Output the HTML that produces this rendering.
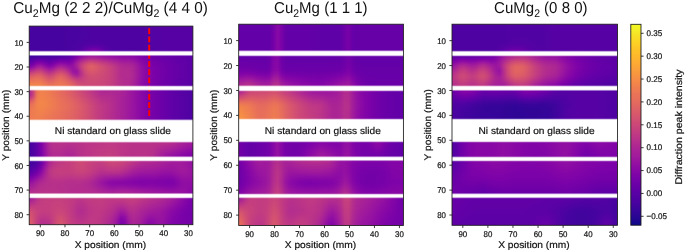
<!DOCTYPE html>
<html><head><meta charset="utf-8"><title>Diffraction peak intensity maps</title>
<style>
html,body{margin:0;padding:0;background:#fff}
body{width:685px;height:252px;position:relative;overflow:hidden;font-family:"Liberation Sans",sans-serif}
.s{position:absolute}
.s i{display:block;height:1px}
</style></head><body>
<div class="s" style="left:29px;top:25px;width:164px">
<i style="background:linear-gradient(90deg,#46039f,#46039f,#46039f,#46039f,#46039f,#46039f,#46039f,#46039f,#46039f,#48039f,#4903a0,#4903a0,#4903a0,#4b03a1,#4b03a1,#4c02a1,#4e02a2,#4e02a2,#4e02a2,#4e02a2,#4e02a2,#4e02a2,#4e02a2,#4e02a2,#4e02a2,#4e02a2,#4e02a2,#4e02a2,#4e02a2,#5002a2,#5102a3,#5302a3,#5502a4,#5502a4,#5601a4,#5601a4,#5601a4,#5601a4,#5601a4,#5601a4,#5601a4,#5601a4)"></i>
<i style="background:linear-gradient(90deg,#46039f,#46039f,#46039f,#46039f,#46039f,#46039f,#46039f,#46039f,#46039f,#48039f,#4903a0,#4903a0,#4903a0,#4b03a1,#4b03a1,#4c02a1,#4e02a2,#4e02a2,#4e02a2,#4e02a2,#4e02a2,#4e02a2,#4e02a2,#4e02a2,#4e02a2,#4e02a2,#4e02a2,#4e02a2,#4e02a2,#5002a2,#5102a3,#5302a3,#5502a4,#5502a4,#5601a4,#5601a4,#5601a4,#5601a4,#5601a4,#5601a4,#5601a4,#5601a4)"></i>
<i style="background:linear-gradient(90deg,#46039f,#46039f,#46039f,#46039f,#46039f,#46039f,#46039f,#46039f,#46039f,#48039f,#4903a0,#4903a0,#4903a0,#4b03a1,#4b03a1,#4c02a1,#4e02a2,#4e02a2,#4e02a2,#4e02a2,#4e02a2,#4e02a2,#4e02a2,#4e02a2,#4e02a2,#4e02a2,#4e02a2,#4e02a2,#4e02a2,#5002a2,#5102a3,#5302a3,#5502a4,#5502a4,#5601a4,#5601a4,#5601a4,#5601a4,#5601a4,#5601a4,#5601a4,#5601a4)"></i>
<i style="background:linear-gradient(90deg,#46039f,#46039f,#46039f,#46039f,#46039f,#46039f,#46039f,#46039f,#46039f,#48039f,#4903a0,#4903a0,#4903a0,#4b03a1,#4b03a1,#4c02a1,#4e02a2,#4e02a2,#4e02a2,#4e02a2,#4e02a2,#4e02a2,#4e02a2,#4e02a2,#4e02a2,#4e02a2,#4e02a2,#4e02a2,#4e02a2,#5002a2,#5102a3,#5302a3,#5502a4,#5502a4,#5601a4,#5601a4,#5601a4,#5601a4,#5601a4,#5601a4,#5601a4,#5601a4)"></i>
<i style="background:linear-gradient(90deg,#46039f,#46039f,#46039f,#46039f,#46039f,#46039f,#46039f,#46039f,#46039f,#48039f,#4903a0,#4903a0,#4903a0,#4b03a1,#4b03a1,#4c02a1,#4e02a2,#4e02a2,#4e02a2,#4e02a2,#4e02a2,#4e02a2,#4e02a2,#4e02a2,#4e02a2,#4e02a2,#4e02a2,#4e02a2,#4e02a2,#5002a2,#5102a3,#5302a3,#5502a4,#5502a4,#5601a4,#5601a4,#5601a4,#5601a4,#5601a4,#5601a4,#5601a4,#5601a4)"></i>
<i style="background:linear-gradient(90deg,#46039f,#46039f,#46039f,#46039f,#46039f,#46039f,#46039f,#46039f,#46039f,#48039f,#4903a0,#4903a0,#4903a0,#4b03a1,#4b03a1,#4c02a1,#4e02a2,#4e02a2,#4e02a2,#4e02a2,#4e02a2,#4e02a2,#4e02a2,#4e02a2,#4e02a2,#4e02a2,#4e02a2,#4e02a2,#4e02a2,#5002a2,#5102a3,#5302a3,#5502a4,#5502a4,#5601a4,#5601a4,#5601a4,#5601a4,#5601a4,#5601a4,#5601a4,#5601a4)"></i>
<i style="background:linear-gradient(90deg,#46039f,#46039f,#46039f,#46039f,#46039f,#46039f,#46039f,#46039f,#46039f,#48039f,#4903a0,#4903a0,#4903a0,#4b03a1,#4b03a1,#4c02a1,#4e02a2,#4e02a2,#4e02a2,#4e02a2,#4e02a2,#4e02a2,#4e02a2,#4e02a2,#4e02a2,#4e02a2,#4e02a2,#4e02a2,#4e02a2,#5002a2,#5102a3,#5302a3,#5502a4,#5502a4,#5601a4,#5601a4,#5601a4,#5601a4,#5601a4,#5601a4,#5601a4,#5601a4)"></i>
<i style="background:linear-gradient(90deg,#46039f,#46039f,#46039f,#46039f,#46039f,#46039f,#46039f,#46039f,#46039f,#48039f,#4903a0,#4903a0,#4903a0,#4b03a1,#4b03a1,#4c02a1,#4e02a2,#4e02a2,#4e02a2,#4e02a2,#4e02a2,#4e02a2,#4e02a2,#4e02a2,#4e02a2,#4e02a2,#4e02a2,#4e02a2,#4e02a2,#5002a2,#5102a3,#5302a3,#5502a4,#5502a4,#5601a4,#5601a4,#5601a4,#5601a4,#5601a4,#5601a4,#5601a4,#5601a4)"></i>
<i style="background:linear-gradient(90deg,#46039f,#46039f,#46039f,#46039f,#46039f,#46039f,#46039f,#46039f,#46039f,#48039f,#4903a0,#4903a0,#4903a0,#4b03a1,#4b03a1,#4c02a1,#4e02a2,#4e02a2,#4e02a2,#4e02a2,#4e02a2,#4e02a2,#4e02a2,#4e02a2,#4e02a2,#4e02a2,#4e02a2,#4e02a2,#4e02a2,#5002a2,#5102a3,#5302a3,#5502a4,#5502a4,#5601a4,#5601a4,#5601a4,#5601a4,#5601a4,#5601a4,#5601a4,#5601a4)"></i>
<i style="background:linear-gradient(90deg,#46039f,#46039f,#46039f,#46039f,#46039f,#46039f,#46039f,#46039f,#46039f,#48039f,#4903a0,#4903a0,#4903a0,#4b03a1,#4b03a1,#4c02a1,#4e02a2,#4e02a2,#4e02a2,#4e02a2,#4e02a2,#4e02a2,#4e02a2,#4e02a2,#4e02a2,#4e02a2,#4e02a2,#4e02a2,#4e02a2,#5002a2,#5102a3,#5302a3,#5502a4,#5502a4,#5601a4,#5601a4,#5601a4,#5601a4,#5601a4,#5601a4,#5601a4,#5601a4)"></i>
<i style="background:linear-gradient(90deg,#46039f,#46039f,#46039f,#46039f,#46039f,#46039f,#46039f,#46039f,#46039f,#48039f,#4903a0,#4903a0,#4903a0,#4b03a1,#4b03a1,#4c02a1,#4e02a2,#4e02a2,#4e02a2,#4e02a2,#4e02a2,#4e02a2,#4e02a2,#4e02a2,#4e02a2,#4e02a2,#4e02a2,#4e02a2,#4e02a2,#5002a2,#5102a3,#5302a3,#5502a4,#5502a4,#5601a4,#5601a4,#5601a4,#5601a4,#5601a4,#5601a4,#5601a4,#5601a4)"></i>
<i style="background:linear-gradient(90deg,#46039f,#46039f,#46039f,#46039f,#46039f,#46039f,#46039f,#46039f,#46039f,#48039f,#4903a0,#4903a0,#4903a0,#4b03a1,#4b03a1,#4c02a1,#4e02a2,#4e02a2,#4e02a2,#4e02a2,#4e02a2,#4e02a2,#4e02a2,#4e02a2,#4e02a2,#4e02a2,#4e02a2,#4e02a2,#4e02a2,#5002a2,#5102a3,#5302a3,#5502a4,#5502a4,#5601a4,#5601a4,#5601a4,#5601a4,#5601a4,#5601a4,#5601a4,#5601a4)"></i>
<i style="background:linear-gradient(90deg,#46039f,#46039f,#46039f,#46039f,#46039f,#46039f,#46039f,#46039f,#46039f,#48039f,#4903a0,#4903a0,#4903a0,#4b03a1,#4b03a1,#4c02a1,#4e02a2,#4e02a2,#4e02a2,#4e02a2,#4e02a2,#4e02a2,#4e02a2,#4e02a2,#4e02a2,#4e02a2,#4e02a2,#4e02a2,#4e02a2,#5002a2,#5102a3,#5302a3,#5502a4,#5502a4,#5601a4,#5601a4,#5601a4,#5601a4,#5601a4,#5601a4,#5601a4,#5601a4)"></i>
<i style="background:linear-gradient(90deg,#46039f,#46039f,#46039f,#46039f,#46039f,#46039f,#46039f,#46039f,#46039f,#48039f,#4903a0,#4903a0,#4903a0,#4b03a1,#4c02a1,#4c02a1,#4e02a2,#4e02a2,#4e02a2,#4e02a2,#4e02a2,#4e02a2,#4e02a2,#4e02a2,#4e02a2,#4e02a2,#4e02a2,#4e02a2,#4e02a2,#5002a2,#5102a3,#5302a3,#5502a4,#5502a4,#5601a4,#5601a4,#5601a4,#5601a4,#5601a4,#5601a4,#5601a4,#5601a4)"></i>
<i style="background:linear-gradient(90deg,#46039f,#46039f,#46039f,#46039f,#46039f,#46039f,#46039f,#46039f,#46039f,#48039f,#4903a0,#4903a0,#4903a0,#4b03a1,#4c02a1,#4e02a2,#4e02a2,#4e02a2,#4e02a2,#4e02a2,#4e02a2,#4e02a2,#4e02a2,#4e02a2,#4e02a2,#4e02a2,#4e02a2,#4e02a2,#4e02a2,#5002a2,#5102a3,#5302a3,#5502a4,#5502a4,#5601a4,#5601a4,#5601a4,#5601a4,#5601a4,#5601a4,#5601a4,#5601a4)"></i>
<i style="background:linear-gradient(90deg,#46039f,#46039f,#46039f,#46039f,#46039f,#46039f,#46039f,#46039f,#46039f,#48039f,#4903a0,#4903a0,#4b03a1,#4b03a1,#4c02a1,#4e02a2,#4e02a2,#4e02a2,#4e02a2,#4e02a2,#4e02a2,#4e02a2,#4e02a2,#4e02a2,#4e02a2,#4e02a2,#4e02a2,#4e02a2,#4e02a2,#5002a2,#5102a3,#5302a3,#5502a4,#5502a4,#5601a4,#5601a4,#5601a4,#5601a4,#5601a4,#5601a4,#5601a4,#5601a4)"></i>
<i style="background:linear-gradient(90deg,#46039f,#46039f,#46039f,#46039f,#46039f,#46039f,#46039f,#46039f,#46039f,#48039f,#4903a0,#4903a0,#4b03a1,#4b03a1,#4c02a1,#4e02a2,#5002a2,#5002a2,#5002a2,#4e02a2,#4e02a2,#4e02a2,#4e02a2,#4e02a2,#4e02a2,#4e02a2,#4e02a2,#4e02a2,#4e02a2,#5002a2,#5102a3,#5302a3,#5502a4,#5502a4,#5601a4,#5601a4,#5601a4,#5601a4,#5601a4,#5601a4,#5601a4,#5601a4)"></i>
<i style="background:linear-gradient(90deg,#46039f,#46039f,#46039f,#46039f,#46039f,#46039f,#46039f,#46039f,#46039f,#48039f,#4903a0,#4903a0,#4b03a1,#4b03a1,#4e02a2,#5002a2,#5002a2,#5002a2,#5002a2,#4e02a2,#4e02a2,#4e02a2,#4e02a2,#4e02a2,#4e02a2,#4e02a2,#4e02a2,#4e02a2,#4e02a2,#5002a2,#5102a3,#5302a3,#5502a4,#5502a4,#5601a4,#5601a4,#5601a4,#5601a4,#5601a4,#5601a4,#5601a4,#5601a4)"></i>
<i style="background:linear-gradient(90deg,#46039f,#46039f,#46039f,#46039f,#46039f,#46039f,#46039f,#46039f,#46039f,#48039f,#4903a0,#4903a0,#4b03a1,#4c02a1,#4e02a2,#5102a3,#5102a3,#5102a3,#5102a3,#5002a2,#4e02a2,#4e02a2,#4e02a2,#4e02a2,#4e02a2,#4e02a2,#4e02a2,#4e02a2,#4e02a2,#5002a2,#5102a3,#5302a3,#5502a4,#5502a4,#5601a4,#5601a4,#5601a4,#5601a4,#5601a4,#5601a4,#5601a4,#5601a4)"></i>
<i style="background:linear-gradient(90deg,#46039f,#46039f,#46039f,#46039f,#46039f,#46039f,#46039f,#46039f,#46039f,#48039f,#4903a0,#4b03a1,#4b03a1,#4c02a1,#5002a2,#5302a3,#5502a4,#5502a4,#5302a3,#5002a2,#4e02a2,#4e02a2,#4e02a2,#4e02a2,#4e02a2,#4e02a2,#4e02a2,#4e02a2,#4e02a2,#5002a2,#5102a3,#5302a3,#5502a4,#5502a4,#5601a4,#5601a4,#5601a4,#5601a4,#5601a4,#5601a4,#5601a4,#5601a4)"></i>
<i style="background:linear-gradient(90deg,#46039f,#46039f,#46039f,#46039f,#46039f,#46039f,#46039f,#46039f,#46039f,#48039f,#4903a0,#4b03a1,#4b03a1,#4e02a2,#5102a3,#5601a4,#5901a5,#5801a4,#5502a4,#5102a3,#5002a2,#4e02a2,#4e02a2,#4e02a2,#4e02a2,#4e02a2,#4e02a2,#4e02a2,#4e02a2,#5002a2,#5102a3,#5302a3,#5502a4,#5502a4,#5601a4,#5601a4,#5601a4,#5601a4,#5601a4,#5601a4,#5601a4,#5601a4)"></i>
<i style="background:linear-gradient(90deg,#46039f,#46039f,#46039f,#46039f,#46039f,#46039f,#46039f,#46039f,#46039f,#48039f,#4903a0,#4b03a1,#4c02a1,#5002a2,#5502a4,#5b01a5,#5e01a6,#5e01a6,#5901a5,#5302a3,#5002a2,#4e02a2,#4e02a2,#4e02a2,#4e02a2,#4e02a2,#4e02a2,#4e02a2,#4e02a2,#5002a2,#5102a3,#5302a3,#5502a4,#5502a4,#5601a4,#5601a4,#5601a4,#5601a4,#5601a4,#5601a4,#5601a4,#5601a4)"></i>
<i style="background:linear-gradient(90deg,#46039f,#46039f,#46039f,#46039f,#46039f,#46039f,#46039f,#46039f,#46039f,#48039f,#4903a0,#4b03a1,#4c02a1,#5102a3,#5801a4,#6100a7,#6600a7,#6400a7,#5e01a6,#5601a4,#5102a3,#4e02a2,#4e02a2,#4e02a2,#4e02a2,#4e02a2,#4e02a2,#4e02a2,#4e02a2,#5002a2,#5102a3,#5302a3,#5502a4,#5502a4,#5601a4,#5601a4,#5601a4,#5601a4,#5601a4,#5601a4,#5601a4,#5601a4)"></i>
<i style="background:linear-gradient(90deg,#46039f,#46039f,#46039f,#46039f,#46039f,#46039f,#46039f,#46039f,#46039f,#48039f,#4903a0,#4b03a1,#4e02a2,#5302a3,#5c01a6,#6700a8,#6e00a8,#6c00a8,#6300a7,#5801a4,#5102a3,#4e02a2,#4e02a2,#4e02a2,#4e02a2,#4e02a2,#4e02a2,#4e02a2,#4e02a2,#5002a2,#5102a3,#5302a3,#5502a4,#5502a4,#5601a4,#5601a4,#5601a4,#5601a4,#5601a4,#5601a4,#5601a4,#5601a4)"></i>
<i style="background:linear-gradient(90deg,#46039f,#46039f,#46039f,#46039f,#46039f,#46039f,#46039f,#46039f,#46039f,#48039f,#4903a0,#4b03a1,#4e02a2,#5502a4,#6001a6,#6e00a8,#7501a8,#7401a8,#6700a8,#5b01a5,#5302a3,#4e02a2,#4e02a2,#4e02a2,#4e02a2,#4e02a2,#4e02a2,#4e02a2,#4e02a2,#5002a2,#5102a3,#5302a3,#5502a4,#5502a4,#5601a4,#5601a4,#5601a4,#5601a4,#5601a4,#5601a4,#5601a4,#5601a4)"></i>
<i style="background:linear-gradient(90deg,#46039f,#46039f,#46039f,#46039f,#46039f,#46039f,#46039f,#46039f,#46039f,#48039f,#4903a0,#4b03a1,#4e02a2,#5601a4,#6300a7,#7201a8,#7d03a8,#7a02a8,#6c00a8,#5c01a6,#5302a3,#5002a2,#4e02a2,#4e02a2,#4e02a2,#4e02a2,#4e02a2,#4e02a2,#4e02a2,#5002a2,#5102a3,#5302a3,#5502a4,#5502a4,#5601a4,#5601a4,#5601a4,#5601a4,#5601a4,#5601a4,#5601a4,#5601a4)"></i>
<i style="background:linear-gradient(90deg,#46039f,#46039f,#46039f,#46039f,#46039f,#46039f,#46039f,#46039f,#46039f,#48039f,#4903a0,#4b03a1,#4e02a2,#5601a4,#6400a7,#7501a8,#8004a8,#7d03a8,#6e00a8,#5e01a6,#5302a3,#5002a2,#4e02a2,#4e02a2,#4e02a2,#4e02a2,#4e02a2,#4e02a2,#4e02a2,#5002a2,#5102a3,#5302a3,#5502a4,#5502a4,#5601a4,#5601a4,#5601a4,#5601a4,#5601a4,#5601a4,#5601a4,#5601a4)"></i>
<i style="background:linear-gradient(90deg,#46039f,#46039f,#46039f,#46039f,#46039f,#46039f,#46039f,#46039f,#46039f,#48039f,#4903a0,#4b03a1,#5002a2,#5601a4,#6400a7,#7501a8,#8004a8,#7d03a8,#6e00a8,#5e01a6,#5302a3,#5002a2,#4e02a2,#4e02a2,#4e02a2,#4e02a2,#4e02a2,#4e02a2,#4e02a2,#5002a2,#5102a3,#5302a3,#5502a4,#5502a4,#5601a4,#5601a4,#5601a4,#5601a4,#5601a4,#5601a4,#5601a4,#5601a4)"></i>
</div>
<div class="s" style="left:29px;top:54px;width:164px">
<i style="background:linear-gradient(90deg,#3a049a,#3a049a,#3a049a,#3c049b,#3f049c,#43039e,#43039e,#43039e,#44039e,#4903a0,#5102a3,#6001a6,#7401a8,#8405a7,#8e0ca4,#9511a1,#9613a1,#9511a1,#9410a2,#910ea3,#8e0ca4,#8b0aa5,#8a09a5,#8707a6,#8707a6,#8707a6,#8606a6,#8104a7,#7b02a8,#7501a8,#6f00a8,#6a00a8,#6900a8,#6700a8,#6600a7,#6400a7,#6300a7,#6100a7,#6001a6,#5e01a6,#5b01a5,#5b01a5)"></i>
<i style="background:linear-gradient(90deg,#3c049b,#3e049c,#3f049c,#41049d,#43039e,#44039e,#46039f,#46039f,#4903a0,#4c02a1,#5502a4,#6300a7,#7801a8,#8808a6,#920fa3,#99159f,#9a169f,#99159f,#9613a1,#9410a2,#910ea3,#8e0ca4,#8b0aa5,#8a09a5,#8808a6,#8808a6,#8707a6,#8305a7,#7d03a8,#7701a8,#7100a8,#6c00a8,#6900a8,#6700a8,#6600a7,#6400a7,#6300a7,#6100a7,#6001a6,#5e01a6,#5c01a6,#5b01a5)"></i>
<i style="background:linear-gradient(90deg,#3f049c,#41049d,#44039e,#46039f,#48039f,#4903a0,#4b03a1,#4c02a1,#5002a2,#5302a3,#5801a4,#6700a8,#7d03a8,#8e0ca4,#9814a0,#9e199d,#a11b9b,#9e199d,#9c179e,#9814a0,#9511a1,#920fa3,#8f0da4,#8d0ba5,#8b0aa5,#8b0aa5,#8a09a5,#8405a7,#7e03a8,#7801a8,#7100a8,#6c00a8,#6a00a8,#6900a8,#6600a7,#6400a7,#6300a7,#6100a7,#6001a6,#5e01a6,#5c01a6,#5b01a5)"></i>
<i style="background:linear-gradient(90deg,#44039e,#48039f,#4c02a1,#4e02a2,#4e02a2,#4c02a1,#5002a2,#5302a3,#5601a4,#5901a5,#5e01a6,#6e00a8,#8305a7,#9410a2,#9e199d,#a62098,#a82296,#a51f99,#a11b9b,#9e199d,#9a169f,#9613a1,#9410a2,#910ea3,#8f0da4,#8f0da4,#8d0ba5,#8707a6,#8004a8,#7a02a8,#7201a8,#6e00a8,#6a00a8,#6900a8,#6700a8,#6600a7,#6400a7,#6100a7,#6001a6,#5e01a6,#5c01a6,#5b01a5)"></i>
<i style="background:linear-gradient(90deg,#48039f,#4e02a2,#5502a4,#5801a4,#5502a4,#5302a3,#5601a4,#5b01a5,#6001a6,#6100a7,#6400a7,#7201a8,#8808a6,#9c179e,#a62098,#ae2892,#b02991,#ac2694,#a82296,#a51f99,#a01a9c,#9c179e,#9814a0,#9511a1,#9410a2,#9410a2,#8f0da4,#8a09a5,#8305a7,#7b02a8,#7401a8,#6f00a8,#6c00a8,#6a00a8,#6900a8,#6600a7,#6400a7,#6300a7,#6001a6,#5e01a6,#5c01a6,#5b01a5)"></i>
<i style="background:linear-gradient(90deg,#4c02a1,#5502a4,#5e01a6,#6100a7,#5c01a6,#5801a4,#5c01a6,#6400a7,#6900a8,#6900a8,#6a00a8,#7a02a8,#8f0da4,#a21d9a,#ae2892,#b6308b,#b7318a,#b42e8d,#b02991,#ab2494,#a62098,#a21d9a,#9d189d,#99159f,#9814a0,#9814a0,#9410a2,#8d0ba5,#8405a7,#7d03a8,#7501a8,#7100a8,#6e00a8,#6c00a8,#6900a8,#6700a8,#6400a7,#6300a7,#6100a7,#5e01a6,#5c01a6,#5b01a5)"></i>
<i style="background:linear-gradient(90deg,#5102a3,#5b01a5,#6700a8,#6c00a8,#6400a7,#5e01a6,#6300a7,#6e00a8,#7201a8,#7100a8,#7100a8,#8004a8,#9613a1,#aa2395,#b6308b,#be3885,#c03a83,#bb3488,#b6308b,#b12a90,#ac2694,#a72197,#a21d9a,#9d189d,#9c179e,#9c179e,#9814a0,#8f0da4,#8707a6,#7e03a8,#7801a8,#7201a8,#6f00a8,#6c00a8,#6a00a8,#6700a8,#6600a7,#6300a7,#6100a7,#5e01a6,#5c01a6,#5b01a5)"></i>
<i style="background:linear-gradient(90deg,#5601a4,#6300a7,#7100a8,#7501a8,#6c00a8,#6400a7,#6a00a8,#7501a8,#7d03a8,#7a02a8,#7801a8,#8606a6,#9d189d,#b12a90,#bd3786,#c6417d,#c7427c,#c23c81,#bc3587,#b7318a,#b22b8f,#ad2793,#a72197,#a21d9a,#a01a9c,#a01a9c,#9c179e,#920fa3,#8a09a5,#8104a7,#7a02a8,#7401a8,#7100a8,#6e00a8,#6c00a8,#6900a8,#6600a7,#6400a7,#6100a7,#6001a6,#5c01a6,#5b01a5)"></i>
<i style="background:linear-gradient(90deg,#5c01a6,#6900a8,#7b02a8,#8004a8,#7401a8,#6a00a8,#7100a8,#7e03a8,#8606a6,#8104a7,#7e03a8,#8a09a5,#a21d9a,#b6308b,#c43e7f,#cc4977,#cd4a76,#c8437b,#c23c81,#bd3786,#b7318a,#b22b8f,#ac2694,#a62098,#a31e9a,#a31e9a,#a01a9c,#9613a1,#8b0aa5,#8305a7,#7b02a8,#7501a8,#7201a8,#6f00a8,#6c00a8,#6a00a8,#6700a8,#6400a7,#6100a7,#6001a6,#5c01a6,#5b01a5)"></i>
<i style="background:linear-gradient(90deg,#6300a7,#7100a8,#8405a7,#8808a6,#7d03a8,#7100a8,#7801a8,#8707a6,#8e0ca4,#8a09a5,#8405a7,#8e0ca4,#a62098,#bc3587,#ca457a,#d35171,#d35171,#cd4a76,#c8437b,#c23c81,#bd3786,#b6308b,#b02991,#aa2395,#a72197,#a72197,#a21d9a,#99159f,#8e0ca4,#8405a7,#7d03a8,#7701a8,#7201a8,#7100a8,#6e00a8,#6a00a8,#6700a8,#6400a7,#6300a7,#6001a6,#5c01a6,#5b01a5)"></i>
<i style="background:linear-gradient(90deg,#6900a8,#7801a8,#8e0ca4,#920fa3,#8405a7,#7801a8,#8004a8,#8f0da4,#9814a0,#920fa3,#8a09a5,#920fa3,#a82296,#bf3984,#cd4a76,#d7566c,#d8576b,#d24f71,#cc4778,#c6417d,#c13b82,#bb3488,#b32c8e,#ad2793,#ab2494,#aa2395,#a62098,#9c179e,#8f0da4,#8606a6,#7e03a8,#7701a8,#7401a8,#7100a8,#6e00a8,#6a00a8,#6900a8,#6600a7,#6300a7,#6001a6,#5c01a6,#5b01a5)"></i>
<i style="background:linear-gradient(90deg,#7100a8,#8104a7,#9613a1,#9c179e,#8d0ba5,#7e03a8,#8707a6,#9814a0,#a01a9c,#99159f,#910ea3,#9511a1,#a82296,#c13b82,#d14e72,#da5b69,#db5c68,#d5546e,#cf4c74,#ca457a,#c43e7f,#be3885,#b6308b,#b02991,#ad2793,#ad2793,#a82296,#9d189d,#910ea3,#8707a6,#8004a8,#7801a8,#7501a8,#7201a8,#6f00a8,#6c00a8,#6900a8,#6600a7,#6300a7,#6001a6,#5c01a6,#5b01a5)"></i>
<i style="background:linear-gradient(90deg,#7b02a8,#8b0aa5,#a01a9c,#a31e9a,#9511a1,#8707a6,#8e0ca4,#a11b9b,#a82296,#a11b9b,#9613a1,#9511a1,#a82296,#c23c81,#d24f71,#dc5d67,#dd5e66,#d7566c,#d14e72,#cc4778,#c6417d,#c03a83,#b7318a,#b12a90,#ae2892,#ae2892,#aa2395,#9e199d,#920fa3,#8808a6,#8004a8,#7a02a8,#7501a8,#7201a8,#6f00a8,#6c00a8,#6900a8,#6600a7,#6300a7,#6001a6,#5c01a6,#5b01a5)"></i>
<i style="background:linear-gradient(90deg,#8707a6,#9511a1,#a82296,#ac2694,#9d189d,#8f0da4,#9613a1,#a82296,#b02991,#a82296,#9c179e,#9613a1,#a62098,#c13b82,#d35171,#dc5d67,#dd5e66,#d8576b,#d24f71,#cc4977,#c8437b,#c13b82,#ba3388,#b22b8f,#b02991,#b02991,#ab2494,#a01a9c,#920fa3,#8808a6,#8104a7,#7a02a8,#7501a8,#7201a8,#6f00a8,#6c00a8,#6900a8,#6600a7,#6300a7,#6001a6,#5c01a6,#5b01a5)"></i>
<i style="background:linear-gradient(90deg,#920fa3,#a01a9c,#b12a90,#b32c8e,#a51f99,#9814a0,#a01a9c,#b02991,#b7318a,#b02991,#a11b9b,#9613a1,#a21d9a,#bf3984,#d24f71,#db5c68,#dd5e66,#d8576b,#d24f71,#cd4a76,#c8437b,#c23c81,#ba3388,#b32c8e,#b12a90,#b12a90,#ac2694,#a01a9c,#9410a2,#8a09a5,#8104a7,#7a02a8,#7701a8,#7201a8,#6f00a8,#6c00a8,#6900a8,#6600a7,#6300a7,#6001a6,#5c01a6,#5b01a5)"></i>
<i style="background:linear-gradient(90deg,#9e199d,#aa2395,#b83289,#bb3488,#ad2793,#a01a9c,#a72197,#b7318a,#be3885,#b6308b,#a62098,#9613a1,#9e199d,#bd3786,#d04d73,#da5b69,#db5c68,#d7566c,#d24f71,#cd4a76,#c9447a,#c23c81,#ba3388,#b32c8e,#b12a90,#b12a90,#ac2694,#a11b9b,#9410a2,#8a09a5,#8104a7,#7b02a8,#7701a8,#7401a8,#6f00a8,#6c00a8,#6900a8,#6600a7,#6300a7,#6001a6,#5c01a6,#5b01a5)"></i>
<i style="background:linear-gradient(90deg,#aa2395,#b42e8d,#c13b82,#c23c81,#b42e8d,#a82296,#b02991,#be3885,#c43e7f,#bd3786,#ac2694,#9814a0,#9c179e,#ba3388,#cf4c74,#d9586a,#da5a6a,#d5546e,#d14e72,#cc4977,#c8437b,#c23c81,#ba3388,#b32c8e,#b12a90,#b12a90,#ac2694,#a11b9b,#9410a2,#8a09a5,#8104a7,#7b02a8,#7701a8,#7401a8,#6f00a8,#6c00a8,#6900a8,#6600a7,#6300a7,#6001a6,#5c01a6,#5b01a5)"></i>
<i style="background:linear-gradient(90deg,#b42e8d,#bd3786,#c8437b,#c8437b,#bc3587,#b02991,#b6308b,#c5407e,#cb4679,#c33d80,#b22b8f,#99159f,#99159f,#b7318a,#cd4a76,#d7566c,#d8576b,#d5536f,#d04d73,#cc4977,#c8437b,#c23c81,#bb3488,#b32c8e,#b22b8f,#b22b8f,#ac2694,#a11b9b,#9410a2,#8a09a5,#8305a7,#7b02a8,#7701a8,#7401a8,#6f00a8,#6c00a8,#6900a8,#6600a7,#6300a7,#6001a6,#5c01a6,#5b01a5)"></i>
<i style="background:linear-gradient(90deg,#be3885,#c5407e,#ce4b75,#ce4b75,#c23c81,#b6308b,#bd3786,#cb4679,#d04d73,#c9447a,#b7318a,#9d189d,#9a169f,#b6308b,#cc4778,#d5546e,#d7566c,#d45270,#cf4c74,#cc4778,#c8437b,#c23c81,#bb3488,#b32c8e,#b22b8f,#b22b8f,#ad2793,#a11b9b,#9410a2,#8a09a5,#8305a7,#7b02a8,#7701a8,#7401a8,#6f00a8,#6c00a8,#6900a8,#6600a7,#6300a7,#6001a6,#5c01a6,#5b01a5)"></i>
<i style="background:linear-gradient(90deg,#c6417d,#cc4977,#d5536f,#d45270,#c8437b,#be3885,#c43e7f,#d04d73,#d5546e,#ce4b75,#be3885,#a31e9a,#9d189d,#b6308b,#ca457a,#d45270,#d5546e,#d24f71,#cf4c74,#cc4778,#c8437b,#c23c81,#bb3488,#b32c8e,#b22b8f,#b22b8f,#ad2793,#a11b9b,#9410a2,#8a09a5,#8305a7,#7b02a8,#7701a8,#7401a8,#6f00a8,#6c00a8,#6900a8,#6600a7,#6300a7,#6001a6,#5c01a6,#5b01a5)"></i>
<i style="background:linear-gradient(90deg,#ce4b75,#d35171,#da5a6a,#d9586a,#cd4a76,#c43e7f,#ca457a,#d5546e,#da5a6a,#d35171,#c33d80,#aa2395,#a11b9b,#b6308b,#c9447a,#d24f71,#d45270,#d14e72,#ce4b75,#cc4778,#c8437b,#c23c81,#bb3488,#b32c8e,#b22b8f,#b22b8f,#ad2793,#a11b9b,#9410a2,#8a09a5,#8305a7,#7d03a8,#7701a8,#7401a8,#6f00a8,#6c00a8,#6900a8,#6600a7,#6300a7,#6001a6,#5c01a6,#5b01a5)"></i>
<i style="background:linear-gradient(90deg,#d5536f,#d9586a,#de6164,#dd5e66,#d35171,#c9447a,#ce4b75,#da5a6a,#de5f65,#d7566c,#c9447a,#b22b8f,#a72197,#b83289,#c9447a,#d04d73,#d24f71,#d04d73,#cd4a76,#cb4679,#c8437b,#c23c81,#bb3488,#b32c8e,#b22b8f,#b22b8f,#ad2793,#a11b9b,#9410a2,#8a09a5,#8305a7,#7d03a8,#7701a8,#7401a8,#6f00a8,#6c00a8,#6900a8,#6600a7,#6300a7,#6001a6,#5c01a6,#5b01a5)"></i>
<i style="background:linear-gradient(90deg,#da5a6a,#de5f65,#e26660,#e16462,#d6556d,#ce4b75,#d35171,#dd5e66,#e16462,#da5b69,#cd4a76,#b83289,#ae2892,#bb3488,#c8437b,#cf4c74,#d14e72,#cf4c74,#cd4a76,#cb4679,#c7427c,#c23c81,#bb3488,#b32c8e,#b22b8f,#b22b8f,#ad2793,#a11b9b,#9410a2,#8a09a5,#8305a7,#7d03a8,#7701a8,#7201a8,#6f00a8,#6c00a8,#6900a8,#6600a7,#6300a7,#6001a6,#5c01a6,#5b01a5)"></i>
<i style="background:linear-gradient(90deg,#de6164,#e26561,#e56b5d,#e4695e,#da5b69,#d24f71,#d6556d,#e06363,#e3685f,#dd5e66,#d24f71,#c03a83,#b6308b,#be3885,#c9447a,#ce4b75,#d04d73,#cf4c74,#cc4977,#cb4679,#c7427c,#c23c81,#bb3488,#b32c8e,#b22b8f,#b22b8f,#ac2694,#a11b9b,#9410a2,#8a09a5,#8305a7,#7b02a8,#7701a8,#7201a8,#6f00a8,#6c00a8,#6900a8,#6600a7,#6300a7,#6001a6,#5c01a6,#5b01a5)"></i>
<i style="background:linear-gradient(90deg,#e26561,#e56a5d,#e76f5a,#e66c5c,#de5f65,#d6556d,#da5a6a,#e26660,#e56b5d,#df6263,#d5546e,#c7427c,#bd3786,#c13b82,#c9447a,#ce4b75,#cf4c74,#ce4b75,#cc4977,#ca457a,#c7427c,#c23c81,#bb3488,#b42e8d,#b22b8f,#b22b8f,#ac2694,#a01a9c,#920fa3,#8a09a5,#8305a7,#7b02a8,#7701a8,#7201a8,#6f00a8,#6c00a8,#6900a8,#6600a7,#6300a7,#6001a6,#5c01a6,#5901a5)"></i>
<i style="background:linear-gradient(90deg,#e56b5d,#e76f5a,#ea7457,#e87059,#e16462,#da5a6a,#dd5e66,#e4695e,#e76e5b,#e26561,#d9586a,#cc4977,#c33d80,#c43e7f,#ca457a,#cd4a76,#ce4b75,#cd4a76,#cc4977,#ca457a,#c7427c,#c23c81,#bb3488,#b42e8d,#b22b8f,#b12a90,#ac2694,#a01a9c,#920fa3,#8808a6,#8104a7,#7b02a8,#7701a8,#7201a8,#6f00a8,#6a00a8,#6700a8,#6400a7,#6100a7,#5e01a6,#5c01a6,#5901a5)"></i>
<i style="background:linear-gradient(90deg,#e87059,#e97257,#eb7655,#ea7457,#e3685f,#dd5e66,#df6263,#e66c5c,#e76f5a,#e3685f,#dc5d67,#d14e72,#c8437b,#c6417d,#ca457a,#cd4a76,#ce4b75,#cd4a76,#cc4778,#ca457a,#c7427c,#c13b82,#bb3488,#b42e8d,#b22b8f,#b12a90,#ab2494,#a01a9c,#920fa3,#8808a6,#8104a7,#7b02a8,#7701a8,#7201a8,#6e00a8,#6a00a8,#6700a8,#6400a7,#6100a7,#5e01a6,#5b01a5,#5901a5)"></i>
<i style="background:linear-gradient(90deg,#eb7556,#ec7754,#ed7a52,#ec7754,#e66c5c,#e06363,#e26660,#e76f5a,#e97158,#e56b5d,#de6164,#d5546e,#cc4977,#c9447a,#cb4679,#cd4a76,#cd4a76,#cc4977,#cc4778,#c9447a,#c6417d,#c13b82,#bb3488,#b42e8d,#b22b8f,#b12a90,#ab2494,#9e199d,#920fa3,#8808a6,#8104a7,#7b02a8,#7501a8,#7100a8,#6e00a8,#6a00a8,#6700a8,#6400a7,#6100a7,#5e01a6,#5b01a5,#5901a5)"></i>
<i style="background:linear-gradient(90deg,#ed7953,#ee7b51,#ef7e50,#ed7a52,#e87059,#e3685f,#e56a5d,#e97158,#ea7457,#e76e5b,#e16462,#d9586a,#cf4c74,#cb4679,#cc4778,#cc4977,#cd4a76,#cc4977,#cc4778,#c9447a,#c6417d,#c13b82,#bb3488,#b42e8d,#b22b8f,#b02991,#aa2395,#9e199d,#910ea3,#8808a6,#8104a7,#7a02a8,#7501a8,#7100a8,#6e00a8,#6a00a8,#6700a8,#6400a7,#6100a7,#5e01a6,#5b01a5,#5801a4)"></i>
<i style="background:linear-gradient(90deg,#ef7e50,#f07f4f,#f0804e,#ef7e50,#ea7457,#e66c5c,#e76e5b,#ea7457,#eb7556,#e87059,#e3685f,#db5c68,#d24f71,#cc4977,#cc4977,#cc4977,#cc4977,#cc4977,#cc4778,#c9447a,#c6417d,#c13b82,#bb3488,#b42e8d,#b22b8f,#b02991,#aa2395,#9e199d,#910ea3,#8707a6,#8004a8,#7a02a8,#7501a8,#7100a8,#6e00a8,#6a00a8,#6700a8,#6400a7,#6100a7,#5e01a6,#5b01a5,#5801a4)"></i>
<i style="background:linear-gradient(90deg,#f1814d,#f1834c,#f2844b,#f0804e,#ec7754,#e87059,#e97158,#eb7655,#ec7754,#e97158,#e56a5d,#de5f65,#d5536f,#ce4b75,#cc4977,#cc4977,#cc4977,#cc4778,#cb4679,#c9447a,#c6417d,#c13b82,#bb3488,#b42e8d,#b22b8f,#b02991,#aa2395,#9d189d,#910ea3,#8707a6,#8004a8,#7a02a8,#7501a8,#7100a8,#6c00a8,#6900a8,#6600a7,#6300a7,#6001a6,#5c01a6,#5901a5,#5801a4)"></i>
<i style="background:linear-gradient(90deg,#f2844b,#f3854b,#f3854b,#f1834c,#ed7a52,#ea7457,#ea7457,#ec7754,#ed7953,#ea7457,#e66c5c,#df6263,#d6556d,#cf4c74,#cd4a76,#cc4977,#cc4778,#cc4778,#cb4679,#c9447a,#c5407e,#c13b82,#bb3488,#b42e8d,#b22b8f,#b02991,#a82296,#9d189d,#910ea3,#8707a6,#8004a8,#7a02a8,#7401a8,#7100a8,#6c00a8,#6900a8,#6600a7,#6300a7,#6001a6,#5c01a6,#5901a5,#5801a4)"></i>
<i style="background:linear-gradient(90deg,#f3874a,#f48849,#f48849,#f2844b,#ef7c51,#eb7655,#eb7655,#ed7953,#ed7a52,#eb7556,#e76f5a,#e16462,#d7566c,#d04d73,#cd4a76,#cc4977,#cc4778,#cc4778,#cb4679,#c9447a,#c5407e,#c13b82,#bb3488,#b52f8c,#b22b8f,#b02991,#a82296,#9d189d,#910ea3,#8707a6,#8004a8,#7a02a8,#7401a8,#6f00a8,#6c00a8,#6900a8,#6600a7,#6300a7,#6001a6,#5c01a6,#5901a5,#5801a4)"></i>
</div>
<div class="s" style="left:29px;top:89px;width:164px">
<i style="background:linear-gradient(90deg,#b52f8c,#cd4a76,#eb7655,#f0804e,#f07f4f,#ed7a52,#eb7556,#e76f5a,#e4695e,#e06363,#dc5d67,#d7566c,#d14e72,#cb4679,#c5407e,#bf3984,#b83289,#b22b8f,#ad2793,#ac2694,#ad2793,#ad2793,#ac2694,#aa2395,#a51f99,#9e199d,#9814a0,#910ea3,#8a09a5,#8305a7,#7b02a8,#7501a8,#7100a8,#6c00a8,#6700a8,#6300a7,#5e01a6,#5b01a5,#5801a4,#5502a4,#5102a3,#4e02a2)"></i>
<i style="background:linear-gradient(90deg,#ae2892,#ca457a,#eb7655,#f0804e,#f07f4f,#ee7b51,#eb7556,#e76f5a,#e4695e,#e16462,#dc5d67,#d7566c,#d24f71,#cc4778,#c6417d,#c03a83,#ba3388,#b32c8e,#ad2793,#ad2793,#ad2793,#ad2793,#ac2694,#aa2395,#a51f99,#9e199d,#9814a0,#910ea3,#8a09a5,#8305a7,#7b02a8,#7501a8,#7100a8,#6c00a8,#6700a8,#6300a7,#5e01a6,#5b01a5,#5801a4,#5502a4,#5102a3,#4e02a2)"></i>
<i style="background:linear-gradient(90deg,#a82296,#c6417d,#eb7655,#f1814d,#f07f4f,#ee7b51,#eb7556,#e87059,#e56a5d,#e16462,#dd5e66,#d8576b,#d24f71,#cc4977,#c7427c,#c13b82,#bb3488,#b42e8d,#ae2892,#ad2793,#ae2892,#ad2793,#ac2694,#aa2395,#a51f99,#9e199d,#9814a0,#910ea3,#8a09a5,#8305a7,#7b02a8,#7501a8,#7100a8,#6c00a8,#6700a8,#6300a7,#5e01a6,#5b01a5,#5801a4,#5502a4,#5102a3,#4e02a2)"></i>
<i style="background:linear-gradient(90deg,#a51f99,#c43e7f,#eb7655,#f1814d,#f07f4f,#ee7b51,#eb7655,#e87059,#e56a5d,#e26561,#de5f65,#d9586a,#d35171,#cd4a76,#c8437b,#c23c81,#bc3587,#b52f8c,#b02991,#ae2892,#ae2892,#ae2892,#ac2694,#aa2395,#a51f99,#9e199d,#9814a0,#910ea3,#8a09a5,#8305a7,#7b02a8,#7501a8,#7100a8,#6c00a8,#6700a8,#6300a7,#5e01a6,#5b01a5,#5801a4,#5502a4,#5102a3,#4e02a2)"></i>
<i style="background:linear-gradient(90deg,#a31e9a,#c43e7f,#ec7754,#f1814d,#f0804e,#ee7b51,#eb7655,#e87059,#e56b5d,#e26561,#de5f65,#da5a6a,#d45270,#ce4b75,#c9447a,#c33d80,#bd3786,#b6308b,#b12a90,#b02991,#b02991,#ae2892,#ac2694,#aa2395,#a51f99,#9e199d,#9814a0,#910ea3,#8a09a5,#8305a7,#7b02a8,#7501a8,#7100a8,#6c00a8,#6700a8,#6300a7,#5e01a6,#5b01a5,#5801a4,#5502a4,#5102a3,#4e02a2)"></i>
<i style="background:linear-gradient(90deg,#a51f99,#c5407e,#ec7754,#f1834c,#f0804e,#ef7c51,#ec7754,#e97158,#e56b5d,#e26660,#de6164,#da5a6a,#d5536f,#cf4c74,#ca457a,#c43e7f,#be3885,#b7318a,#b22b8f,#b12a90,#b12a90,#ae2892,#ac2694,#aa2395,#a51f99,#9e199d,#9814a0,#910ea3,#8a09a5,#8305a7,#7b02a8,#7501a8,#7100a8,#6c00a8,#6700a8,#6300a7,#5e01a6,#5b01a5,#5801a4,#5502a4,#5102a3,#4e02a2)"></i>
<i style="background:linear-gradient(90deg,#aa2395,#c7427c,#ed7953,#f1834c,#f0804e,#ef7c51,#ec7754,#e97158,#e66c5c,#e26660,#df6263,#da5b69,#d5546e,#d04d73,#cb4679,#c5407e,#bf3984,#b83289,#b32c8e,#b22b8f,#b12a90,#b02991,#ac2694,#aa2395,#a51f99,#9e199d,#9814a0,#910ea3,#8a09a5,#8305a7,#7b02a8,#7501a8,#7100a8,#6c00a8,#6700a8,#6300a7,#5e01a6,#5b01a5,#5801a4,#5502a4,#5102a3,#4e02a2)"></i>
<i style="background:linear-gradient(90deg,#b02991,#cb4679,#ed7a52,#f1834c,#f1814d,#ef7c51,#ec7754,#e97257,#e66c5c,#e3685f,#e06363,#db5c68,#d6556d,#d14e72,#cc4778,#c6417d,#c03a83,#ba3388,#b42e8d,#b32c8e,#b22b8f,#b02991,#ad2793,#aa2395,#a31e9a,#9e199d,#9814a0,#910ea3,#8a09a5,#8305a7,#7b02a8,#7501a8,#7100a8,#6c00a8,#6700a8,#6300a7,#5e01a6,#5b01a5,#5801a4,#5502a4,#5102a3,#4e02a2)"></i>
<i style="background:linear-gradient(90deg,#b83289,#cf4c74,#ee7b51,#f2844b,#f1814d,#ef7e50,#ed7953,#e97257,#e76e5b,#e4695e,#e16462,#dc5d67,#d7566c,#d24f71,#cc4977,#c7427c,#c13b82,#bb3488,#b6308b,#b42e8d,#b32c8e,#b12a90,#ad2793,#a82296,#a31e9a,#9e199d,#9814a0,#910ea3,#8a09a5,#8305a7,#7b02a8,#7501a8,#7100a8,#6c00a8,#6700a8,#6300a7,#5e01a6,#5b01a5,#5801a4,#5502a4,#5102a3,#4e02a2)"></i>
<i style="background:linear-gradient(90deg,#c13b82,#d5536f,#ef7c51,#f2844b,#f1814d,#ef7e50,#ed7953,#ea7457,#e76f5a,#e56a5d,#e16462,#dd5e66,#d8576b,#d45270,#ce4b75,#c9447a,#c33d80,#bd3786,#b7318a,#b52f8c,#b32c8e,#b12a90,#ad2793,#a82296,#a31e9a,#9e199d,#9814a0,#910ea3,#8a09a5,#8305a7,#7b02a8,#7501a8,#7100a8,#6c00a8,#6700a8,#6300a7,#5e01a6,#5b01a5,#5801a4,#5502a4,#5102a3,#4e02a2)"></i>
<i style="background:linear-gradient(90deg,#ca457a,#da5a6a,#ef7e50,#f3854b,#f1834c,#f07f4f,#ed7a52,#ea7457,#e76f5a,#e56a5d,#e26561,#de5f65,#da5a6a,#d5536f,#cf4c74,#ca457a,#c43e7f,#be3885,#b83289,#b52f8c,#b42e8d,#b12a90,#ad2793,#a82296,#a31e9a,#9e199d,#9814a0,#910ea3,#8a09a5,#8305a7,#7b02a8,#7501a8,#7100a8,#6c00a8,#6700a8,#6300a7,#5e01a6,#5b01a5,#5801a4,#5502a4,#5102a3,#4e02a2)"></i>
<i style="background:linear-gradient(90deg,#d14e72,#de5f65,#f07f4f,#f3854b,#f1834c,#f07f4f,#ed7a52,#eb7556,#e87059,#e56b5d,#e26660,#de6164,#da5b69,#d5546e,#d04d73,#cb4679,#c5407e,#bf3984,#ba3388,#b6308b,#b42e8d,#b22b8f,#ad2793,#a82296,#a31e9a,#9e199d,#9814a0,#910ea3,#8a09a5,#8305a7,#7b02a8,#7501a8,#7100a8,#6c00a8,#6700a8,#6300a7,#5e01a6,#5b01a5,#5801a4,#5502a4,#5102a3,#4e02a2)"></i>
<i style="background:linear-gradient(90deg,#d7566c,#e26660,#f07f4f,#f3854b,#f1834c,#f07f4f,#ed7a52,#eb7556,#e87059,#e66c5c,#e3685f,#df6263,#db5c68,#d6556d,#d14e72,#cc4778,#c6417d,#c03a83,#bb3488,#b7318a,#b52f8c,#b22b8f,#ad2793,#a82296,#a31e9a,#9e199d,#9814a0,#910ea3,#8a09a5,#8305a7,#7b02a8,#7501a8,#7100a8,#6c00a8,#6700a8,#6300a7,#5e01a6,#5b01a5,#5801a4,#5502a4,#5102a3,#4e02a2)"></i>
<i style="background:linear-gradient(90deg,#dd5e66,#e56b5d,#f0804e,#f3874a,#f2844b,#f07f4f,#ee7b51,#eb7655,#e97158,#e66c5c,#e4695e,#e06363,#dc5d67,#d7566c,#d24f71,#cc4977,#c7427c,#c13b82,#bc3587,#b83289,#b6308b,#b22b8f,#ad2793,#a82296,#a31e9a,#9e199d,#9814a0,#910ea3,#8a09a5,#8305a7,#7b02a8,#7501a8,#7100a8,#6c00a8,#6700a8,#6300a7,#5e01a6,#5b01a5,#5801a4,#5502a4,#5102a3,#4e02a2)"></i>
<i style="background:linear-gradient(90deg,#e26561,#e87059,#f1814d,#f3874a,#f2844b,#f0804e,#ee7b51,#eb7655,#e97158,#e76e5b,#e4695e,#e16462,#dd5e66,#d8576b,#d35171,#cd4a76,#c8437b,#c23c81,#bd3786,#ba3388,#b6308b,#b32c8e,#ad2793,#a82296,#a31e9a,#9e199d,#9814a0,#910ea3,#8a09a5,#8305a7,#7b02a8,#7501a8,#7100a8,#6c00a8,#6700a8,#6300a7,#5e01a6,#5b01a5,#5801a4,#5502a4,#5102a3,#4e02a2)"></i>
<i style="background:linear-gradient(90deg,#e56a5d,#ea7457,#f1814d,#f3874a,#f2844b,#f0804e,#ee7b51,#eb7655,#e97158,#e76e5b,#e56a5d,#e16462,#dd5e66,#d9586a,#d45270,#ce4b75,#c9447a,#c33d80,#be3885,#ba3388,#b7318a,#b32c8e,#ad2793,#a82296,#a31e9a,#9e199d,#9814a0,#910ea3,#8a09a5,#8305a7,#7b02a8,#7501a8,#7100a8,#6c00a8,#6700a8,#6300a7,#5e01a6,#5b01a5,#5801a4,#5502a4,#5102a3,#4e02a2)"></i>
<i style="background:linear-gradient(90deg,#e76e5b,#eb7655,#f1834c,#f3874a,#f2844b,#f07f4f,#ee7b51,#eb7655,#e97158,#e76e5b,#e56a5d,#e26561,#de5f65,#d9586a,#d5536f,#cf4c74,#ca457a,#c43e7f,#be3885,#bb3488,#b7318a,#b32c8e,#ad2793,#a82296,#a31e9a,#9d189d,#9814a0,#910ea3,#8a09a5,#8305a7,#7b02a8,#7501a8,#7100a8,#6c00a8,#6700a8,#6300a7,#5e01a6,#5b01a5,#5801a4,#5502a4,#5102a3,#4e02a2)"></i>
<i style="background:linear-gradient(90deg,#e97158,#ec7754,#f1834c,#f3854b,#f1834c,#f07f4f,#ee7b51,#eb7655,#e97158,#e76e5b,#e56a5d,#e26561,#de5f65,#da5a6a,#d5536f,#cf4c74,#ca457a,#c43e7f,#bf3984,#bb3488,#b7318a,#b32c8e,#ad2793,#a82296,#a31e9a,#9d189d,#9814a0,#910ea3,#8a09a5,#8305a7,#7b02a8,#7501a8,#7100a8,#6c00a8,#6700a8,#6300a7,#5e01a6,#5b01a5,#5801a4,#5502a4,#5102a3,#4e02a2)"></i>
<i style="background:linear-gradient(90deg,#e97257,#ed7953,#f1814d,#f3854b,#f1834c,#f07f4f,#ed7a52,#eb7655,#e97158,#e76e5b,#e56a5d,#e26561,#de5f65,#da5a6a,#d5536f,#cf4c74,#ca457a,#c43e7f,#bf3984,#bb3488,#b7318a,#b32c8e,#ad2793,#a82296,#a31e9a,#9d189d,#9814a0,#910ea3,#8a09a5,#8305a7,#7b02a8,#7501a8,#7100a8,#6c00a8,#6700a8,#6300a7,#5e01a6,#5b01a5,#5801a4,#5502a4,#5102a3,#4e02a2)"></i>
<i style="background:linear-gradient(90deg,#eb7556,#ed7a52,#f1814d,#f2844b,#f1814d,#ef7e50,#ed7a52,#eb7556,#e97158,#e76e5b,#e56a5d,#e16462,#de5f65,#da5a6a,#d5536f,#cf4c74,#ca457a,#c43e7f,#bf3984,#bb3488,#b7318a,#b32c8e,#ad2793,#a82296,#a31e9a,#9d189d,#9814a0,#910ea3,#8a09a5,#8305a7,#7b02a8,#7501a8,#7100a8,#6c00a8,#6700a8,#6300a7,#5e01a6,#5b01a5,#5801a4,#5502a4,#5102a3,#4e02a2)"></i>
<i style="background:linear-gradient(90deg,#eb7655,#ed7a52,#f1814d,#f2844b,#f0804e,#ef7c51,#ed7953,#eb7556,#e97158,#e66c5c,#e4695e,#e16462,#de5f65,#da5a6a,#d5536f,#cf4c74,#ca457a,#c43e7f,#bf3984,#bb3488,#b7318a,#b32c8e,#ad2793,#a82296,#a31e9a,#9d189d,#9814a0,#910ea3,#8a09a5,#8305a7,#7b02a8,#7501a8,#7100a8,#6c00a8,#6700a8,#6300a7,#5e01a6,#5b01a5,#5801a4,#5502a4,#5102a3,#4e02a2)"></i>
<i style="background:linear-gradient(90deg,#eb7655,#ee7b51,#f1814d,#f1834c,#f0804e,#ef7c51,#ed7953,#ea7457,#e87059,#e66c5c,#e4695e,#e16462,#dd5e66,#d9586a,#d5536f,#cf4c74,#ca457a,#c43e7f,#bf3984,#bb3488,#b7318a,#b32c8e,#ad2793,#a82296,#a31e9a,#9d189d,#9814a0,#910ea3,#8a09a5,#8305a7,#7b02a8,#7501a8,#7100a8,#6c00a8,#6700a8,#6300a7,#5e01a6,#5b01a5,#5801a4,#5502a4,#5102a3,#4e02a2)"></i>
<i style="background:linear-gradient(90deg,#ec7754,#ee7b51,#f0804e,#f1834c,#f07f4f,#ee7b51,#ec7754,#ea7457,#e87059,#e66c5c,#e4695e,#e16462,#dd5e66,#d9586a,#d5536f,#cf4c74,#ca457a,#c43e7f,#bf3984,#bb3488,#b7318a,#b32c8e,#ad2793,#a82296,#a31e9a,#9d189d,#9814a0,#910ea3,#8a09a5,#8305a7,#7b02a8,#7501a8,#7100a8,#6c00a8,#6700a8,#6300a7,#5e01a6,#5b01a5,#5801a4,#5502a4,#5102a3,#4e02a2)"></i>
<i style="background:linear-gradient(90deg,#ed7953,#ee7b51,#f0804e,#f1814d,#ef7e50,#ed7a52,#eb7655,#e97257,#e76f5a,#e56b5d,#e3685f,#e06363,#dd5e66,#d9586a,#d5536f,#cf4c74,#ca457a,#c43e7f,#bf3984,#bb3488,#b6308b,#b22b8f,#ad2793,#a82296,#a31e9a,#9d189d,#9814a0,#910ea3,#8a09a5,#8305a7,#7b02a8,#7501a8,#7100a8,#6c00a8,#6700a8,#6300a7,#5e01a6,#5b01a5,#5801a4,#5502a4,#5102a3,#4e02a2)"></i>
<i style="background:linear-gradient(90deg,#ed7953,#ee7b51,#f0804e,#f0804e,#ef7e50,#ed7a52,#eb7655,#e97257,#e76f5a,#e56b5d,#e3685f,#e06363,#dd5e66,#d9586a,#d5536f,#cf4c74,#ca457a,#c43e7f,#bf3984,#bb3488,#b6308b,#b22b8f,#ad2793,#a82296,#a31e9a,#9d189d,#9814a0,#910ea3,#8a09a5,#8305a7,#7b02a8,#7501a8,#7100a8,#6c00a8,#6700a8,#6300a7,#5e01a6,#5b01a5,#5801a4,#5502a4,#5102a3,#4e02a2)"></i>
<i style="background:linear-gradient(90deg,#ed7a52,#ef7c51,#f07f4f,#f0804e,#ef7c51,#ed7953,#eb7556,#e97257,#e76f5a,#e56b5d,#e3685f,#e06363,#dc5d67,#d9586a,#d5536f,#cf4c74,#ca457a,#c43e7f,#bf3984,#bb3488,#b6308b,#b22b8f,#ad2793,#a82296,#a31e9a,#9d189d,#9814a0,#910ea3,#8a09a5,#8305a7,#7b02a8,#7501a8,#7100a8,#6c00a8,#6700a8,#6300a7,#5e01a6,#5b01a5,#5801a4,#5502a4,#5102a3,#4e02a2)"></i>
<i style="background:linear-gradient(90deg,#ed7a52,#ef7c51,#f07f4f,#f07f4f,#ee7b51,#ec7754,#eb7556,#e97158,#e76e5b,#e56a5d,#e26660,#df6263,#dc5d67,#d9586a,#d45270,#cf4c74,#ca457a,#c43e7f,#bf3984,#bb3488,#b6308b,#b22b8f,#ad2793,#a82296,#a31e9a,#9d189d,#9814a0,#910ea3,#8a09a5,#8305a7,#7b02a8,#7501a8,#7100a8,#6c00a8,#6700a8,#6300a7,#5e01a6,#5b01a5,#5801a4,#5502a4,#5102a3,#4e02a2)"></i>
<i style="background:linear-gradient(90deg,#ee7b51,#ef7c51,#f07f4f,#ef7e50,#ee7b51,#ec7754,#ea7457,#e97158,#e76e5b,#e56a5d,#e26660,#df6263,#dc5d67,#d8576b,#d45270,#cf4c74,#ca457a,#c43e7f,#bf3984,#bb3488,#b6308b,#b22b8f,#ad2793,#a82296,#a31e9a,#9d189d,#9814a0,#910ea3,#8a09a5,#8305a7,#7b02a8,#7501a8,#7100a8,#6c00a8,#6700a8,#6300a7,#5e01a6,#5b01a5,#5801a4,#5502a4,#5102a3,#4e02a2)"></i>
<i style="background:linear-gradient(90deg,#ee7b51,#ef7c51,#ef7e50,#ef7e50,#ed7a52,#eb7655,#ea7457,#e87059,#e76e5b,#e56a5d,#e26660,#df6263,#dc5d67,#d8576b,#d45270,#cf4c74,#ca457a,#c43e7f,#bf3984,#bb3488,#b6308b,#b22b8f,#ad2793,#a82296,#a21d9a,#9d189d,#9814a0,#910ea3,#8a09a5,#8305a7,#7b02a8,#7501a8,#7100a8,#6c00a8,#6700a8,#6300a7,#5e01a6,#5b01a5,#5801a4,#5502a4,#5102a3,#4e02a2)"></i>
<i style="background:linear-gradient(90deg,#ef7c51,#ef7c51,#ef7e50,#ef7c51,#ed7a52,#eb7655,#e97257,#e87059,#e66c5c,#e56a5d,#e26561,#df6263,#dc5d67,#d8576b,#d45270,#cf4c74,#ca457a,#c43e7f,#bf3984,#bb3488,#b6308b,#b22b8f,#ad2793,#a82296,#a21d9a,#9d189d,#9814a0,#910ea3,#8a09a5,#8305a7,#7b02a8,#7501a8,#7100a8,#6c00a8,#6700a8,#6300a7,#5e01a6,#5b01a5,#5801a4,#5502a4,#5102a3,#4e02a2)"></i>
<i style="background:linear-gradient(90deg,#ef7c51,#ef7c51,#ef7e50,#ef7c51,#ed7953,#eb7556,#e97257,#e87059,#e66c5c,#e4695e,#e26561,#df6263,#db5c68,#d8576b,#d45270,#cf4c74,#ca457a,#c43e7f,#bf3984,#bb3488,#b6308b,#b22b8f,#ad2793,#a82296,#a21d9a,#9d189d,#9814a0,#910ea3,#8a09a5,#8305a7,#7b02a8,#7501a8,#7100a8,#6c00a8,#6700a8,#6300a7,#5e01a6,#5b01a5,#5801a4,#5502a4,#5102a3,#4e02a2)"></i>
<i style="background:linear-gradient(90deg,#ef7c51,#ef7c51,#ef7e50,#ef7c51,#ed7953,#eb7556,#e97257,#e76f5a,#e66c5c,#e4695e,#e26561,#de6164,#db5c68,#d8576b,#d45270,#cf4c74,#ca457a,#c43e7f,#bf3984,#bb3488,#b6308b,#b22b8f,#ad2793,#a82296,#a21d9a,#9d189d,#9814a0,#910ea3,#8a09a5,#8305a7,#7b02a8,#7501a8,#7100a8,#6c00a8,#6700a8,#6300a7,#5e01a6,#5b01a5,#5801a4,#5502a4,#5102a3,#4e02a2)"></i>
</div>
<div class="s" style="left:29px;top:141px;width:164px">
<i style="background:linear-gradient(90deg,#43039e,#4e02a2,#6001a6,#7801a8,#9613a1,#ae2892,#b6308b,#b83289,#b83289,#b7318a,#b6308b,#b6308b,#b83289,#ba3388,#bb3488,#bc3587,#bc3587,#bc3587,#bd3786,#bd3786,#be3885,#be3885,#bd3786,#bc3587,#bb3488,#ba3388,#ba3388,#ba3388,#ba3388,#ba3388,#ba3388,#b83289,#b83289,#b83289,#b7318a,#b6308b,#b42e8d,#b02991,#ab2494,#a72197,#a31e9a,#a11b9b)"></i>
<i style="background:linear-gradient(90deg,#43039e,#4e02a2,#6001a6,#7801a8,#9613a1,#ae2892,#b6308b,#b7318a,#b7318a,#b7318a,#b6308b,#b6308b,#b7318a,#ba3388,#bb3488,#bc3587,#bc3587,#bc3587,#bd3786,#be3885,#be3885,#be3885,#bd3786,#bc3587,#bb3488,#ba3388,#ba3388,#b83289,#ba3388,#ba3388,#b83289,#b83289,#b83289,#b7318a,#b6308b,#b52f8c,#b32c8e,#ae2892,#aa2395,#a62098,#a21d9a,#a01a9c)"></i>
<i style="background:linear-gradient(90deg,#43039e,#4e02a2,#6001a6,#7801a8,#9613a1,#ae2892,#b6308b,#b7318a,#b7318a,#b6308b,#b52f8c,#b6308b,#b7318a,#b83289,#bb3488,#bc3587,#bc3587,#bd3786,#bd3786,#be3885,#bf3984,#bf3984,#bd3786,#bc3587,#bb3488,#ba3388,#b83289,#b83289,#ba3388,#b83289,#b83289,#b83289,#b7318a,#b6308b,#b52f8c,#b42e8d,#b22b8f,#ad2793,#a82296,#a51f99,#a11b9b,#9e199d)"></i>
<i style="background:linear-gradient(90deg,#43039e,#4e02a2,#6001a6,#7801a8,#9613a1,#ad2793,#b52f8c,#b7318a,#b7318a,#b6308b,#b52f8c,#b52f8c,#b7318a,#b83289,#bb3488,#bc3587,#bc3587,#bd3786,#bd3786,#be3885,#bf3984,#bf3984,#be3885,#bc3587,#bb3488,#ba3388,#b83289,#b83289,#b83289,#b83289,#b83289,#b83289,#b6308b,#b52f8c,#b42e8d,#b22b8f,#b02991,#ab2494,#a72197,#a21d9a,#9e199d,#9c179e)"></i>
<i style="background:linear-gradient(90deg,#43039e,#4e02a2,#6001a6,#7801a8,#9613a1,#ad2793,#b52f8c,#b6308b,#b6308b,#b52f8c,#b42e8d,#b52f8c,#b6308b,#b83289,#ba3388,#bc3587,#bc3587,#bd3786,#bd3786,#be3885,#bf3984,#bf3984,#be3885,#bc3587,#bb3488,#ba3388,#b83289,#b83289,#b83289,#b83289,#b83289,#b7318a,#b6308b,#b42e8d,#b22b8f,#b02991,#ad2793,#aa2395,#a51f99,#a11b9b,#9d189d,#9a169f)"></i>
<i style="background:linear-gradient(90deg,#43039e,#4e02a2,#6001a6,#7801a8,#9511a1,#ad2793,#b52f8c,#b6308b,#b6308b,#b42e8d,#b32c8e,#b42e8d,#b6308b,#b83289,#ba3388,#bc3587,#bc3587,#bd3786,#be3885,#bf3984,#c03a83,#bf3984,#be3885,#bc3587,#bb3488,#ba3388,#b83289,#b83289,#b83289,#b83289,#b83289,#b7318a,#b52f8c,#b22b8f,#b02991,#ad2793,#ab2494,#a72197,#a21d9a,#9e199d,#9a169f,#9814a0)"></i>
<i style="background:linear-gradient(90deg,#43039e,#4e02a2,#6001a6,#7801a8,#9511a1,#ad2793,#b42e8d,#b52f8c,#b52f8c,#b42e8d,#b22b8f,#b32c8e,#b6308b,#b83289,#ba3388,#bc3587,#bd3786,#bd3786,#be3885,#bf3984,#c03a83,#c03a83,#be3885,#bc3587,#bb3488,#ba3388,#b83289,#b83289,#b83289,#b83289,#b83289,#b7318a,#b42e8d,#b12a90,#ae2892,#ac2694,#a82296,#a51f99,#a01a9c,#9c179e,#9814a0,#9511a1)"></i>
<i style="background:linear-gradient(90deg,#43039e,#4e02a2,#6001a6,#7801a8,#9511a1,#ac2694,#b42e8d,#b52f8c,#b42e8d,#b32c8e,#b22b8f,#b32c8e,#b52f8c,#b7318a,#ba3388,#bc3587,#bd3786,#be3885,#be3885,#bf3984,#c03a83,#c03a83,#be3885,#bc3587,#bb3488,#b83289,#b83289,#b83289,#b83289,#b83289,#b83289,#b6308b,#b32c8e,#b02991,#ac2694,#aa2395,#a62098,#a21d9a,#9d189d,#99159f,#9511a1,#920fa3)"></i>
<i style="background:linear-gradient(90deg,#43039e,#4e02a2,#6001a6,#7801a8,#9511a1,#ac2694,#b42e8d,#b42e8d,#b42e8d,#b22b8f,#b12a90,#b22b8f,#b52f8c,#b7318a,#ba3388,#bc3587,#bd3786,#be3885,#bf3984,#c03a83,#c13b82,#c03a83,#be3885,#bc3587,#bb3488,#b83289,#b83289,#b83289,#b83289,#b83289,#b83289,#b6308b,#b22b8f,#ad2793,#aa2395,#a72197,#a31e9a,#a01a9c,#9a169f,#9613a1,#920fa3,#8f0da4)"></i>
<i style="background:linear-gradient(90deg,#43039e,#4e02a2,#6001a6,#7801a8,#9511a1,#ac2694,#b32c8e,#b42e8d,#b32c8e,#b12a90,#b02991,#b12a90,#b42e8d,#b7318a,#ba3388,#bb3488,#bd3786,#be3885,#bf3984,#c03a83,#c13b82,#c03a83,#be3885,#bc3587,#bb3488,#b83289,#b83289,#b83289,#b83289,#b83289,#b7318a,#b52f8c,#b12a90,#ac2694,#a82296,#a51f99,#a11b9b,#9d189d,#9814a0,#9410a2,#8f0da4,#8d0ba5)"></i>
<i style="background:linear-gradient(90deg,#43039e,#4e02a2,#6001a6,#7801a8,#9511a1,#ab2494,#b32c8e,#b32c8e,#b32c8e,#b12a90,#ae2892,#b12a90,#b42e8d,#b7318a,#ba3388,#bb3488,#bd3786,#be3885,#bf3984,#c03a83,#c13b82,#c13b82,#bf3984,#bc3587,#bb3488,#b83289,#b7318a,#b83289,#b83289,#b83289,#b7318a,#b52f8c,#b02991,#ab2494,#a62098,#a21d9a,#9e199d,#99159f,#9511a1,#910ea3,#8d0ba5,#8a09a5)"></i>
<i style="background:linear-gradient(90deg,#43039e,#4e02a2,#6001a6,#7801a8,#9410a2,#ab2494,#b22b8f,#b32c8e,#b22b8f,#b02991,#ad2793,#b02991,#b42e8d,#b7318a,#ba3388,#bb3488,#bd3786,#be3885,#c03a83,#c13b82,#c23c81,#c13b82,#bf3984,#bc3587,#bb3488,#b83289,#b7318a,#b83289,#b83289,#b83289,#b7318a,#b52f8c,#b02991,#a82296,#a31e9a,#a01a9c,#9c179e,#9613a1,#920fa3,#8e0ca4,#8a09a5,#8707a6)"></i>
<i style="background:linear-gradient(90deg,#43039e,#4e02a2,#6001a6,#7701a8,#9410a2,#ab2494,#b22b8f,#b22b8f,#b22b8f,#ae2892,#ad2793,#ae2892,#b32c8e,#b7318a,#ba3388,#bb3488,#bd3786,#bf3984,#c03a83,#c13b82,#c23c81,#c13b82,#bf3984,#bc3587,#ba3388,#b83289,#b7318a,#b83289,#b83289,#b83289,#b7318a,#b42e8d,#ae2892,#a72197,#a11b9b,#9d189d,#99159f,#9511a1,#8f0da4,#8b0aa5,#8707a6,#8405a7)"></i>
<i style="background:linear-gradient(90deg,#43039e,#4e02a2,#6001a6,#7701a8,#9410a2,#aa2395,#b22b8f,#b22b8f,#b12a90,#ae2892,#ac2694,#ae2892,#b32c8e,#b6308b,#ba3388,#bb3488,#bd3786,#bf3984,#c03a83,#c13b82,#c23c81,#c13b82,#bf3984,#bc3587,#ba3388,#b83289,#b7318a,#b83289,#b83289,#b83289,#b7318a,#b42e8d,#ad2793,#a62098,#a01a9c,#9a169f,#9613a1,#920fa3,#8e0ca4,#8a09a5,#8606a6,#8305a7)"></i>
<i style="background:linear-gradient(90deg,#43039e,#4e02a2,#6001a6,#7701a8,#9410a2,#aa2395,#b12a90,#b22b8f,#b12a90,#ad2793,#ab2494,#ad2793,#b22b8f,#b6308b,#b83289,#bb3488,#bd3786,#bf3984,#c13b82,#c23c81,#c33d80,#c23c81,#bf3984,#bd3786,#ba3388,#b83289,#b7318a,#b83289,#b83289,#b83289,#b7318a,#b42e8d,#ac2694,#a51f99,#9e199d,#99159f,#9410a2,#8f0da4,#8b0aa5,#8707a6,#8305a7,#8004a8)"></i>
<i style="background:linear-gradient(90deg,#43039e,#4e02a2,#6001a6,#7701a8,#9410a2,#aa2395,#b12a90,#b12a90,#b02991,#ad2793,#ab2494,#ad2793,#b22b8f,#b6308b,#b83289,#bb3488,#bd3786,#bf3984,#c13b82,#c23c81,#c33d80,#c23c81,#bf3984,#bd3786,#ba3388,#b83289,#b7318a,#b7318a,#b83289,#b83289,#b7318a,#b32c8e,#ac2694,#a31e9a,#9d189d,#9814a0,#920fa3,#8e0ca4,#8a09a5,#8606a6,#8104a7,#7e03a8)"></i>
<i style="background:linear-gradient(90deg,#43039e,#4e02a2,#6001a6,#7701a8,#9410a2,#aa2395,#b12a90,#b12a90,#b02991,#ac2694,#aa2395,#ac2694,#b22b8f,#b6308b,#b83289,#bb3488,#bd3786,#bf3984,#c13b82,#c23c81,#c33d80,#c23c81,#bf3984,#bd3786,#ba3388,#b7318a,#b7318a,#b7318a,#b83289,#b83289,#b7318a,#b32c8e,#ab2494,#a21d9a,#9c179e,#9613a1,#910ea3,#8d0ba5,#8808a6,#8405a7,#8004a8,#7d03a8)"></i>
</div>
<div class="s" style="left:29px;top:160px;width:164px">
<i style="background:linear-gradient(90deg,#3f049c,#43039e,#4b03a1,#6100a7,#8808a6,#a82296,#b52f8c,#bc3587,#bf3984,#c13b82,#c43e7f,#c7427c,#cc4778,#cd4a76,#cc4778,#c8437b,#c6417d,#c43e7f,#c5407e,#c8437b,#cc4977,#cd4a76,#cc4778,#ca457a,#c7427c,#c23c81,#be3885,#b83289,#b42e8d,#b22b8f,#b12a90,#ae2892,#ac2694,#aa2395,#a72197,#a31e9a,#a11b9b,#a11b9b,#a11b9b,#9d189d,#9613a1,#920fa3)"></i>
<i style="background:linear-gradient(90deg,#41049d,#44039e,#4c02a1,#6300a7,#8a09a5,#aa2395,#b6308b,#bc3587,#c03a83,#c23c81,#c43e7f,#c7427c,#cc4778,#cd4a76,#cc4778,#c8437b,#c5407e,#c43e7f,#c43e7f,#c7427c,#cc4778,#cc4977,#cc4778,#c9447a,#c6417d,#c13b82,#bd3786,#b7318a,#b32c8e,#b12a90,#b02991,#ae2892,#ac2694,#aa2395,#a62098,#a31e9a,#a11b9b,#a11b9b,#a11b9b,#9d189d,#9814a0,#920fa3)"></i>
<i style="background:linear-gradient(90deg,#41049d,#46039f,#5002a2,#6600a7,#8b0aa5,#ab2494,#b7318a,#bd3786,#c03a83,#c23c81,#c43e7f,#c7427c,#cc4778,#cd4a76,#cb4679,#c8437b,#c5407e,#c33d80,#c33d80,#c6417d,#ca457a,#cc4778,#ca457a,#c8437b,#c43e7f,#c03a83,#bc3587,#b6308b,#b22b8f,#b02991,#ae2892,#ad2793,#ab2494,#a82296,#a51f99,#a21d9a,#a01a9c,#a01a9c,#a11b9b,#9d189d,#9814a0,#9410a2)"></i>
<i style="background:linear-gradient(90deg,#43039e,#48039f,#5102a3,#6900a8,#8e0ca4,#ac2694,#b83289,#bd3786,#c13b82,#c23c81,#c43e7f,#c7427c,#cb4679,#cd4a76,#cb4679,#c7427c,#c5407e,#c33d80,#c23c81,#c5407e,#c9447a,#ca457a,#c9447a,#c7427c,#c33d80,#be3885,#ba3388,#b42e8d,#b02991,#ae2892,#ad2793,#ab2494,#aa2395,#a72197,#a31e9a,#a11b9b,#a01a9c,#a01a9c,#a01a9c,#9d189d,#9814a0,#9410a2)"></i>
<i style="background:linear-gradient(90deg,#44039e,#4b03a1,#5502a4,#6c00a8,#910ea3,#ad2793,#ba3388,#be3885,#c13b82,#c33d80,#c43e7f,#c7427c,#cb4679,#cc4977,#cb4679,#c7427c,#c43e7f,#c23c81,#c13b82,#c43e7f,#c8437b,#c9447a,#c7427c,#c5407e,#c13b82,#bd3786,#b7318a,#b32c8e,#ae2892,#ac2694,#ab2494,#aa2395,#a72197,#a51f99,#a21d9a,#a01a9c,#9e199d,#a01a9c,#a01a9c,#9d189d,#9814a0,#9410a2)"></i>
<i style="background:linear-gradient(90deg,#46039f,#4c02a1,#5901a5,#7100a8,#920fa3,#b02991,#bb3488,#bf3984,#c23c81,#c33d80,#c43e7f,#c7427c,#cb4679,#cc4977,#ca457a,#c7427c,#c43e7f,#c13b82,#c03a83,#c23c81,#c6417d,#c7427c,#c6417d,#c43e7f,#bf3984,#bb3488,#b52f8c,#b12a90,#ac2694,#ab2494,#aa2395,#a82296,#a62098,#a31e9a,#a11b9b,#9e199d,#9e199d,#9e199d,#a01a9c,#9d189d,#99159f,#9511a1)"></i>
<i style="background:linear-gradient(90deg,#48039f,#5002a2,#5c01a6,#7401a8,#9613a1,#b12a90,#bc3587,#c03a83,#c23c81,#c33d80,#c43e7f,#c7427c,#cb4679,#cc4778,#ca457a,#c6417d,#c33d80,#c03a83,#bf3984,#c13b82,#c43e7f,#c5407e,#c43e7f,#c23c81,#be3885,#b83289,#b32c8e,#ae2892,#ab2494,#a82296,#a72197,#a62098,#a51f99,#a21d9a,#a01a9c,#9e199d,#9d189d,#9e199d,#a01a9c,#9e199d,#99159f,#9511a1)"></i>
<i style="background:linear-gradient(90deg,#4903a0,#5102a3,#6001a6,#7801a8,#99159f,#b32c8e,#bd3786,#c13b82,#c33d80,#c43e7f,#c43e7f,#c7427c,#ca457a,#cc4778,#ca457a,#c6417d,#c33d80,#bf3984,#be3885,#bf3984,#c23c81,#c33d80,#c23c81,#c03a83,#bc3587,#b6308b,#b12a90,#ac2694,#a82296,#a62098,#a62098,#a51f99,#a21d9a,#a01a9c,#9e199d,#9d189d,#9c179e,#9e199d,#a01a9c,#9e199d,#99159f,#9613a1)"></i>
<i style="background:linear-gradient(90deg,#4b03a1,#5502a4,#6400a7,#7b02a8,#9c179e,#b42e8d,#be3885,#c23c81,#c43e7f,#c43e7f,#c43e7f,#c6417d,#ca457a,#cb4679,#c9447a,#c6417d,#c23c81,#bf3984,#bc3587,#be3885,#c13b82,#c13b82,#c03a83,#be3885,#ba3388,#b42e8d,#ae2892,#aa2395,#a62098,#a51f99,#a31e9a,#a31e9a,#a11b9b,#9e199d,#9c179e,#9c179e,#9a169f,#9d189d,#a01a9c,#9e199d,#99159f,#9613a1)"></i>
<i style="background:linear-gradient(90deg,#4c02a1,#5801a4,#6700a8,#8004a8,#9e199d,#b6308b,#bf3984,#c23c81,#c43e7f,#c43e7f,#c43e7f,#c6417d,#c9447a,#cb4679,#c9447a,#c5407e,#c23c81,#be3885,#bb3488,#bc3587,#bf3984,#bf3984,#be3885,#bc3587,#b7318a,#b22b8f,#ac2694,#a72197,#a31e9a,#a21d9a,#a21d9a,#a11b9b,#9e199d,#9c179e,#9a169f,#99159f,#9a169f,#9d189d,#9e199d,#9e199d,#9a169f,#9613a1)"></i>
<i style="background:linear-gradient(90deg,#5002a2,#5b01a5,#6c00a8,#8305a7,#a01a9c,#b7318a,#c03a83,#c33d80,#c43e7f,#c43e7f,#c43e7f,#c6417d,#c9447a,#ca457a,#c8437b,#c5407e,#c13b82,#bc3587,#ba3388,#bb3488,#bc3587,#bd3786,#bc3587,#ba3388,#b52f8c,#ae2892,#aa2395,#a51f99,#a21d9a,#a01a9c,#a01a9c,#9e199d,#9d189d,#9a169f,#99159f,#9814a0,#99159f,#9c179e,#9e199d,#9e199d,#9a169f,#9613a1)"></i>
<i style="background:linear-gradient(90deg,#5302a3,#5e01a6,#6f00a8,#8707a6,#a21d9a,#b83289,#c13b82,#c33d80,#c43e7f,#c43e7f,#c33d80,#c5407e,#c8437b,#c9447a,#c7427c,#c43e7f,#c03a83,#bb3488,#b7318a,#b7318a,#ba3388,#ba3388,#b83289,#b7318a,#b22b8f,#ac2694,#a62098,#a21d9a,#a01a9c,#9e199d,#9d189d,#9d189d,#9a169f,#9814a0,#9613a1,#9613a1,#9814a0,#9a169f,#9e199d,#9d189d,#9a169f,#9814a0)"></i>
<i style="background:linear-gradient(90deg,#5601a4,#6300a7,#7501a8,#8b0aa5,#a51f99,#b83289,#c13b82,#c33d80,#c43e7f,#c33d80,#c33d80,#c43e7f,#c7427c,#c8437b,#c6417d,#c33d80,#be3885,#ba3388,#b52f8c,#b52f8c,#b6308b,#b6308b,#b52f8c,#b42e8d,#b02991,#a82296,#a31e9a,#a01a9c,#9d189d,#9c179e,#9c179e,#9a169f,#9814a0,#9613a1,#9511a1,#9410a2,#9511a1,#99159f,#9d189d,#9d189d,#99159f,#9613a1)"></i>
<i style="background:linear-gradient(90deg,#5c01a6,#6700a8,#7a02a8,#8e0ca4,#a62098,#b83289,#c03a83,#c23c81,#c33d80,#c23c81,#c23c81,#c33d80,#c5407e,#c6417d,#c43e7f,#c13b82,#bd3786,#b7318a,#b32c8e,#b22b8f,#b32c8e,#b32c8e,#b22b8f,#b02991,#ab2494,#a62098,#a01a9c,#9d189d,#99159f,#99159f,#99159f,#9814a0,#9613a1,#9410a2,#920fa3,#920fa3,#9410a2,#9814a0,#9c179e,#9c179e,#99159f,#9613a1)"></i>
<i style="background:linear-gradient(90deg,#6100a7,#6e00a8,#7e03a8,#920fa3,#a82296,#b83289,#bf3984,#c13b82,#c23c81,#c13b82,#c13b82,#c23c81,#c43e7f,#c43e7f,#c23c81,#bf3984,#bb3488,#b52f8c,#b12a90,#b02991,#ae2892,#ae2892,#ad2793,#ac2694,#a72197,#a21d9a,#9d189d,#99159f,#9613a1,#9511a1,#9613a1,#9511a1,#9410a2,#910ea3,#8f0da4,#8f0da4,#910ea3,#9511a1,#9a169f,#9a169f,#9814a0,#9613a1)"></i>
<i style="background:linear-gradient(90deg,#6700a8,#7401a8,#8405a7,#9613a1,#aa2395,#b83289,#bf3984,#c03a83,#c13b82,#c03a83,#bf3984,#c03a83,#c23c81,#c23c81,#c13b82,#be3885,#b83289,#b32c8e,#ad2793,#ac2694,#ab2494,#aa2395,#a82296,#a72197,#a31e9a,#9e199d,#99159f,#9613a1,#9410a2,#920fa3,#920fa3,#920fa3,#910ea3,#8e0ca4,#8d0ba5,#8d0ba5,#8e0ca4,#9410a2,#9814a0,#99159f,#9814a0,#9511a1)"></i>
<i style="background:linear-gradient(90deg,#6e00a8,#7a02a8,#8a09a5,#9a169f,#ab2494,#b83289,#be3885,#bf3984,#bf3984,#be3885,#be3885,#be3885,#c03a83,#c03a83,#bf3984,#bc3587,#b6308b,#b12a90,#ab2494,#a72197,#a62098,#a51f99,#a31e9a,#a21d9a,#9e199d,#99159f,#9511a1,#920fa3,#8f0da4,#8f0da4,#8f0da4,#8f0da4,#8e0ca4,#8b0aa5,#8a09a5,#8a09a5,#8b0aa5,#910ea3,#9613a1,#9814a0,#9613a1,#9511a1)"></i>
<i style="background:linear-gradient(90deg,#7501a8,#8004a8,#8f0da4,#9e199d,#ac2694,#b7318a,#bd3786,#be3885,#be3885,#bd3786,#bc3587,#bd3786,#be3885,#be3885,#bd3786,#ba3388,#b42e8d,#ad2793,#a72197,#a31e9a,#a11b9b,#a01a9c,#9e199d,#9d189d,#9a169f,#9511a1,#920fa3,#8f0da4,#8d0ba5,#8d0ba5,#8d0ba5,#8d0ba5,#8b0aa5,#8808a6,#8707a6,#8707a6,#8808a6,#8e0ca4,#9511a1,#9613a1,#9511a1,#9410a2)"></i>
<i style="background:linear-gradient(90deg,#7b02a8,#8606a6,#9410a2,#a21d9a,#ae2892,#b7318a,#bb3488,#bc3587,#bc3587,#bc3587,#bb3488,#bb3488,#bc3587,#bc3587,#bb3488,#b7318a,#b22b8f,#ab2494,#a51f99,#a01a9c,#9d189d,#9a169f,#99159f,#99159f,#9511a1,#910ea3,#8e0ca4,#8b0aa5,#8a09a5,#8808a6,#8a09a5,#8a09a5,#8808a6,#8606a6,#8606a6,#8405a7,#8606a6,#8d0ba5,#920fa3,#9511a1,#9410a2,#9410a2)"></i>
<i style="background:linear-gradient(90deg,#8104a7,#8b0aa5,#99159f,#a62098,#b02991,#b7318a,#ba3388,#bb3488,#bb3488,#ba3388,#ba3388,#ba3388,#bb3488,#ba3388,#b83289,#b52f8c,#b02991,#a82296,#a21d9a,#9c179e,#9814a0,#9511a1,#9511a1,#9410a2,#910ea3,#8e0ca4,#8a09a5,#8808a6,#8606a6,#8606a6,#8707a6,#8707a6,#8606a6,#8405a7,#8305a7,#8104a7,#8305a7,#8a09a5,#910ea3,#9410a2,#9410a2,#920fa3)"></i>
<i style="background:linear-gradient(90deg,#8707a6,#910ea3,#9e199d,#a82296,#b12a90,#b6308b,#ba3388,#ba3388,#ba3388,#b83289,#b7318a,#b7318a,#b83289,#b83289,#b6308b,#b32c8e,#ae2892,#a72197,#a01a9c,#99159f,#9410a2,#910ea3,#8f0da4,#8f0da4,#8d0ba5,#8a09a5,#8707a6,#8606a6,#8405a7,#8405a7,#8405a7,#8405a7,#8305a7,#8104a7,#8004a8,#8004a8,#8104a7,#8808a6,#8f0da4,#920fa3,#920fa3,#920fa3)"></i>
<i style="background:linear-gradient(90deg,#8d0ba5,#9511a1,#a21d9a,#ac2694,#b22b8f,#b6308b,#b83289,#b83289,#b83289,#b7318a,#b6308b,#b6308b,#b6308b,#b6308b,#b42e8d,#b22b8f,#ac2694,#a51f99,#9d189d,#9613a1,#910ea3,#8d0ba5,#8d0ba5,#8b0aa5,#8a09a5,#8707a6,#8606a6,#8405a7,#8104a7,#8305a7,#8305a7,#8305a7,#8104a7,#8004a8,#7e03a8,#7e03a8,#8004a8,#8707a6,#8e0ca4,#920fa3,#910ea3,#910ea3)"></i>
<i style="background:linear-gradient(90deg,#910ea3,#9a169f,#a62098,#ae2892,#b32c8e,#b6308b,#b7318a,#b7318a,#b7318a,#b6308b,#b52f8c,#b52f8c,#b52f8c,#b52f8c,#b32c8e,#b12a90,#ac2694,#a31e9a,#9c179e,#9511a1,#8e0ca4,#8b0aa5,#8a09a5,#8a09a5,#8808a6,#8707a6,#8405a7,#8305a7,#8104a7,#8104a7,#8305a7,#8305a7,#8104a7,#8004a8,#7e03a8,#7d03a8,#7e03a8,#8606a6,#8e0ca4,#910ea3,#910ea3,#8f0da4)"></i>
<i style="background:linear-gradient(90deg,#9613a1,#9e199d,#a82296,#b02991,#b42e8d,#b6308b,#b7318a,#b7318a,#b6308b,#b52f8c,#b52f8c,#b42e8d,#b42e8d,#b42e8d,#b22b8f,#b02991,#ab2494,#a31e9a,#9c179e,#9511a1,#8e0ca4,#8b0aa5,#8a09a5,#8a09a5,#8808a6,#8707a6,#8606a6,#8405a7,#8305a7,#8305a7,#8305a7,#8305a7,#8104a7,#8004a8,#7e03a8,#7e03a8,#8004a8,#8606a6,#8e0ca4,#910ea3,#8f0da4,#8f0da4)"></i>
<i style="background:linear-gradient(90deg,#9a169f,#a11b9b,#ab2494,#b22b8f,#b42e8d,#b6308b,#b7318a,#b6308b,#b6308b,#b52f8c,#b42e8d,#b42e8d,#b42e8d,#b32c8e,#b22b8f,#b02991,#ab2494,#a31e9a,#9d189d,#9613a1,#8f0da4,#8d0ba5,#8d0ba5,#8d0ba5,#8b0aa5,#8a09a5,#8808a6,#8606a6,#8405a7,#8405a7,#8606a6,#8606a6,#8405a7,#8305a7,#8104a7,#8004a8,#8104a7,#8707a6,#8e0ca4,#910ea3,#8f0da4,#8e0ca4)"></i>
<i style="background:linear-gradient(90deg,#9d189d,#a31e9a,#ad2793,#b32c8e,#b52f8c,#b6308b,#b7318a,#b6308b,#b6308b,#b52f8c,#b42e8d,#b42e8d,#b42e8d,#b32c8e,#b22b8f,#b02991,#ac2694,#a51f99,#9e199d,#9814a0,#920fa3,#8e0ca4,#8f0da4,#8f0da4,#8e0ca4,#8d0ba5,#8b0aa5,#8a09a5,#8808a6,#8707a6,#8707a6,#8707a6,#8606a6,#8405a7,#8305a7,#8104a7,#8305a7,#8808a6,#8e0ca4,#910ea3,#8f0da4,#8e0ca4)"></i>
<i style="background:linear-gradient(90deg,#a11b9b,#a72197,#ae2892,#b42e8d,#b52f8c,#b6308b,#b7318a,#b6308b,#b6308b,#b52f8c,#b42e8d,#b42e8d,#b42e8d,#b32c8e,#b22b8f,#b02991,#ac2694,#a62098,#a11b9b,#9a169f,#9511a1,#920fa3,#920fa3,#9410a2,#920fa3,#910ea3,#8f0da4,#8e0ca4,#8b0aa5,#8b0aa5,#8b0aa5,#8a09a5,#8808a6,#8707a6,#8606a6,#8606a6,#8606a6,#8a09a5,#8f0da4,#910ea3,#8e0ca4,#8d0ba5)"></i>
<i style="background:linear-gradient(90deg,#a51f99,#aa2395,#b02991,#b42e8d,#b6308b,#b7318a,#b7318a,#b6308b,#b6308b,#b52f8c,#b42e8d,#b42e8d,#b32c8e,#b32c8e,#b22b8f,#b12a90,#ad2793,#a82296,#a21d9a,#9d189d,#9814a0,#9613a1,#9613a1,#9814a0,#9613a1,#9511a1,#9410a2,#920fa3,#8f0da4,#8f0da4,#8e0ca4,#8e0ca4,#8d0ba5,#8b0aa5,#8a09a5,#8808a6,#8808a6,#8d0ba5,#910ea3,#910ea3,#8e0ca4,#8d0ba5)"></i>
<i style="background:linear-gradient(90deg,#a72197,#ac2694,#b22b8f,#b52f8c,#b6308b,#b7318a,#b7318a,#b6308b,#b6308b,#b52f8c,#b42e8d,#b32c8e,#b32c8e,#b32c8e,#b22b8f,#b12a90,#ae2892,#aa2395,#a51f99,#a01a9c,#9c179e,#99159f,#9a169f,#9c179e,#9a169f,#99159f,#9814a0,#9613a1,#9410a2,#920fa3,#920fa3,#910ea3,#8f0da4,#8e0ca4,#8d0ba5,#8b0aa5,#8b0aa5,#8e0ca4,#920fa3,#910ea3,#8e0ca4,#8b0aa5)"></i>
<i style="background:linear-gradient(90deg,#ab2494,#ae2892,#b32c8e,#b6308b,#b7318a,#b7318a,#b7318a,#b6308b,#b6308b,#b52f8c,#b42e8d,#b32c8e,#b32c8e,#b32c8e,#b32c8e,#b22b8f,#b02991,#ab2494,#a72197,#a31e9a,#9e199d,#9d189d,#9e199d,#a01a9c,#a01a9c,#9e199d,#9c179e,#9a169f,#9814a0,#9613a1,#9511a1,#9410a2,#920fa3,#910ea3,#8f0da4,#8e0ca4,#8e0ca4,#910ea3,#920fa3,#910ea3,#8e0ca4,#8a09a5)"></i>
<i style="background:linear-gradient(90deg,#ad2793,#b12a90,#b42e8d,#b6308b,#b7318a,#b83289,#b7318a,#b7318a,#b6308b,#b52f8c,#b42e8d,#b32c8e,#b32c8e,#b32c8e,#b32c8e,#b22b8f,#b02991,#ad2793,#aa2395,#a62098,#a21d9a,#a11b9b,#a21d9a,#a31e9a,#a31e9a,#a21d9a,#a01a9c,#9e199d,#9c179e,#9a169f,#99159f,#9814a0,#9613a1,#9511a1,#9410a2,#920fa3,#910ea3,#920fa3,#9410a2,#920fa3,#8d0ba5,#8a09a5)"></i>
<i style="background:linear-gradient(90deg,#b12a90,#b22b8f,#b52f8c,#b7318a,#b83289,#b83289,#b7318a,#b7318a,#b6308b,#b52f8c,#b42e8d,#b32c8e,#b32c8e,#b32c8e,#b32c8e,#b22b8f,#b12a90,#ae2892,#ab2494,#a82296,#a51f99,#a51f99,#a62098,#a72197,#a72197,#a62098,#a31e9a,#a21d9a,#a01a9c,#9d189d,#9c179e,#9a169f,#99159f,#9814a0,#9613a1,#9511a1,#9410a2,#9410a2,#9511a1,#920fa3,#8d0ba5,#8808a6)"></i>
<i style="background:linear-gradient(90deg,#b32c8e,#b42e8d,#b6308b,#b83289,#b83289,#b83289,#b7318a,#b7318a,#b6308b,#b52f8c,#b42e8d,#b32c8e,#b32c8e,#b32c8e,#b32c8e,#b32c8e,#b22b8f,#b02991,#ad2793,#aa2395,#a72197,#a72197,#a82296,#aa2395,#aa2395,#a82296,#a72197,#a51f99,#a21d9a,#a01a9c,#9e199d,#9c179e,#9a169f,#99159f,#9814a0,#9613a1,#9613a1,#9613a1,#9511a1,#920fa3,#8d0ba5,#8808a6)"></i>
<i style="background:linear-gradient(90deg,#b42e8d,#b52f8c,#b7318a,#b83289,#b83289,#b83289,#b83289,#b7318a,#b6308b,#b52f8c,#b42e8d,#b32c8e,#b32c8e,#b32c8e,#b32c8e,#b32c8e,#b22b8f,#b12a90,#ae2892,#ac2694,#aa2395,#a82296,#ab2494,#ac2694,#ac2694,#ab2494,#aa2395,#a72197,#a51f99,#a21d9a,#a01a9c,#9e199d,#9d189d,#9c179e,#9a169f,#99159f,#9814a0,#9814a0,#9613a1,#920fa3,#8d0ba5,#8808a6)"></i>
<i style="background:linear-gradient(90deg,#b52f8c,#b6308b,#b7318a,#b83289,#b83289,#b83289,#b83289,#b7318a,#b6308b,#b52f8c,#b42e8d,#b32c8e,#b32c8e,#b32c8e,#b32c8e,#b32c8e,#b22b8f,#b12a90,#b02991,#ad2793,#ab2494,#ab2494,#ac2694,#ae2892,#ad2793,#ac2694,#ab2494,#a82296,#a62098,#a31e9a,#a11b9b,#a01a9c,#9e199d,#9d189d,#9c179e,#9a169f,#99159f,#9814a0,#9613a1,#920fa3,#8d0ba5,#8707a6)"></i>
</div>
<div class="s" style="left:29px;top:197px;width:164px">
<i style="background:linear-gradient(90deg,#9a169f,#a72197,#b7318a,#c13b82,#c33d80,#c43e7f,#c43e7f,#c43e7f,#c43e7f,#c33d80,#c13b82,#c03a83,#bd3786,#bd3786,#be3885,#c03a83,#c23c81,#c33d80,#c33d80,#c13b82,#c03a83,#bf3984,#bf3984,#c03a83,#c23c81,#c43e7f,#c43e7f,#c13b82,#be3885,#bb3488,#b7318a,#b52f8c,#b32c8e,#b02991,#ac2694,#a72197,#a21d9a,#9a169f,#920fa3,#8808a6,#7d03a8,#7501a8)"></i>
<i style="background:linear-gradient(90deg,#9d189d,#a82296,#b7318a,#c13b82,#c33d80,#c43e7f,#c43e7f,#c43e7f,#c43e7f,#c33d80,#c13b82,#bf3984,#bd3786,#bc3587,#be3885,#c03a83,#c13b82,#c23c81,#c33d80,#c13b82,#bf3984,#be3885,#bf3984,#bf3984,#c13b82,#c33d80,#c33d80,#c13b82,#be3885,#bb3488,#b7318a,#b42e8d,#b22b8f,#b02991,#ab2494,#a62098,#a11b9b,#99159f,#910ea3,#8808a6,#7d03a8,#7501a8)"></i>
<i style="background:linear-gradient(90deg,#a01a9c,#ab2494,#b83289,#c13b82,#c33d80,#c43e7f,#c43e7f,#c5407e,#c43e7f,#c33d80,#c23c81,#bf3984,#bd3786,#bc3587,#bd3786,#bf3984,#c13b82,#c23c81,#c23c81,#c13b82,#bf3984,#be3885,#be3885,#be3885,#c03a83,#c33d80,#c33d80,#c03a83,#bd3786,#ba3388,#b6308b,#b32c8e,#b12a90,#ae2892,#aa2395,#a51f99,#a01a9c,#9814a0,#8f0da4,#8707a6,#7d03a8,#7501a8)"></i>
<i style="background:linear-gradient(90deg,#a51f99,#ae2892,#ba3388,#c13b82,#c33d80,#c43e7f,#c43e7f,#c5407e,#c5407e,#c33d80,#c23c81,#bf3984,#bc3587,#bb3488,#bd3786,#bf3984,#c13b82,#c23c81,#c23c81,#c03a83,#be3885,#bd3786,#bd3786,#bd3786,#bf3984,#c13b82,#c23c81,#bf3984,#bc3587,#b83289,#b52f8c,#b22b8f,#b02991,#ad2793,#a82296,#a31e9a,#9e199d,#9613a1,#8f0da4,#8606a6,#7d03a8,#7501a8)"></i>
<i style="background:linear-gradient(90deg,#aa2395,#b12a90,#bc3587,#c23c81,#c33d80,#c43e7f,#c43e7f,#c5407e,#c5407e,#c43e7f,#c23c81,#bf3984,#bc3587,#ba3388,#bc3587,#bf3984,#c03a83,#c13b82,#c23c81,#c03a83,#be3885,#bd3786,#bc3587,#bc3587,#bd3786,#c03a83,#c13b82,#be3885,#bb3488,#b6308b,#b32c8e,#b12a90,#ae2892,#ab2494,#a72197,#a21d9a,#9c179e,#9511a1,#8d0ba5,#8405a7,#7b02a8,#7501a8)"></i>
<i style="background:linear-gradient(90deg,#ad2793,#b42e8d,#bd3786,#c23c81,#c33d80,#c43e7f,#c5407e,#c6417d,#c6417d,#c43e7f,#c23c81,#bf3984,#bb3488,#b83289,#bb3488,#be3885,#c03a83,#c13b82,#c13b82,#c03a83,#bd3786,#bc3587,#bb3488,#ba3388,#bc3587,#bf3984,#bf3984,#bd3786,#b83289,#b52f8c,#b22b8f,#b02991,#ac2694,#aa2395,#a62098,#a01a9c,#9a169f,#9410a2,#8b0aa5,#8405a7,#7b02a8,#7501a8)"></i>
<i style="background:linear-gradient(90deg,#b32c8e,#b7318a,#be3885,#c23c81,#c33d80,#c43e7f,#c5407e,#c6417d,#c6417d,#c43e7f,#c23c81,#be3885,#ba3388,#b7318a,#bb3488,#be3885,#c03a83,#c13b82,#c13b82,#bf3984,#bd3786,#bb3488,#b83289,#b7318a,#ba3388,#be3885,#be3885,#bb3488,#b7318a,#b42e8d,#b12a90,#ad2793,#ab2494,#a82296,#a31e9a,#9e199d,#9814a0,#910ea3,#8a09a5,#8305a7,#7a02a8,#7501a8)"></i>
<i style="background:linear-gradient(90deg,#b7318a,#bb3488,#bf3984,#c23c81,#c33d80,#c43e7f,#c5407e,#c6417d,#c6417d,#c43e7f,#c23c81,#be3885,#ba3388,#b7318a,#ba3388,#bd3786,#bf3984,#c03a83,#c13b82,#bf3984,#bc3587,#ba3388,#b7318a,#b52f8c,#b7318a,#bc3587,#bd3786,#ba3388,#b6308b,#b22b8f,#ae2892,#ac2694,#aa2395,#a72197,#a21d9a,#9d189d,#9613a1,#8f0da4,#8808a6,#8104a7,#7a02a8,#7401a8)"></i>
<i style="background:linear-gradient(90deg,#bc3587,#be3885,#c13b82,#c33d80,#c33d80,#c43e7f,#c5407e,#c7427c,#c7427c,#c5407e,#c23c81,#be3885,#b83289,#b6308b,#b83289,#bd3786,#bf3984,#c03a83,#c03a83,#be3885,#bc3587,#b83289,#b6308b,#b32c8e,#b52f8c,#bb3488,#bc3587,#b83289,#b42e8d,#b12a90,#ad2793,#aa2395,#a72197,#a51f99,#a11b9b,#9a169f,#9410a2,#8e0ca4,#8707a6,#8004a8,#7801a8,#7401a8)"></i>
<i style="background:linear-gradient(90deg,#c03a83,#c13b82,#c23c81,#c33d80,#c33d80,#c43e7f,#c5407e,#c7427c,#c7427c,#c5407e,#c23c81,#bd3786,#b83289,#b52f8c,#b83289,#bc3587,#be3885,#c03a83,#c03a83,#be3885,#bb3488,#b83289,#b42e8d,#b12a90,#b32c8e,#b83289,#bb3488,#b7318a,#b32c8e,#b02991,#ac2694,#a82296,#a62098,#a31e9a,#9e199d,#99159f,#920fa3,#8b0aa5,#8606a6,#7e03a8,#7801a8,#7401a8)"></i>
<i style="background:linear-gradient(90deg,#c43e7f,#c43e7f,#c33d80,#c33d80,#c33d80,#c43e7f,#c6417d,#c8437b,#c8437b,#c5407e,#c23c81,#bd3786,#b7318a,#b42e8d,#b7318a,#bc3587,#be3885,#bf3984,#bf3984,#bd3786,#bb3488,#b7318a,#b22b8f,#ad2793,#b12a90,#b7318a,#b83289,#b52f8c,#b22b8f,#ad2793,#aa2395,#a72197,#a51f99,#a11b9b,#9d189d,#9613a1,#8f0da4,#8a09a5,#8305a7,#7d03a8,#7801a8,#7401a8)"></i>
<i style="background:linear-gradient(90deg,#c8437b,#c6417d,#c43e7f,#c33d80,#c33d80,#c43e7f,#c6417d,#c8437b,#c8437b,#c6417d,#c23c81,#bd3786,#b6308b,#b42e8d,#b6308b,#bb3488,#be3885,#bf3984,#bf3984,#bd3786,#ba3388,#b6308b,#b12a90,#ab2494,#ad2793,#b52f8c,#b7318a,#b42e8d,#b02991,#ac2694,#a82296,#a51f99,#a21d9a,#a01a9c,#9a169f,#9511a1,#8e0ca4,#8808a6,#8104a7,#7b02a8,#7701a8,#7401a8)"></i>
<i style="background:linear-gradient(90deg,#cb4679,#c9447a,#c5407e,#c33d80,#c33d80,#c43e7f,#c6417d,#c8437b,#c9447a,#c6417d,#c23c81,#bd3786,#b6308b,#b32c8e,#b6308b,#bb3488,#bd3786,#bf3984,#bf3984,#bc3587,#b83289,#b52f8c,#ae2892,#a72197,#ab2494,#b42e8d,#b6308b,#b32c8e,#ae2892,#ab2494,#a62098,#a31e9a,#a11b9b,#9e199d,#99159f,#920fa3,#8d0ba5,#8606a6,#8004a8,#7b02a8,#7701a8,#7401a8)"></i>
<i style="background:linear-gradient(90deg,#ce4b75,#cb4679,#c6417d,#c33d80,#c33d80,#c43e7f,#c6417d,#c9447a,#ca457a,#c6417d,#c23c81,#bd3786,#b6308b,#b32c8e,#b52f8c,#bb3488,#bd3786,#be3885,#be3885,#bc3587,#b83289,#b42e8d,#ac2694,#a31e9a,#a72197,#b22b8f,#b52f8c,#b22b8f,#ad2793,#a82296,#a51f99,#a11b9b,#a01a9c,#9d189d,#9814a0,#910ea3,#8b0aa5,#8405a7,#7e03a8,#7a02a8,#7501a8,#7401a8)"></i>
<i style="background:linear-gradient(90deg,#d14e72,#cc4977,#c7427c,#c33d80,#c33d80,#c33d80,#c6417d,#ca457a,#ca457a,#c7427c,#c23c81,#bd3786,#b6308b,#b22b8f,#b52f8c,#bb3488,#bd3786,#be3885,#be3885,#bb3488,#b7318a,#b32c8e,#ab2494,#a01a9c,#a51f99,#b02991,#b42e8d,#b12a90,#ac2694,#a72197,#a21d9a,#a01a9c,#9e199d,#9c179e,#9613a1,#8f0da4,#8808a6,#8305a7,#7e03a8,#7a02a8,#7501a8,#7401a8)"></i>
<i style="background:linear-gradient(90deg,#d35171,#cd4a76,#c7427c,#c23c81,#c23c81,#c33d80,#c6417d,#ca457a,#cb4679,#c8437b,#c33d80,#bd3786,#b6308b,#b32c8e,#b6308b,#bb3488,#bd3786,#be3885,#be3885,#bb3488,#b6308b,#b22b8f,#a82296,#9c179e,#a11b9b,#ae2892,#b32c8e,#b02991,#ab2494,#a62098,#a11b9b,#9e199d,#9d189d,#9a169f,#9511a1,#8e0ca4,#8808a6,#8305a7,#7d03a8,#7801a8,#7501a8,#7401a8)"></i>
<i style="background:linear-gradient(90deg,#d5536f,#ce4b75,#c7427c,#c13b82,#c13b82,#c23c81,#c6417d,#cb4679,#cc4778,#c8437b,#c33d80,#bd3786,#b6308b,#b32c8e,#b6308b,#bb3488,#bd3786,#be3885,#bd3786,#ba3388,#b6308b,#b12a90,#a62098,#99159f,#9d189d,#ac2694,#b22b8f,#ae2892,#aa2395,#a31e9a,#9e199d,#9d189d,#9c179e,#9a169f,#9511a1,#8e0ca4,#8707a6,#8104a7,#7d03a8,#7801a8,#7501a8,#7201a8)"></i>
<i style="background:linear-gradient(90deg,#d5546e,#cf4c74,#c6417d,#c03a83,#c03a83,#c13b82,#c6417d,#cb4679,#cc4977,#c9447a,#c33d80,#be3885,#b7318a,#b42e8d,#b6308b,#bb3488,#bd3786,#be3885,#bd3786,#ba3388,#b52f8c,#b02991,#a51f99,#9511a1,#9a169f,#ab2494,#b12a90,#ae2892,#a82296,#a21d9a,#9d189d,#9a169f,#9a169f,#99159f,#9410a2,#8d0ba5,#8606a6,#8104a7,#7b02a8,#7801a8,#7501a8,#7201a8)"></i>
<i style="background:linear-gradient(90deg,#d7566c,#d04d73,#c6417d,#bf3984,#bf3984,#c03a83,#c5407e,#cc4778,#ce4b75,#ca457a,#c43e7f,#be3885,#b7318a,#b52f8c,#b7318a,#bc3587,#be3885,#be3885,#bd3786,#b83289,#b42e8d,#ae2892,#a21d9a,#910ea3,#9613a1,#aa2395,#b02991,#ad2793,#a82296,#a11b9b,#9a169f,#99159f,#9a169f,#99159f,#9410a2,#8d0ba5,#8606a6,#8004a8,#7b02a8,#7801a8,#7501a8,#7201a8)"></i>
<i style="background:linear-gradient(90deg,#d8576b,#d04d73,#c5407e,#be3885,#bd3786,#bf3984,#c5407e,#cc4977,#cf4c74,#cb4679,#c43e7f,#be3885,#b83289,#b52f8c,#b83289,#bc3587,#be3885,#be3885,#bd3786,#b83289,#b32c8e,#ad2793,#a11b9b,#8d0ba5,#920fa3,#a72197,#b02991,#ac2694,#a72197,#a01a9c,#9814a0,#9613a1,#99159f,#99159f,#9410a2,#8b0aa5,#8405a7,#8004a8,#7b02a8,#7801a8,#7501a8,#7201a8)"></i>
<i style="background:linear-gradient(90deg,#d9586a,#d14e72,#c5407e,#bd3786,#bc3587,#be3885,#c5407e,#cd4a76,#d04d73,#cc4778,#c5407e,#bf3984,#ba3388,#b6308b,#b83289,#bd3786,#be3885,#be3885,#bc3587,#b7318a,#b32c8e,#ac2694,#9e199d,#8808a6,#8f0da4,#a62098,#ae2892,#ac2694,#a62098,#9d189d,#9613a1,#9511a1,#9814a0,#9814a0,#920fa3,#8b0aa5,#8405a7,#8004a8,#7b02a8,#7801a8,#7501a8,#7201a8)"></i>
<i style="background:linear-gradient(90deg,#da5a6a,#d14e72,#c43e7f,#bc3587,#bb3488,#bd3786,#c5407e,#cd4a76,#d14e72,#cc4977,#c5407e,#bf3984,#ba3388,#b7318a,#ba3388,#bd3786,#be3885,#be3885,#bc3587,#b7318a,#b22b8f,#ab2494,#9d189d,#8606a6,#8d0ba5,#a51f99,#ad2793,#ab2494,#a51f99,#9c179e,#9410a2,#920fa3,#9613a1,#9814a0,#920fa3,#8a09a5,#8305a7,#7e03a8,#7b02a8,#7801a8,#7501a8,#7201a8)"></i>
<i style="background:linear-gradient(90deg,#db5c68,#d24f71,#c33d80,#ba3388,#ba3388,#bc3587,#c43e7f,#ce4b75,#d24f71,#cc4977,#c6417d,#c03a83,#bb3488,#b83289,#bb3488,#be3885,#bf3984,#be3885,#bc3587,#b6308b,#b12a90,#aa2395,#9a169f,#8305a7,#8a09a5,#a31e9a,#ac2694,#aa2395,#a31e9a,#99159f,#910ea3,#910ea3,#9511a1,#9613a1,#920fa3,#8a09a5,#8305a7,#7e03a8,#7b02a8,#7801a8,#7501a8,#7201a8)"></i>
<i style="background:linear-gradient(90deg,#dc5d67,#d24f71,#c33d80,#b83289,#b83289,#bb3488,#c43e7f,#cf4c74,#d45270,#cd4a76,#c6417d,#c03a83,#bc3587,#ba3388,#bc3587,#be3885,#bf3984,#be3885,#bc3587,#b6308b,#b02991,#aa2395,#99159f,#8004a8,#8707a6,#a21d9a,#ab2494,#aa2395,#a31e9a,#9814a0,#8e0ca4,#8e0ca4,#9511a1,#9613a1,#920fa3,#8808a6,#8104a7,#7e03a8,#7b02a8,#7801a8,#7501a8,#7201a8)"></i>
<i style="background:linear-gradient(90deg,#dd5e66,#d35171,#c23c81,#b7318a,#b6308b,#ba3388,#c43e7f,#d04d73,#d5536f,#ce4b75,#c6417d,#c03a83,#bc3587,#ba3388,#bc3587,#bf3984,#bf3984,#be3885,#bc3587,#b52f8c,#b02991,#a82296,#9814a0,#7e03a8,#8606a6,#a11b9b,#ab2494,#a82296,#a21d9a,#9613a1,#8d0ba5,#8d0ba5,#9410a2,#9613a1,#910ea3,#8808a6,#8104a7,#7d03a8,#7b02a8,#7801a8,#7501a8,#7201a8)"></i>
<i style="background:linear-gradient(90deg,#de5f65,#d35171,#c23c81,#b6308b,#b52f8c,#b83289,#c43e7f,#d04d73,#d5546e,#cf4c74,#c7427c,#c13b82,#bd3786,#bb3488,#bd3786,#bf3984,#bf3984,#be3885,#bb3488,#b52f8c,#ae2892,#a72197,#9613a1,#7d03a8,#8405a7,#a01a9c,#aa2395,#a82296,#a11b9b,#9511a1,#8a09a5,#8b0aa5,#9410a2,#9613a1,#910ea3,#8808a6,#8004a8,#7d03a8,#7b02a8,#7801a8,#7501a8,#7201a8)"></i>
<i style="background:linear-gradient(90deg,#de6164,#d35171,#c13b82,#b52f8c,#b42e8d,#b7318a,#c33d80,#d14e72,#d6556d,#cf4c74,#c7427c,#c13b82,#be3885,#bc3587,#bd3786,#bf3984,#bf3984,#be3885,#bb3488,#b52f8c,#ad2793,#a62098,#9613a1,#7b02a8,#8305a7,#9e199d,#aa2395,#a72197,#a11b9b,#9511a1,#8a09a5,#8b0aa5,#920fa3,#9511a1,#910ea3,#8707a6,#8004a8,#7d03a8,#7a02a8,#7801a8,#7501a8,#7201a8)"></i>
<i style="background:linear-gradient(90deg,#df6263,#d45270,#c13b82,#b42e8d,#b42e8d,#b7318a,#c33d80,#d14e72,#d7566c,#d04d73,#c7427c,#c13b82,#be3885,#bc3587,#be3885,#c03a83,#c03a83,#be3885,#bb3488,#b42e8d,#ad2793,#a62098,#9613a1,#7b02a8,#8305a7,#9e199d,#a82296,#a72197,#a11b9b,#9410a2,#8808a6,#8a09a5,#920fa3,#9511a1,#910ea3,#8707a6,#8004a8,#7d03a8,#7a02a8,#7801a8,#7501a8,#7201a8)"></i>
<i style="background:linear-gradient(90deg,#df6263,#d45270,#c13b82,#b42e8d,#b32c8e,#b6308b,#c33d80,#d24f71,#d7566c,#d04d73,#c8437b,#c23c81,#be3885,#bd3786,#be3885,#c03a83,#c03a83,#be3885,#bb3488,#b42e8d,#ac2694,#a62098,#9613a1,#7d03a8,#8405a7,#9e199d,#a82296,#a72197,#a11b9b,#9410a2,#8a09a5,#8b0aa5,#920fa3,#9511a1,#8f0da4,#8707a6,#8004a8,#7d03a8,#7a02a8,#7801a8,#7501a8,#7201a8)"></i>
</div><div class="s" style="left:238px;top:23px;width:166px">
<i style="background:linear-gradient(90deg,#6300a7,#6300a7,#6300a7,#6300a7,#6300a7,#6300a7,#6300a7,#6300a7,#6400a7,#7401a8,#8808a6,#7a02a8,#6600a7,#6300a7,#6300a7,#6300a7,#6300a7,#6300a7,#6300a7,#6100a7,#6001a6,#5e01a6,#5e01a6,#5e01a6,#5e01a6,#5e01a6,#6100a7,#6f00a8,#7701a8,#6700a8,#6400a7,#6600a7,#6600a7,#6600a7,#6600a7,#6600a7,#6600a7,#6600a7,#6600a7,#6600a7,#6600a7,#6600a7,#6600a7)"></i>
<i style="background:linear-gradient(90deg,#6300a7,#6300a7,#6300a7,#6300a7,#6300a7,#6300a7,#6300a7,#6300a7,#6400a7,#7401a8,#8808a6,#7a02a8,#6600a7,#6300a7,#6300a7,#6300a7,#6300a7,#6300a7,#6300a7,#6100a7,#6001a6,#5e01a6,#5e01a6,#5e01a6,#5e01a6,#5e01a6,#6100a7,#6f00a8,#7701a8,#6700a8,#6400a7,#6600a7,#6600a7,#6600a7,#6600a7,#6600a7,#6600a7,#6600a7,#6600a7,#6600a7,#6600a7,#6600a7,#6600a7)"></i>
<i style="background:linear-gradient(90deg,#6300a7,#6300a7,#6300a7,#6300a7,#6300a7,#6300a7,#6300a7,#6300a7,#6400a7,#7401a8,#8808a6,#7a02a8,#6600a7,#6300a7,#6300a7,#6300a7,#6300a7,#6300a7,#6300a7,#6100a7,#6001a6,#5e01a6,#5e01a6,#5e01a6,#5e01a6,#5e01a6,#6100a7,#6f00a8,#7701a8,#6700a8,#6400a7,#6600a7,#6600a7,#6600a7,#6600a7,#6600a7,#6600a7,#6600a7,#6600a7,#6600a7,#6600a7,#6600a7,#6600a7)"></i>
<i style="background:linear-gradient(90deg,#6300a7,#6300a7,#6300a7,#6300a7,#6300a7,#6300a7,#6300a7,#6300a7,#6400a7,#7401a8,#8808a6,#7a02a8,#6600a7,#6300a7,#6300a7,#6300a7,#6300a7,#6300a7,#6300a7,#6100a7,#6001a6,#5e01a6,#5e01a6,#5e01a6,#5e01a6,#5e01a6,#6100a7,#6f00a8,#7701a8,#6700a8,#6400a7,#6600a7,#6600a7,#6600a7,#6600a7,#6600a7,#6600a7,#6600a7,#6600a7,#6600a7,#6600a7,#6600a7,#6600a7)"></i>
<i style="background:linear-gradient(90deg,#6300a7,#6300a7,#6300a7,#6300a7,#6300a7,#6300a7,#6300a7,#6300a7,#6400a7,#7401a8,#8808a6,#7a02a8,#6600a7,#6300a7,#6300a7,#6300a7,#6300a7,#6300a7,#6300a7,#6100a7,#6001a6,#5e01a6,#5e01a6,#5e01a6,#5e01a6,#5e01a6,#6100a7,#6f00a8,#7701a8,#6700a8,#6400a7,#6600a7,#6600a7,#6600a7,#6600a7,#6600a7,#6600a7,#6600a7,#6600a7,#6600a7,#6600a7,#6600a7,#6600a7)"></i>
<i style="background:linear-gradient(90deg,#6300a7,#6300a7,#6300a7,#6300a7,#6300a7,#6300a7,#6300a7,#6300a7,#6400a7,#7401a8,#8808a6,#7a02a8,#6600a7,#6300a7,#6300a7,#6300a7,#6300a7,#6300a7,#6300a7,#6100a7,#6001a6,#5e01a6,#5e01a6,#5e01a6,#5e01a6,#5e01a6,#6100a7,#6f00a8,#7701a8,#6700a8,#6400a7,#6600a7,#6600a7,#6600a7,#6600a7,#6600a7,#6600a7,#6600a7,#6600a7,#6600a7,#6600a7,#6600a7,#6600a7)"></i>
<i style="background:linear-gradient(90deg,#6300a7,#6300a7,#6300a7,#6300a7,#6300a7,#6300a7,#6300a7,#6300a7,#6400a7,#7401a8,#8808a6,#7a02a8,#6600a7,#6300a7,#6300a7,#6300a7,#6300a7,#6300a7,#6300a7,#6100a7,#6001a6,#5e01a6,#5e01a6,#5e01a6,#5e01a6,#5e01a6,#6100a7,#6f00a8,#7701a8,#6700a8,#6400a7,#6600a7,#6600a7,#6600a7,#6600a7,#6600a7,#6600a7,#6600a7,#6600a7,#6600a7,#6600a7,#6600a7,#6600a7)"></i>
<i style="background:linear-gradient(90deg,#6300a7,#6300a7,#6300a7,#6300a7,#6300a7,#6300a7,#6300a7,#6300a7,#6400a7,#7401a8,#8808a6,#7a02a8,#6600a7,#6300a7,#6300a7,#6300a7,#6300a7,#6300a7,#6300a7,#6100a7,#6001a6,#5e01a6,#5e01a6,#5e01a6,#5e01a6,#5e01a6,#6100a7,#6f00a8,#7701a8,#6700a8,#6400a7,#6600a7,#6600a7,#6600a7,#6600a7,#6600a7,#6600a7,#6600a7,#6600a7,#6600a7,#6600a7,#6600a7,#6600a7)"></i>
<i style="background:linear-gradient(90deg,#6300a7,#6300a7,#6300a7,#6300a7,#6300a7,#6300a7,#6300a7,#6300a7,#6400a7,#7401a8,#8808a6,#7a02a8,#6600a7,#6300a7,#6300a7,#6300a7,#6300a7,#6300a7,#6300a7,#6100a7,#6001a6,#5e01a6,#5e01a6,#5e01a6,#5e01a6,#5e01a6,#6100a7,#6f00a8,#7701a8,#6700a8,#6400a7,#6600a7,#6600a7,#6600a7,#6600a7,#6600a7,#6600a7,#6600a7,#6600a7,#6600a7,#6600a7,#6600a7,#6600a7)"></i>
<i style="background:linear-gradient(90deg,#6300a7,#6300a7,#6300a7,#6300a7,#6300a7,#6300a7,#6300a7,#6300a7,#6400a7,#7401a8,#8808a6,#7a02a8,#6600a7,#6300a7,#6300a7,#6300a7,#6300a7,#6300a7,#6300a7,#6100a7,#6001a6,#5e01a6,#5e01a6,#5e01a6,#5e01a6,#5e01a6,#6100a7,#6f00a8,#7701a8,#6700a8,#6400a7,#6600a7,#6600a7,#6600a7,#6600a7,#6600a7,#6600a7,#6600a7,#6600a7,#6600a7,#6600a7,#6600a7,#6600a7)"></i>
<i style="background:linear-gradient(90deg,#6300a7,#6300a7,#6300a7,#6300a7,#6300a7,#6300a7,#6300a7,#6300a7,#6400a7,#7401a8,#8808a6,#7a02a8,#6600a7,#6300a7,#6300a7,#6300a7,#6300a7,#6300a7,#6300a7,#6100a7,#6001a6,#5e01a6,#5e01a6,#5e01a6,#5e01a6,#5e01a6,#6100a7,#6f00a8,#7701a8,#6700a8,#6400a7,#6600a7,#6600a7,#6600a7,#6600a7,#6600a7,#6600a7,#6600a7,#6600a7,#6600a7,#6600a7,#6600a7,#6600a7)"></i>
<i style="background:linear-gradient(90deg,#6300a7,#6300a7,#6300a7,#6300a7,#6300a7,#6300a7,#6300a7,#6300a7,#6400a7,#7401a8,#8808a6,#7a02a8,#6600a7,#6300a7,#6300a7,#6300a7,#6300a7,#6300a7,#6300a7,#6100a7,#6001a6,#5e01a6,#5e01a6,#5e01a6,#5e01a6,#5e01a6,#6100a7,#6f00a8,#7701a8,#6700a8,#6400a7,#6600a7,#6600a7,#6600a7,#6600a7,#6600a7,#6600a7,#6600a7,#6600a7,#6600a7,#6600a7,#6600a7,#6600a7)"></i>
<i style="background:linear-gradient(90deg,#6300a7,#6300a7,#6300a7,#6300a7,#6300a7,#6300a7,#6300a7,#6300a7,#6400a7,#7401a8,#8808a6,#7a02a8,#6600a7,#6300a7,#6300a7,#6300a7,#6300a7,#6300a7,#6300a7,#6100a7,#6001a6,#5e01a6,#5e01a6,#5e01a6,#5e01a6,#5e01a6,#6100a7,#6f00a8,#7701a8,#6700a8,#6400a7,#6600a7,#6600a7,#6600a7,#6600a7,#6600a7,#6600a7,#6600a7,#6600a7,#6600a7,#6600a7,#6600a7,#6600a7)"></i>
<i style="background:linear-gradient(90deg,#6300a7,#6300a7,#6300a7,#6300a7,#6300a7,#6300a7,#6300a7,#6300a7,#6400a7,#7401a8,#8808a6,#7a02a8,#6600a7,#6300a7,#6300a7,#6300a7,#6300a7,#6300a7,#6300a7,#6100a7,#6001a6,#5e01a6,#5e01a6,#5e01a6,#5e01a6,#5e01a6,#6100a7,#6f00a8,#7701a8,#6700a8,#6400a7,#6600a7,#6600a7,#6600a7,#6600a7,#6600a7,#6600a7,#6600a7,#6600a7,#6600a7,#6600a7,#6600a7,#6600a7)"></i>
<i style="background:linear-gradient(90deg,#6300a7,#6300a7,#6300a7,#6300a7,#6300a7,#6300a7,#6300a7,#6300a7,#6400a7,#7401a8,#8808a6,#7a02a8,#6600a7,#6300a7,#6300a7,#6300a7,#6300a7,#6300a7,#6300a7,#6100a7,#6001a6,#5e01a6,#5e01a6,#5e01a6,#5e01a6,#5e01a6,#6100a7,#6f00a8,#7701a8,#6700a8,#6400a7,#6600a7,#6600a7,#6600a7,#6600a7,#6600a7,#6600a7,#6600a7,#6600a7,#6600a7,#6600a7,#6600a7,#6600a7)"></i>
<i style="background:linear-gradient(90deg,#6300a7,#6300a7,#6300a7,#6300a7,#6300a7,#6300a7,#6300a7,#6300a7,#6400a7,#7401a8,#8808a6,#7a02a8,#6600a7,#6300a7,#6300a7,#6300a7,#6300a7,#6300a7,#6300a7,#6100a7,#6001a6,#5e01a6,#5e01a6,#5e01a6,#5e01a6,#5e01a6,#6100a7,#6f00a8,#7701a8,#6700a8,#6400a7,#6600a7,#6600a7,#6600a7,#6600a7,#6600a7,#6600a7,#6600a7,#6600a7,#6600a7,#6600a7,#6600a7,#6600a7)"></i>
<i style="background:linear-gradient(90deg,#6300a7,#6300a7,#6300a7,#6300a7,#6300a7,#6300a7,#6300a7,#6300a7,#6400a7,#7401a8,#8808a6,#7a02a8,#6600a7,#6300a7,#6300a7,#6300a7,#6300a7,#6300a7,#6300a7,#6100a7,#6001a6,#5e01a6,#5e01a6,#5e01a6,#5e01a6,#5e01a6,#6100a7,#6f00a8,#7701a8,#6700a8,#6400a7,#6600a7,#6600a7,#6600a7,#6600a7,#6600a7,#6600a7,#6600a7,#6600a7,#6600a7,#6600a7,#6600a7,#6600a7)"></i>
<i style="background:linear-gradient(90deg,#6300a7,#6300a7,#6300a7,#6300a7,#6300a7,#6300a7,#6300a7,#6300a7,#6400a7,#7401a8,#8808a6,#7a02a8,#6600a7,#6300a7,#6300a7,#6300a7,#6300a7,#6300a7,#6300a7,#6100a7,#6001a6,#5e01a6,#5e01a6,#5e01a6,#5e01a6,#5e01a6,#6100a7,#6f00a8,#7701a8,#6700a8,#6400a7,#6600a7,#6600a7,#6600a7,#6600a7,#6600a7,#6600a7,#6600a7,#6600a7,#6600a7,#6600a7,#6600a7,#6600a7)"></i>
<i style="background:linear-gradient(90deg,#6300a7,#6300a7,#6300a7,#6300a7,#6300a7,#6300a7,#6300a7,#6300a7,#6400a7,#7401a8,#8808a6,#7a02a8,#6600a7,#6300a7,#6300a7,#6300a7,#6300a7,#6300a7,#6300a7,#6100a7,#6001a6,#5e01a6,#5e01a6,#5e01a6,#5e01a6,#5e01a6,#6100a7,#6f00a8,#7701a8,#6700a8,#6400a7,#6600a7,#6600a7,#6600a7,#6600a7,#6600a7,#6600a7,#6600a7,#6600a7,#6600a7,#6600a7,#6600a7,#6600a7)"></i>
<i style="background:linear-gradient(90deg,#6300a7,#6300a7,#6300a7,#6300a7,#6300a7,#6300a7,#6300a7,#6300a7,#6400a7,#7401a8,#8808a6,#7a02a8,#6600a7,#6300a7,#6300a7,#6300a7,#6300a7,#6300a7,#6300a7,#6100a7,#6001a6,#5e01a6,#5e01a6,#5e01a6,#5e01a6,#5e01a6,#6100a7,#6f00a8,#7701a8,#6700a8,#6400a7,#6600a7,#6600a7,#6600a7,#6600a7,#6600a7,#6600a7,#6600a7,#6600a7,#6600a7,#6600a7,#6600a7,#6600a7)"></i>
<i style="background:linear-gradient(90deg,#6300a7,#6300a7,#6300a7,#6300a7,#6300a7,#6300a7,#6300a7,#6300a7,#6400a7,#7401a8,#8808a6,#7a02a8,#6600a7,#6300a7,#6300a7,#6300a7,#6300a7,#6300a7,#6300a7,#6100a7,#6001a6,#5e01a6,#5e01a6,#5e01a6,#5e01a6,#5e01a6,#6100a7,#6f00a8,#7701a8,#6700a8,#6400a7,#6600a7,#6600a7,#6600a7,#6600a7,#6600a7,#6600a7,#6600a7,#6600a7,#6600a7,#6600a7,#6600a7,#6600a7)"></i>
<i style="background:linear-gradient(90deg,#6300a7,#6300a7,#6300a7,#6300a7,#6300a7,#6300a7,#6300a7,#6300a7,#6400a7,#7401a8,#8808a6,#7a02a8,#6600a7,#6300a7,#6300a7,#6300a7,#6300a7,#6300a7,#6300a7,#6100a7,#6001a6,#5e01a6,#5e01a6,#5e01a6,#5e01a6,#5e01a6,#6100a7,#6f00a8,#7701a8,#6700a8,#6400a7,#6600a7,#6600a7,#6600a7,#6600a7,#6600a7,#6600a7,#6600a7,#6600a7,#6600a7,#6600a7,#6600a7,#6600a7)"></i>
<i style="background:linear-gradient(90deg,#6300a7,#6300a7,#6300a7,#6300a7,#6300a7,#6300a7,#6300a7,#6300a7,#6400a7,#7401a8,#8808a6,#7a02a8,#6600a7,#6300a7,#6300a7,#6300a7,#6300a7,#6300a7,#6300a7,#6100a7,#6001a6,#5e01a6,#5e01a6,#5e01a6,#5e01a6,#5e01a6,#6100a7,#6f00a8,#7701a8,#6700a8,#6400a7,#6600a7,#6600a7,#6600a7,#6600a7,#6600a7,#6600a7,#6600a7,#6600a7,#6600a7,#6600a7,#6600a7,#6600a7)"></i>
<i style="background:linear-gradient(90deg,#6300a7,#6300a7,#6300a7,#6300a7,#6300a7,#6300a7,#6300a7,#6300a7,#6400a7,#7401a8,#8808a6,#7a02a8,#6600a7,#6300a7,#6300a7,#6300a7,#6300a7,#6300a7,#6300a7,#6100a7,#6001a6,#5e01a6,#5e01a6,#5e01a6,#5e01a6,#5e01a6,#6100a7,#6f00a8,#7701a8,#6700a8,#6400a7,#6600a7,#6600a7,#6600a7,#6600a7,#6600a7,#6600a7,#6600a7,#6600a7,#6600a7,#6600a7,#6600a7,#6600a7)"></i>
<i style="background:linear-gradient(90deg,#6300a7,#6300a7,#6300a7,#6300a7,#6300a7,#6300a7,#6300a7,#6300a7,#6400a7,#7401a8,#8808a6,#7a02a8,#6600a7,#6300a7,#6300a7,#6300a7,#6300a7,#6300a7,#6300a7,#6100a7,#6001a6,#5e01a6,#5e01a6,#5e01a6,#5e01a6,#5e01a6,#6100a7,#6f00a8,#7701a8,#6700a8,#6400a7,#6600a7,#6600a7,#6600a7,#6600a7,#6600a7,#6600a7,#6600a7,#6600a7,#6600a7,#6600a7,#6600a7,#6600a7)"></i>
<i style="background:linear-gradient(90deg,#6300a7,#6300a7,#6300a7,#6300a7,#6300a7,#6300a7,#6300a7,#6300a7,#6400a7,#7401a8,#8808a6,#7a02a8,#6600a7,#6300a7,#6300a7,#6300a7,#6300a7,#6300a7,#6300a7,#6100a7,#6001a6,#5e01a6,#5e01a6,#5e01a6,#5e01a6,#5e01a6,#6100a7,#6f00a8,#7701a8,#6700a8,#6400a7,#6600a7,#6600a7,#6600a7,#6600a7,#6600a7,#6600a7,#6600a7,#6600a7,#6600a7,#6600a7,#6600a7,#6600a7)"></i>
<i style="background:linear-gradient(90deg,#6300a7,#6300a7,#6300a7,#6300a7,#6300a7,#6300a7,#6300a7,#6300a7,#6400a7,#7401a8,#8808a6,#7a02a8,#6600a7,#6300a7,#6300a7,#6300a7,#6300a7,#6300a7,#6300a7,#6100a7,#6001a6,#5e01a6,#5e01a6,#5e01a6,#5e01a6,#5e01a6,#6100a7,#6f00a8,#7701a8,#6700a8,#6400a7,#6600a7,#6600a7,#6600a7,#6600a7,#6600a7,#6600a7,#6600a7,#6600a7,#6600a7,#6600a7,#6600a7,#6600a7)"></i>
<i style="background:linear-gradient(90deg,#6300a7,#6300a7,#6300a7,#6300a7,#6300a7,#6300a7,#6300a7,#6300a7,#6400a7,#7401a8,#8808a6,#7a02a8,#6600a7,#6300a7,#6300a7,#6300a7,#6300a7,#6300a7,#6300a7,#6100a7,#6001a6,#5e01a6,#5e01a6,#5e01a6,#5e01a6,#5e01a6,#6100a7,#6f00a8,#7701a8,#6700a8,#6400a7,#6600a7,#6600a7,#6600a7,#6600a7,#6600a7,#6600a7,#6600a7,#6600a7,#6600a7,#6600a7,#6600a7,#6600a7)"></i>
<i style="background:linear-gradient(90deg,#6300a7,#6300a7,#6300a7,#6300a7,#6300a7,#6300a7,#6300a7,#6300a7,#6400a7,#7401a8,#8808a6,#7a02a8,#6600a7,#6300a7,#6300a7,#6300a7,#6300a7,#6300a7,#6300a7,#6100a7,#6001a6,#5e01a6,#5e01a6,#5e01a6,#5e01a6,#5e01a6,#6100a7,#6f00a8,#7701a8,#6700a8,#6400a7,#6600a7,#6600a7,#6600a7,#6600a7,#6600a7,#6600a7,#6600a7,#6600a7,#6600a7,#6600a7,#6600a7,#6600a7)"></i>
</div>
<div class="s" style="left:238px;top:54px;width:166px">
<i style="background:linear-gradient(90deg,#6300a7,#6300a7,#6300a7,#6300a7,#6300a7,#6300a7,#6300a7,#6300a7,#6a00a8,#8104a7,#8606a6,#6e00a8,#6300a7,#6300a7,#6300a7,#6300a7,#6300a7,#6300a7,#6300a7,#6300a7,#6300a7,#6300a7,#6300a7,#6300a7,#6300a7,#6300a7,#6300a7,#6900a8,#7201a8,#6900a8,#6300a7,#6300a7,#6300a7,#6300a7,#6300a7,#6300a7,#6300a7,#6300a7,#6300a7,#6300a7,#6300a7,#6300a7,#6300a7)"></i>
<i style="background:linear-gradient(90deg,#6300a7,#6300a7,#6300a7,#6300a7,#6300a7,#6300a7,#6300a7,#6300a7,#6a00a8,#8104a7,#8606a6,#6e00a8,#6400a7,#6300a7,#6300a7,#6300a7,#6300a7,#6300a7,#6300a7,#6300a7,#6300a7,#6300a7,#6300a7,#6300a7,#6300a7,#6300a7,#6300a7,#6a00a8,#7201a8,#6900a8,#6300a7,#6300a7,#6300a7,#6300a7,#6300a7,#6300a7,#6300a7,#6300a7,#6300a7,#6300a7,#6300a7,#6300a7,#6300a7)"></i>
<i style="background:linear-gradient(90deg,#6300a7,#6300a7,#6300a7,#6300a7,#6300a7,#6300a7,#6300a7,#6300a7,#6a00a8,#8104a7,#8606a6,#6f00a8,#6400a7,#6300a7,#6300a7,#6300a7,#6300a7,#6300a7,#6300a7,#6300a7,#6300a7,#6300a7,#6300a7,#6300a7,#6300a7,#6300a7,#6400a7,#6a00a8,#7201a8,#6900a8,#6300a7,#6300a7,#6300a7,#6300a7,#6300a7,#6300a7,#6300a7,#6300a7,#6300a7,#6300a7,#6300a7,#6300a7,#6300a7)"></i>
<i style="background:linear-gradient(90deg,#6400a7,#6400a7,#6400a7,#6400a7,#6400a7,#6400a7,#6300a7,#6400a7,#6a00a8,#8104a7,#8606a6,#6f00a8,#6400a7,#6300a7,#6300a7,#6300a7,#6300a7,#6300a7,#6300a7,#6300a7,#6300a7,#6300a7,#6300a7,#6300a7,#6300a7,#6300a7,#6400a7,#6a00a8,#7201a8,#6900a8,#6300a7,#6300a7,#6300a7,#6300a7,#6300a7,#6300a7,#6300a7,#6300a7,#6300a7,#6300a7,#6300a7,#6300a7,#6300a7)"></i>
<i style="background:linear-gradient(90deg,#6400a7,#6400a7,#6400a7,#6400a7,#6400a7,#6400a7,#6400a7,#6400a7,#6a00a8,#8104a7,#8606a6,#6f00a8,#6400a7,#6400a7,#6400a7,#6400a7,#6400a7,#6400a7,#6400a7,#6400a7,#6400a7,#6400a7,#6400a7,#6400a7,#6400a7,#6400a7,#6400a7,#6a00a8,#7401a8,#6900a8,#6400a7,#6300a7,#6300a7,#6300a7,#6300a7,#6300a7,#6300a7,#6300a7,#6300a7,#6300a7,#6300a7,#6300a7,#6300a7)"></i>
<i style="background:linear-gradient(90deg,#6600a7,#6600a7,#6600a7,#6600a7,#6600a7,#6600a7,#6400a7,#6400a7,#6c00a8,#8104a7,#8707a6,#6f00a8,#6600a7,#6400a7,#6400a7,#6400a7,#6400a7,#6400a7,#6400a7,#6400a7,#6400a7,#6400a7,#6400a7,#6400a7,#6400a7,#6400a7,#6600a7,#6c00a8,#7401a8,#6a00a8,#6400a7,#6300a7,#6300a7,#6300a7,#6300a7,#6300a7,#6300a7,#6300a7,#6300a7,#6300a7,#6300a7,#6300a7,#6300a7)"></i>
<i style="background:linear-gradient(90deg,#6700a8,#6700a8,#6700a8,#6700a8,#6600a7,#6600a7,#6600a7,#6600a7,#6c00a8,#8305a7,#8707a6,#6f00a8,#6600a7,#6400a7,#6400a7,#6400a7,#6400a7,#6400a7,#6400a7,#6400a7,#6400a7,#6400a7,#6400a7,#6400a7,#6400a7,#6600a7,#6600a7,#6c00a8,#7501a8,#6a00a8,#6400a7,#6400a7,#6300a7,#6300a7,#6300a7,#6300a7,#6300a7,#6300a7,#6300a7,#6300a7,#6300a7,#6300a7,#6300a7)"></i>
<i style="background:linear-gradient(90deg,#6700a8,#6700a8,#6700a8,#6700a8,#6700a8,#6700a8,#6600a7,#6600a7,#6c00a8,#8305a7,#8707a6,#7100a8,#6600a7,#6600a7,#6400a7,#6400a7,#6400a7,#6400a7,#6400a7,#6400a7,#6400a7,#6400a7,#6400a7,#6600a7,#6600a7,#6600a7,#6700a8,#6e00a8,#7501a8,#6a00a8,#6400a7,#6400a7,#6400a7,#6400a7,#6400a7,#6400a7,#6400a7,#6400a7,#6400a7,#6400a7,#6400a7,#6400a7,#6400a7)"></i>
<i style="background:linear-gradient(90deg,#6900a8,#6900a8,#6900a8,#6900a8,#6900a8,#6700a8,#6700a8,#6700a8,#6e00a8,#8305a7,#8707a6,#7100a8,#6700a8,#6600a7,#6600a7,#6600a7,#6600a7,#6600a7,#6600a7,#6600a7,#6600a7,#6600a7,#6600a7,#6600a7,#6600a7,#6600a7,#6700a8,#6e00a8,#7501a8,#6c00a8,#6600a7,#6400a7,#6400a7,#6400a7,#6400a7,#6400a7,#6400a7,#6400a7,#6400a7,#6400a7,#6400a7,#6400a7,#6400a7)"></i>
<i style="background:linear-gradient(90deg,#6a00a8,#6a00a8,#6a00a8,#6a00a8,#6900a8,#6900a8,#6700a8,#6700a8,#6e00a8,#8305a7,#8707a6,#7100a8,#6700a8,#6600a7,#6600a7,#6600a7,#6600a7,#6600a7,#6600a7,#6600a7,#6600a7,#6600a7,#6600a7,#6600a7,#6600a7,#6700a8,#6900a8,#6f00a8,#7701a8,#6c00a8,#6600a7,#6400a7,#6400a7,#6400a7,#6400a7,#6400a7,#6400a7,#6400a7,#6400a7,#6400a7,#6400a7,#6400a7,#6400a7)"></i>
<i style="background:linear-gradient(90deg,#6a00a8,#6a00a8,#6a00a8,#6a00a8,#6a00a8,#6900a8,#6900a8,#6700a8,#6e00a8,#8305a7,#8707a6,#7201a8,#6700a8,#6700a8,#6700a8,#6700a8,#6700a8,#6700a8,#6700a8,#6700a8,#6700a8,#6700a8,#6700a8,#6700a8,#6700a8,#6700a8,#6900a8,#6f00a8,#7701a8,#6c00a8,#6600a7,#6400a7,#6400a7,#6400a7,#6400a7,#6400a7,#6400a7,#6400a7,#6400a7,#6400a7,#6400a7,#6400a7,#6400a7)"></i>
<i style="background:linear-gradient(90deg,#6c00a8,#6c00a8,#6c00a8,#6c00a8,#6a00a8,#6a00a8,#6900a8,#6900a8,#6f00a8,#8405a7,#8808a6,#7201a8,#6900a8,#6700a8,#6700a8,#6700a8,#6700a8,#6700a8,#6700a8,#6700a8,#6700a8,#6700a8,#6700a8,#6700a8,#6700a8,#6900a8,#6a00a8,#7100a8,#7801a8,#6e00a8,#6600a7,#6600a7,#6400a7,#6400a7,#6400a7,#6400a7,#6400a7,#6400a7,#6400a7,#6400a7,#6400a7,#6400a7,#6400a7)"></i>
<i style="background:linear-gradient(90deg,#6e00a8,#6e00a8,#6e00a8,#6e00a8,#6c00a8,#6a00a8,#6a00a8,#6900a8,#6f00a8,#8405a7,#8808a6,#7201a8,#6900a8,#6700a8,#6700a8,#6700a8,#6700a8,#6700a8,#6700a8,#6700a8,#6700a8,#6700a8,#6700a8,#6700a8,#6900a8,#6900a8,#6a00a8,#7100a8,#7801a8,#6e00a8,#6700a8,#6600a7,#6400a7,#6400a7,#6400a7,#6400a7,#6400a7,#6400a7,#6400a7,#6400a7,#6400a7,#6400a7,#6400a7)"></i>
<i style="background:linear-gradient(90deg,#6f00a8,#6f00a8,#6f00a8,#6e00a8,#6e00a8,#6c00a8,#6a00a8,#6a00a8,#6f00a8,#8405a7,#8808a6,#7401a8,#6900a8,#6900a8,#6900a8,#6900a8,#6900a8,#6900a8,#6900a8,#6900a8,#6900a8,#6900a8,#6900a8,#6900a8,#6900a8,#6a00a8,#6c00a8,#7201a8,#7801a8,#6f00a8,#6700a8,#6600a7,#6600a7,#6600a7,#6600a7,#6600a7,#6600a7,#6600a7,#6600a7,#6600a7,#6600a7,#6600a7,#6600a7)"></i>
<i style="background:linear-gradient(90deg,#7100a8,#7100a8,#7100a8,#6f00a8,#6f00a8,#6e00a8,#6c00a8,#6a00a8,#7100a8,#8606a6,#8a09a5,#7401a8,#6a00a8,#6900a8,#6900a8,#6900a8,#6900a8,#6900a8,#6900a8,#6900a8,#6900a8,#6900a8,#6900a8,#6900a8,#6a00a8,#6a00a8,#6c00a8,#7201a8,#7a02a8,#6f00a8,#6700a8,#6600a7,#6600a7,#6600a7,#6600a7,#6600a7,#6600a7,#6600a7,#6600a7,#6600a7,#6600a7,#6600a7,#6600a7)"></i>
<i style="background:linear-gradient(90deg,#7201a8,#7201a8,#7201a8,#7201a8,#7100a8,#6f00a8,#6e00a8,#6c00a8,#7201a8,#8606a6,#8a09a5,#7501a8,#6c00a8,#6a00a8,#6a00a8,#6a00a8,#6a00a8,#6a00a8,#6a00a8,#6a00a8,#6a00a8,#6a00a8,#6a00a8,#6a00a8,#6a00a8,#6c00a8,#6e00a8,#7401a8,#7b02a8,#7100a8,#6900a8,#6700a8,#6600a7,#6600a7,#6600a7,#6600a7,#6600a7,#6600a7,#6600a7,#6600a7,#6600a7,#6600a7,#6600a7)"></i>
<i style="background:linear-gradient(90deg,#7401a8,#7501a8,#7501a8,#7401a8,#7201a8,#7100a8,#6f00a8,#6f00a8,#7401a8,#8707a6,#8b0aa5,#7701a8,#6e00a8,#6c00a8,#6c00a8,#6c00a8,#6c00a8,#6a00a8,#6a00a8,#6a00a8,#6a00a8,#6a00a8,#6a00a8,#6c00a8,#6c00a8,#6e00a8,#6f00a8,#7501a8,#7d03a8,#7100a8,#6900a8,#6700a8,#6600a7,#6600a7,#6600a7,#6600a7,#6600a7,#6600a7,#6600a7,#6600a7,#6600a7,#6600a7,#6600a7)"></i>
<i style="background:linear-gradient(90deg,#7701a8,#7801a8,#7801a8,#7801a8,#7701a8,#7401a8,#7201a8,#7100a8,#7701a8,#8a09a5,#8e0ca4,#7a02a8,#6f00a8,#6e00a8,#6e00a8,#6e00a8,#6e00a8,#6c00a8,#6c00a8,#6c00a8,#6c00a8,#6c00a8,#6c00a8,#6e00a8,#6e00a8,#6f00a8,#7201a8,#7701a8,#7e03a8,#7201a8,#6a00a8,#6700a8,#6700a8,#6600a7,#6600a7,#6600a7,#6600a7,#6600a7,#6600a7,#6600a7,#6600a7,#6600a7,#6600a7)"></i>
<i style="background:linear-gradient(90deg,#7b02a8,#7b02a8,#7d03a8,#7d03a8,#7a02a8,#7701a8,#7501a8,#7401a8,#7a02a8,#8d0ba5,#910ea3,#7b02a8,#7201a8,#7100a8,#7100a8,#6f00a8,#6f00a8,#6f00a8,#6e00a8,#6e00a8,#6e00a8,#6e00a8,#6e00a8,#6f00a8,#7100a8,#7201a8,#7401a8,#7a02a8,#8004a8,#7501a8,#6c00a8,#6900a8,#6700a8,#6700a8,#6600a7,#6600a7,#6600a7,#6600a7,#6600a7,#6600a7,#6600a7,#6600a7,#6600a7)"></i>
<i style="background:linear-gradient(90deg,#7e03a8,#8004a8,#8104a7,#8104a7,#7e03a8,#7b02a8,#7a02a8,#7801a8,#7d03a8,#8f0da4,#9410a2,#8004a8,#7501a8,#7401a8,#7201a8,#7201a8,#7100a8,#7100a8,#7100a8,#6f00a8,#6f00a8,#6f00a8,#7100a8,#7100a8,#7201a8,#7501a8,#7701a8,#7d03a8,#8305a7,#7701a8,#6e00a8,#6a00a8,#6700a8,#6700a8,#6700a8,#6700a8,#6700a8,#6700a8,#6700a8,#6700a8,#6700a8,#6700a8,#6700a8)"></i>
<i style="background:linear-gradient(90deg,#8305a7,#8405a7,#8606a6,#8606a6,#8305a7,#8004a8,#7d03a8,#7b02a8,#8004a8,#920fa3,#9613a1,#8305a7,#7801a8,#7701a8,#7501a8,#7501a8,#7401a8,#7201a8,#7201a8,#7201a8,#7100a8,#7100a8,#7201a8,#7401a8,#7501a8,#7701a8,#7a02a8,#8004a8,#8606a6,#7801a8,#6f00a8,#6a00a8,#6900a8,#6700a8,#6700a8,#6700a8,#6700a8,#6700a8,#6700a8,#6700a8,#6700a8,#6700a8,#6700a8)"></i>
<i style="background:linear-gradient(90deg,#8707a6,#8808a6,#8b0aa5,#8b0aa5,#8808a6,#8405a7,#8104a7,#8004a8,#8405a7,#9613a1,#9a169f,#8707a6,#7d03a8,#7a02a8,#7801a8,#7701a8,#7701a8,#7501a8,#7401a8,#7401a8,#7401a8,#7401a8,#7401a8,#7501a8,#7701a8,#7a02a8,#7d03a8,#8305a7,#8707a6,#7b02a8,#7100a8,#6c00a8,#6900a8,#6900a8,#6700a8,#6700a8,#6700a8,#6700a8,#6700a8,#6700a8,#6700a8,#6700a8,#6700a8)"></i>
<i style="background:linear-gradient(90deg,#8d0ba5,#8e0ca4,#910ea3,#910ea3,#8d0ba5,#8808a6,#8606a6,#8405a7,#8808a6,#9a169f,#9d189d,#8a09a5,#8004a8,#7e03a8,#7b02a8,#7a02a8,#7801a8,#7701a8,#7701a8,#7501a8,#7501a8,#7501a8,#7701a8,#7801a8,#7a02a8,#7d03a8,#8004a8,#8606a6,#8a09a5,#7e03a8,#7201a8,#6e00a8,#6a00a8,#6900a8,#6700a8,#6700a8,#6700a8,#6700a8,#6700a8,#6700a8,#6700a8,#6700a8,#6700a8)"></i>
<i style="background:linear-gradient(90deg,#910ea3,#920fa3,#9511a1,#9511a1,#920fa3,#8d0ba5,#8a09a5,#8808a6,#8b0aa5,#9d189d,#a11b9b,#8e0ca4,#8405a7,#8104a7,#7e03a8,#7d03a8,#7b02a8,#7a02a8,#7801a8,#7801a8,#7701a8,#7701a8,#7801a8,#7a02a8,#7d03a8,#8004a8,#8305a7,#8808a6,#8d0ba5,#8004a8,#7501a8,#6f00a8,#6a00a8,#6900a8,#6700a8,#6700a8,#6700a8,#6700a8,#6700a8,#6700a8,#6700a8,#6700a8,#6700a8)"></i>
<i style="background:linear-gradient(90deg,#9511a1,#9814a0,#9a169f,#9a169f,#9613a1,#910ea3,#8e0ca4,#8b0aa5,#8f0da4,#a11b9b,#a31e9a,#910ea3,#8707a6,#8405a7,#8305a7,#8004a8,#7e03a8,#7d03a8,#7b02a8,#7a02a8,#7801a8,#7801a8,#7a02a8,#7d03a8,#8004a8,#8305a7,#8606a6,#8b0aa5,#8f0da4,#8305a7,#7701a8,#6f00a8,#6c00a8,#6900a8,#6900a8,#6700a8,#6700a8,#6700a8,#6700a8,#6700a8,#6700a8,#6700a8,#6700a8)"></i>
<i style="background:linear-gradient(90deg,#99159f,#9c179e,#9e199d,#a01a9c,#9c179e,#9511a1,#920fa3,#8f0da4,#9410a2,#a31e9a,#a72197,#9511a1,#8b0aa5,#8707a6,#8606a6,#8305a7,#8004a8,#7e03a8,#7d03a8,#7b02a8,#7b02a8,#7b02a8,#7d03a8,#7e03a8,#8305a7,#8606a6,#8a09a5,#8e0ca4,#920fa3,#8405a7,#7801a8,#7100a8,#6c00a8,#6a00a8,#6900a8,#6900a8,#6900a8,#6900a8,#6900a8,#6900a8,#6900a8,#6900a8,#6900a8)"></i>
<i style="background:linear-gradient(90deg,#9d189d,#a01a9c,#a31e9a,#a51f99,#a01a9c,#99159f,#9511a1,#9410a2,#9814a0,#a72197,#aa2395,#99159f,#8e0ca4,#8b0aa5,#8808a6,#8606a6,#8305a7,#8104a7,#7e03a8,#7e03a8,#7d03a8,#7d03a8,#7e03a8,#8104a7,#8405a7,#8808a6,#8d0ba5,#910ea3,#9511a1,#8707a6,#7a02a8,#7201a8,#6e00a8,#6a00a8,#6900a8,#6900a8,#6900a8,#6900a8,#6900a8,#6900a8,#6900a8,#6900a8,#6900a8)"></i>
<i style="background:linear-gradient(90deg,#a11b9b,#a51f99,#a82296,#a82296,#a31e9a,#9d189d,#99159f,#9814a0,#9a169f,#aa2395,#ad2793,#9c179e,#910ea3,#8e0ca4,#8b0aa5,#8808a6,#8606a6,#8305a7,#8104a7,#8004a8,#7e03a8,#7e03a8,#8104a7,#8405a7,#8707a6,#8b0aa5,#8f0da4,#9410a2,#9814a0,#8808a6,#7b02a8,#7201a8,#6e00a8,#6a00a8,#6900a8,#6900a8,#6900a8,#6900a8,#6900a8,#6900a8,#6900a8,#6900a8,#6900a8)"></i>
<i style="background:linear-gradient(90deg,#a51f99,#a82296,#ac2694,#ad2793,#a82296,#a11b9b,#9d189d,#9a169f,#9e199d,#ad2793,#b02991,#a01a9c,#9511a1,#910ea3,#8e0ca4,#8a09a5,#8707a6,#8606a6,#8305a7,#8104a7,#8004a8,#8004a8,#8305a7,#8606a6,#8a09a5,#8e0ca4,#920fa3,#9613a1,#99159f,#8b0aa5,#7d03a8,#7401a8,#6e00a8,#6c00a8,#6900a8,#6900a8,#6900a8,#6900a8,#6900a8,#6900a8,#6900a8,#6900a8,#6900a8)"></i>
<i style="background:linear-gradient(90deg,#a82296,#ac2694,#b12a90,#b12a90,#ac2694,#a51f99,#a11b9b,#9e199d,#a11b9b,#b02991,#b32c8e,#a21d9a,#9814a0,#9410a2,#910ea3,#8d0ba5,#8a09a5,#8707a6,#8606a6,#8305a7,#8305a7,#8104a7,#8405a7,#8808a6,#8b0aa5,#910ea3,#9511a1,#99159f,#9c179e,#8d0ba5,#7e03a8,#7501a8,#6f00a8,#6c00a8,#6a00a8,#6900a8,#6900a8,#6900a8,#6900a8,#6900a8,#6900a8,#6900a8,#6900a8)"></i>
<i style="background:linear-gradient(90deg,#ac2694,#ae2892,#b32c8e,#b42e8d,#ae2892,#a82296,#a31e9a,#a11b9b,#a31e9a,#b22b8f,#b52f8c,#a51f99,#9a169f,#9613a1,#920fa3,#8f0da4,#8b0aa5,#8808a6,#8707a6,#8405a7,#8405a7,#8305a7,#8606a6,#8a09a5,#8e0ca4,#920fa3,#9613a1,#9a169f,#9d189d,#8f0da4,#8004a8,#7501a8,#6f00a8,#6c00a8,#6a00a8,#6900a8,#6900a8,#6900a8,#6900a8,#6900a8,#6900a8,#6900a8,#6900a8)"></i>
<i style="background:linear-gradient(90deg,#ae2892,#b22b8f,#b6308b,#b7318a,#b22b8f,#ab2494,#a62098,#a31e9a,#a62098,#b42e8d,#b6308b,#a72197,#9d189d,#9814a0,#9410a2,#910ea3,#8d0ba5,#8a09a5,#8808a6,#8606a6,#8405a7,#8405a7,#8707a6,#8b0aa5,#8f0da4,#9511a1,#99159f,#9d189d,#a01a9c,#910ea3,#8104a7,#7701a8,#6f00a8,#6c00a8,#6a00a8,#6a00a8,#6a00a8,#6a00a8,#6a00a8,#6a00a8,#6a00a8,#6a00a8,#6a00a8)"></i>
<i style="background:linear-gradient(90deg,#b02991,#b32c8e,#b7318a,#b83289,#b32c8e,#ac2694,#a72197,#a51f99,#a72197,#b52f8c,#b83289,#a82296,#9e199d,#99159f,#9511a1,#920fa3,#8e0ca4,#8b0aa5,#8808a6,#8707a6,#8606a6,#8606a6,#8808a6,#8d0ba5,#910ea3,#9613a1,#9a169f,#9e199d,#a11b9b,#910ea3,#8305a7,#7701a8,#7100a8,#6e00a8,#6a00a8,#6a00a8,#6a00a8,#6a00a8,#6a00a8,#6a00a8,#6a00a8,#6a00a8,#6a00a8)"></i>
</div>
<div class="s" style="left:238px;top:89px;width:166px">
<i style="background:linear-gradient(90deg,#a11b9b,#ac2694,#bc3587,#c6417d,#ca457a,#cb4679,#cc4778,#cc4977,#ce4b75,#d14e72,#ce4b75,#c8437b,#c23c81,#bd3786,#b7318a,#b12a90,#ab2494,#a51f99,#9e199d,#9a169f,#99159f,#99159f,#99159f,#9a169f,#9d189d,#a11b9b,#a72197,#b12a90,#b12a90,#a11b9b,#9410a2,#8a09a5,#8305a7,#7b02a8,#7701a8,#7201a8,#6e00a8,#6a00a8,#6700a8,#6600a7,#6400a7,#6300a7,#6300a7)"></i>
<i style="background:linear-gradient(90deg,#a31e9a,#ae2892,#be3885,#c7427c,#cb4679,#cc4778,#cc4977,#cd4a76,#cf4c74,#d14e72,#cf4c74,#c9447a,#c33d80,#be3885,#b83289,#b22b8f,#ab2494,#a51f99,#a01a9c,#9c179e,#9a169f,#99159f,#9a169f,#9a169f,#9d189d,#a11b9b,#a72197,#b22b8f,#b12a90,#a11b9b,#9410a2,#8a09a5,#8305a7,#7d03a8,#7701a8,#7201a8,#6e00a8,#6a00a8,#6700a8,#6600a7,#6400a7,#6300a7,#6300a7)"></i>
<i style="background:linear-gradient(90deg,#a82296,#b22b8f,#c03a83,#c9447a,#cc4778,#cd4a76,#cd4a76,#ce4b75,#d04d73,#d35171,#d04d73,#ca457a,#c43e7f,#bf3984,#ba3388,#b32c8e,#ad2793,#a72197,#a11b9b,#9d189d,#9c179e,#9a169f,#9a169f,#9c179e,#9d189d,#a11b9b,#a72197,#b22b8f,#b12a90,#a11b9b,#9410a2,#8a09a5,#8305a7,#7d03a8,#7701a8,#7201a8,#6e00a8,#6a00a8,#6700a8,#6600a7,#6400a7,#6300a7,#6300a7)"></i>
<i style="background:linear-gradient(90deg,#ad2793,#b6308b,#c33d80,#cc4778,#cd4a76,#ce4b75,#cf4c74,#cf4c74,#d24f71,#d45270,#d24f71,#cc4778,#c6417d,#c13b82,#bc3587,#b52f8c,#ae2892,#a82296,#a21d9a,#a01a9c,#9e199d,#9d189d,#9d189d,#9d189d,#9e199d,#a11b9b,#a72197,#b22b8f,#b12a90,#a11b9b,#9410a2,#8a09a5,#8305a7,#7d03a8,#7701a8,#7201a8,#6e00a8,#6a00a8,#6700a8,#6600a7,#6400a7,#6300a7,#6300a7)"></i>
<i style="background:linear-gradient(90deg,#b42e8d,#bc3587,#c7427c,#ce4b75,#d04d73,#d04d73,#d14e72,#d14e72,#d45270,#d6556d,#d45270,#cd4a76,#c8437b,#c33d80,#bd3786,#b7318a,#b12a90,#ab2494,#a51f99,#a21d9a,#a01a9c,#a01a9c,#9e199d,#9e199d,#a01a9c,#a21d9a,#a82296,#b22b8f,#b12a90,#a11b9b,#9410a2,#8a09a5,#8305a7,#7d03a8,#7701a8,#7201a8,#6e00a8,#6a00a8,#6700a8,#6600a7,#6400a7,#6300a7,#6300a7)"></i>
<i style="background:linear-gradient(90deg,#bb3488,#c13b82,#cb4679,#d14e72,#d24f71,#d24f71,#d35171,#d35171,#d5546e,#d8576b,#d5546e,#cf4c74,#ca457a,#c5407e,#bf3984,#ba3388,#b32c8e,#ad2793,#a72197,#a51f99,#a21d9a,#a11b9b,#a11b9b,#a01a9c,#a01a9c,#a31e9a,#a82296,#b32c8e,#b22b8f,#a21d9a,#9410a2,#8a09a5,#8305a7,#7d03a8,#7701a8,#7201a8,#6e00a8,#6a00a8,#6700a8,#6600a7,#6400a7,#6300a7,#6300a7)"></i>
<i style="background:linear-gradient(90deg,#c13b82,#c7427c,#ce4b75,#d45270,#d5536f,#d5536f,#d5536f,#d5546e,#d7566c,#da5a6a,#d8576b,#d24f71,#cc4778,#c7427c,#c13b82,#bc3587,#b52f8c,#b02991,#aa2395,#a72197,#a62098,#a31e9a,#a21d9a,#a11b9b,#a11b9b,#a31e9a,#aa2395,#b32c8e,#b22b8f,#a21d9a,#9511a1,#8b0aa5,#8305a7,#7d03a8,#7701a8,#7201a8,#6e00a8,#6a00a8,#6700a8,#6600a7,#6400a7,#6300a7,#6300a7)"></i>
<i style="background:linear-gradient(90deg,#c7427c,#cc4778,#d35171,#d6556d,#d7566c,#d6556d,#d6556d,#d7566c,#da5a6a,#dc5d67,#da5b69,#d45270,#ce4b75,#c9447a,#c43e7f,#be3885,#b7318a,#b22b8f,#ad2793,#aa2395,#a82296,#a72197,#a51f99,#a21d9a,#a21d9a,#a51f99,#aa2395,#b32c8e,#b22b8f,#a21d9a,#9511a1,#8b0aa5,#8305a7,#7d03a8,#7701a8,#7201a8,#6e00a8,#6a00a8,#6700a8,#6600a7,#6400a7,#6300a7,#6300a7)"></i>
<i style="background:linear-gradient(90deg,#cd4a76,#d14e72,#d6556d,#da5a6a,#da5a6a,#d9586a,#d8576b,#d9586a,#db5c68,#de5f65,#dc5d67,#d6556d,#d04d73,#cc4778,#c6417d,#c03a83,#ba3388,#b42e8d,#b02991,#ac2694,#ab2494,#aa2395,#a72197,#a51f99,#a31e9a,#a51f99,#aa2395,#b32c8e,#b22b8f,#a21d9a,#9511a1,#8b0aa5,#8305a7,#7d03a8,#7701a8,#7201a8,#6e00a8,#6a00a8,#6700a8,#6600a7,#6400a7,#6300a7,#6300a7)"></i>
<i style="background:linear-gradient(90deg,#d35171,#d6556d,#da5a6a,#dc5d67,#dc5d67,#da5b69,#da5b69,#da5b69,#dd5e66,#e06363,#de6164,#d9586a,#d35171,#cd4a76,#c8437b,#c23c81,#bd3786,#b7318a,#b22b8f,#ae2892,#ad2793,#ac2694,#a82296,#a62098,#a51f99,#a62098,#ab2494,#b42e8d,#b32c8e,#a21d9a,#9511a1,#8b0aa5,#8405a7,#7d03a8,#7701a8,#7201a8,#6e00a8,#6a00a8,#6700a8,#6600a7,#6400a7,#6300a7,#6300a7)"></i>
<i style="background:linear-gradient(90deg,#d9586a,#da5b69,#de5f65,#df6263,#de5f65,#dc5d67,#dc5d67,#dd5e66,#df6263,#e26561,#e06363,#da5b69,#d5536f,#cf4c74,#ca457a,#c43e7f,#bf3984,#ba3388,#b42e8d,#b12a90,#b02991,#ae2892,#ab2494,#a72197,#a62098,#a72197,#ab2494,#b42e8d,#b32c8e,#a31e9a,#9511a1,#8b0aa5,#8405a7,#7d03a8,#7701a8,#7201a8,#6e00a8,#6a00a8,#6700a8,#6600a7,#6400a7,#6300a7,#6300a7)"></i>
<i style="background:linear-gradient(90deg,#de5f65,#df6263,#e16462,#e26561,#e06363,#de6164,#de5f65,#de6164,#e16462,#e4695e,#e26660,#dd5e66,#d6556d,#d14e72,#cc4778,#c6417d,#c13b82,#bc3587,#b6308b,#b42e8d,#b22b8f,#b12a90,#ad2793,#a82296,#a62098,#a72197,#ac2694,#b42e8d,#b32c8e,#a31e9a,#9613a1,#8b0aa5,#8405a7,#7d03a8,#7701a8,#7201a8,#6e00a8,#6a00a8,#6700a8,#6600a7,#6400a7,#6300a7,#6300a7)"></i>
<i style="background:linear-gradient(90deg,#e26660,#e3685f,#e56a5d,#e56a5d,#e26660,#e06363,#df6263,#e06363,#e26660,#e56b5d,#e56a5d,#de6164,#d9586a,#d35171,#cd4a76,#c9447a,#c33d80,#be3885,#b83289,#b6308b,#b42e8d,#b32c8e,#ae2892,#aa2395,#a72197,#a82296,#ac2694,#b52f8c,#b32c8e,#a31e9a,#9613a1,#8d0ba5,#8405a7,#7d03a8,#7701a8,#7201a8,#6e00a8,#6a00a8,#6700a8,#6600a7,#6400a7,#6300a7,#6300a7)"></i>
<i style="background:linear-gradient(90deg,#e76e5b,#e76f5a,#e76f5a,#e76e5b,#e56a5d,#e26561,#e16462,#e26561,#e56a5d,#e76e5b,#e66c5c,#e16462,#da5b69,#d5546e,#cf4c74,#cb4679,#c5407e,#c03a83,#bb3488,#b83289,#b6308b,#b52f8c,#b12a90,#ab2494,#a82296,#a82296,#ac2694,#b52f8c,#b32c8e,#a31e9a,#9613a1,#8d0ba5,#8405a7,#7d03a8,#7701a8,#7201a8,#6e00a8,#6a00a8,#6700a8,#6600a7,#6400a7,#6300a7,#6300a7)"></i>
<i style="background:linear-gradient(90deg,#eb7556,#ea7457,#ea7457,#e97158,#e66c5c,#e3685f,#e26660,#e3685f,#e66c5c,#e97158,#e76f5a,#e26660,#dc5d67,#d6556d,#d14e72,#cc4778,#c7427c,#c23c81,#bd3786,#ba3388,#b83289,#b6308b,#b22b8f,#ac2694,#aa2395,#aa2395,#ad2793,#b52f8c,#b42e8d,#a31e9a,#9613a1,#8d0ba5,#8405a7,#7d03a8,#7701a8,#7201a8,#6e00a8,#6a00a8,#6700a8,#6600a7,#6400a7,#6300a7,#6300a7)"></i>
<i style="background:linear-gradient(90deg,#ee7b51,#ed7953,#ec7754,#ea7457,#e76f5a,#e56a5d,#e4695e,#e56a5d,#e76e5b,#e97257,#e97158,#e4695e,#de5f65,#d8576b,#d35171,#cd4a76,#c8437b,#c33d80,#bf3984,#bc3587,#bb3488,#b83289,#b32c8e,#ad2793,#aa2395,#aa2395,#ad2793,#b52f8c,#b42e8d,#a31e9a,#9613a1,#8d0ba5,#8405a7,#7d03a8,#7701a8,#7201a8,#6e00a8,#6a00a8,#6700a8,#6600a7,#6400a7,#6300a7,#6300a7)"></i>
<i style="background:linear-gradient(90deg,#f07f4f,#ef7e50,#ed7a52,#eb7655,#e97158,#e56b5d,#e56a5d,#e56b5d,#e87059,#eb7556,#e97257,#e56a5d,#de6164,#d9586a,#d45270,#ce4b75,#c9447a,#c43e7f,#c03a83,#bd3786,#bc3587,#ba3388,#b42e8d,#ae2892,#ab2494,#ab2494,#ad2793,#b6308b,#b42e8d,#a31e9a,#9613a1,#8d0ba5,#8405a7,#7d03a8,#7701a8,#7201a8,#6e00a8,#6a00a8,#6700a8,#6600a7,#6400a7,#6300a7,#6300a7)"></i>
<i style="background:linear-gradient(90deg,#f1834c,#f0804e,#ef7c51,#ed7953,#e97257,#e66c5c,#e56b5d,#e66c5c,#e97158,#eb7655,#ea7457,#e56b5d,#df6263,#da5a6a,#d45270,#cf4c74,#ca457a,#c5407e,#c13b82,#be3885,#bd3786,#ba3388,#b52f8c,#ae2892,#ab2494,#ab2494,#ad2793,#b6308b,#b42e8d,#a31e9a,#9613a1,#8d0ba5,#8405a7,#7d03a8,#7701a8,#7201a8,#6e00a8,#6a00a8,#6700a8,#6600a7,#6400a7,#6300a7,#6300a7)"></i>
<i style="background:linear-gradient(90deg,#f3854b,#f1834c,#f07f4f,#ed7a52,#ea7457,#e76e5b,#e56b5d,#e76e5b,#e97158,#eb7655,#eb7556,#e66c5c,#df6263,#da5a6a,#d5536f,#cf4c74,#ca457a,#c6417d,#c13b82,#bf3984,#bd3786,#bb3488,#b52f8c,#ae2892,#ab2494,#ab2494,#ad2793,#b6308b,#b42e8d,#a31e9a,#9613a1,#8d0ba5,#8405a7,#7d03a8,#7701a8,#7201a8,#6e00a8,#6a00a8,#6700a8,#6600a7,#6400a7,#6300a7,#6300a7)"></i>
<i style="background:linear-gradient(90deg,#f48849,#f2844b,#f0804e,#ed7a52,#ea7457,#e76e5b,#e66c5c,#e76e5b,#e97257,#ec7754,#eb7556,#e66c5c,#e06363,#da5a6a,#d5536f,#cf4c74,#cb4679,#c6417d,#c23c81,#bf3984,#bd3786,#bb3488,#b52f8c,#b02991,#ab2494,#ab2494,#ae2892,#b6308b,#b42e8d,#a31e9a,#9613a1,#8d0ba5,#8405a7,#7d03a8,#7701a8,#7201a8,#6e00a8,#6a00a8,#6700a8,#6600a7,#6400a7,#6300a7,#6300a7)"></i>
<i style="background:linear-gradient(90deg,#f48948,#f3854b,#f0804e,#ee7b51,#eb7556,#e76f5a,#e66c5c,#e76f5a,#e97257,#ec7754,#eb7655,#e66c5c,#e06363,#da5a6a,#d5536f,#cf4c74,#cb4679,#c6417d,#c23c81,#bf3984,#be3885,#bb3488,#b52f8c,#b02991,#ab2494,#ab2494,#ae2892,#b6308b,#b42e8d,#a31e9a,#9613a1,#8b0aa5,#8405a7,#7d03a8,#7701a8,#7201a8,#6e00a8,#6a00a8,#6700a8,#6600a7,#6400a7,#6300a7,#6300a7)"></i>
<i style="background:linear-gradient(90deg,#f58b47,#f3874a,#f1814d,#ef7c51,#eb7556,#e76f5a,#e66c5c,#e76f5a,#ea7457,#ed7953,#eb7655,#e66c5c,#e06363,#da5b69,#d5536f,#cf4c74,#cb4679,#c7427c,#c33d80,#c03a83,#be3885,#bb3488,#b52f8c,#b02991,#ab2494,#ab2494,#ae2892,#b52f8c,#b32c8e,#a31e9a,#9511a1,#8b0aa5,#8405a7,#7d03a8,#7701a8,#7201a8,#6e00a8,#6a00a8,#6700a8,#6600a7,#6400a7,#6300a7,#6300a7)"></i>
<i style="background:linear-gradient(90deg,#f58c46,#f48849,#f1834c,#ef7c51,#eb7556,#e76f5a,#e76e5b,#e76f5a,#ea7457,#ed7953,#eb7655,#e76e5b,#e06363,#da5b69,#d5536f,#cf4c74,#cb4679,#c7427c,#c33d80,#c03a83,#be3885,#bb3488,#b52f8c,#b02991,#ab2494,#ab2494,#ae2892,#b52f8c,#b32c8e,#a21d9a,#9511a1,#8b0aa5,#8405a7,#7d03a8,#7701a8,#7201a8,#6e00a8,#6a00a8,#6700a8,#6600a7,#6400a7,#6300a7,#6300a7)"></i>
<i style="background:linear-gradient(90deg,#f68d45,#f48948,#f2844b,#ef7e50,#eb7655,#e87059,#e76e5b,#e87059,#ea7457,#ed7953,#eb7655,#e76e5b,#e06363,#da5b69,#d5536f,#cf4c74,#cb4679,#c7427c,#c33d80,#c03a83,#be3885,#bb3488,#b52f8c,#b02991,#ab2494,#ab2494,#ae2892,#b52f8c,#b32c8e,#a21d9a,#9511a1,#8b0aa5,#8305a7,#7d03a8,#7701a8,#7201a8,#6e00a8,#6a00a8,#6700a8,#6600a7,#6400a7,#6300a7,#6300a7)"></i>
<i style="background:linear-gradient(90deg,#f68f44,#f58b47,#f2844b,#ef7e50,#eb7655,#e87059,#e76e5b,#e87059,#eb7556,#ed7953,#ec7754,#e76e5b,#e06363,#da5b69,#d5536f,#cf4c74,#cb4679,#c7427c,#c33d80,#c13b82,#be3885,#bb3488,#b52f8c,#b02991,#ab2494,#ab2494,#ae2892,#b52f8c,#b32c8e,#a21d9a,#9511a1,#8b0aa5,#8305a7,#7d03a8,#7701a8,#7201a8,#6e00a8,#6a00a8,#6700a8,#6600a7,#6400a7,#6300a7,#6300a7)"></i>
<i style="background:linear-gradient(90deg,#f79044,#f58c46,#f3854b,#f07f4f,#ec7754,#e87059,#e76e5b,#e87059,#eb7556,#ed7a52,#ec7754,#e76e5b,#e06363,#da5b69,#d5536f,#cf4c74,#cb4679,#c7427c,#c43e7f,#c13b82,#be3885,#bb3488,#b52f8c,#b02991,#ab2494,#ab2494,#ad2793,#b52f8c,#b32c8e,#a21d9a,#9511a1,#8b0aa5,#8305a7,#7d03a8,#7701a8,#7201a8,#6e00a8,#6a00a8,#6700a8,#6600a7,#6400a7,#6300a7,#6300a7)"></i>
<i style="background:linear-gradient(90deg,#f79143,#f68d45,#f3874a,#f07f4f,#ec7754,#e87059,#e76f5a,#e87059,#eb7556,#ed7a52,#ec7754,#e76e5b,#e06363,#da5b69,#d5536f,#cf4c74,#cb4679,#c7427c,#c43e7f,#c13b82,#bf3984,#bb3488,#b52f8c,#b02991,#ab2494,#ab2494,#ad2793,#b52f8c,#b32c8e,#a21d9a,#9410a2,#8a09a5,#8305a7,#7d03a8,#7701a8,#7201a8,#6e00a8,#6a00a8,#6700a8,#6600a7,#6400a7,#6300a7,#6300a7)"></i>
<i style="background:linear-gradient(90deg,#f79342,#f68f44,#f3874a,#f0804e,#ec7754,#e97158,#e76f5a,#e97158,#eb7556,#ed7a52,#ec7754,#e76e5b,#e06363,#da5b69,#d5536f,#cf4c74,#cb4679,#c8437b,#c43e7f,#c13b82,#bf3984,#bb3488,#b52f8c,#b02991,#ab2494,#ab2494,#ad2793,#b52f8c,#b32c8e,#a21d9a,#9410a2,#8a09a5,#8305a7,#7d03a8,#7701a8,#7201a8,#6e00a8,#6a00a8,#6700a8,#6600a7,#6400a7,#6300a7,#6300a7)"></i>
<i style="background:linear-gradient(90deg,#f89441,#f68f44,#f48849,#f0804e,#ed7953,#e97158,#e76f5a,#e97158,#eb7655,#ee7b51,#ed7953,#e76e5b,#e06363,#da5b69,#d5536f,#cf4c74,#cb4679,#c8437b,#c5407e,#c23c81,#bf3984,#bb3488,#b52f8c,#b02991,#ab2494,#ab2494,#ad2793,#b52f8c,#b32c8e,#a11b9b,#9410a2,#8a09a5,#8305a7,#7d03a8,#7701a8,#7201a8,#6e00a8,#6a00a8,#6700a8,#6600a7,#6400a7,#6300a7,#6300a7)"></i>
<i style="background:linear-gradient(90deg,#f89540,#f79044,#f48849,#f0804e,#ed7953,#e97158,#e76f5a,#e97158,#eb7655,#ee7b51,#ed7953,#e76f5a,#e06363,#da5b69,#d5536f,#cf4c74,#cb4679,#c8437b,#c5407e,#c23c81,#bf3984,#bb3488,#b52f8c,#b02991,#ab2494,#ab2494,#ad2793,#b52f8c,#b32c8e,#a11b9b,#9410a2,#8a09a5,#8305a7,#7d03a8,#7701a8,#7201a8,#6e00a8,#6a00a8,#6700a8,#6600a7,#6400a7,#6300a7,#6300a7)"></i>
<i style="background:linear-gradient(90deg,#f89540,#f79044,#f48948,#f1814d,#ed7953,#e97158,#e76f5a,#e97158,#eb7655,#ee7b51,#ed7953,#e76f5a,#e06363,#da5b69,#d5536f,#cf4c74,#cb4679,#c8437b,#c5407e,#c23c81,#bf3984,#bb3488,#b52f8c,#b02991,#ab2494,#ab2494,#ad2793,#b52f8c,#b22b8f,#a11b9b,#9410a2,#8a09a5,#8305a7,#7d03a8,#7701a8,#7201a8,#6e00a8,#6a00a8,#6700a8,#6600a7,#6400a7,#6300a7,#6300a7)"></i>
</div>
<div class="s" style="left:238px;top:140px;width:166px">
<i style="background:linear-gradient(90deg,#7100a8,#6e00a8,#6700a8,#6400a7,#6600a7,#6900a8,#6c00a8,#6f00a8,#7501a8,#8707a6,#9511a1,#8606a6,#7701a8,#7401a8,#7201a8,#7201a8,#7401a8,#7501a8,#7a02a8,#7d03a8,#8104a7,#8405a7,#8305a7,#8004a8,#7e03a8,#7e03a8,#8305a7,#8f0da4,#910ea3,#8305a7,#7b02a8,#7701a8,#7701a8,#7a02a8,#8004a8,#8a09a5,#8808a6,#7d03a8,#7201a8,#6c00a8,#6700a8,#6400a7,#6300a7)"></i>
<i style="background:linear-gradient(90deg,#7100a8,#6e00a8,#6700a8,#6400a7,#6600a7,#6900a8,#6c00a8,#6f00a8,#7501a8,#8707a6,#9511a1,#8606a6,#7701a8,#7401a8,#7201a8,#7201a8,#7401a8,#7701a8,#7a02a8,#7e03a8,#8305a7,#8606a6,#8405a7,#8104a7,#7e03a8,#7e03a8,#8305a7,#8f0da4,#910ea3,#8305a7,#7b02a8,#7701a8,#7701a8,#7a02a8,#8004a8,#8a09a5,#8808a6,#7d03a8,#7201a8,#6c00a8,#6700a8,#6400a7,#6300a7)"></i>
<i style="background:linear-gradient(90deg,#7100a8,#6e00a8,#6700a8,#6400a7,#6600a7,#6900a8,#6c00a8,#6f00a8,#7501a8,#8707a6,#9511a1,#8606a6,#7701a8,#7401a8,#7201a8,#7201a8,#7401a8,#7701a8,#7a02a8,#7e03a8,#8305a7,#8606a6,#8405a7,#8104a7,#8004a8,#8004a8,#8305a7,#8f0da4,#910ea3,#8305a7,#7b02a8,#7701a8,#7701a8,#7801a8,#8004a8,#8a09a5,#8808a6,#7b02a8,#7201a8,#6c00a8,#6700a8,#6400a7,#6300a7)"></i>
<i style="background:linear-gradient(90deg,#7100a8,#6e00a8,#6700a8,#6400a7,#6600a7,#6900a8,#6c00a8,#6f00a8,#7501a8,#8707a6,#9511a1,#8606a6,#7701a8,#7401a8,#7201a8,#7201a8,#7401a8,#7701a8,#7b02a8,#8004a8,#8405a7,#8707a6,#8606a6,#8305a7,#8104a7,#8004a8,#8405a7,#8f0da4,#920fa3,#8305a7,#7b02a8,#7701a8,#7701a8,#7801a8,#8004a8,#8a09a5,#8707a6,#7b02a8,#7100a8,#6a00a8,#6700a8,#6400a7,#6300a7)"></i>
<i style="background:linear-gradient(90deg,#7100a8,#6e00a8,#6700a8,#6400a7,#6600a7,#6900a8,#6c00a8,#6f00a8,#7501a8,#8707a6,#9511a1,#8606a6,#7701a8,#7401a8,#7201a8,#7201a8,#7401a8,#7801a8,#7d03a8,#8104a7,#8606a6,#8a09a5,#8808a6,#8405a7,#8305a7,#8104a7,#8405a7,#910ea3,#920fa3,#8405a7,#7b02a8,#7801a8,#7701a8,#7801a8,#7e03a8,#8808a6,#8606a6,#7a02a8,#7100a8,#6a00a8,#6700a8,#6400a7,#6300a7)"></i>
<i style="background:linear-gradient(90deg,#7100a8,#6e00a8,#6700a8,#6400a7,#6600a7,#6900a8,#6c00a8,#6f00a8,#7501a8,#8707a6,#9511a1,#8606a6,#7701a8,#7401a8,#7201a8,#7201a8,#7401a8,#7801a8,#7d03a8,#8305a7,#8808a6,#8b0aa5,#8a09a5,#8606a6,#8405a7,#8104a7,#8405a7,#910ea3,#920fa3,#8405a7,#7b02a8,#7801a8,#7701a8,#7801a8,#7e03a8,#8707a6,#8405a7,#7801a8,#7100a8,#6a00a8,#6700a8,#6400a7,#6300a7)"></i>
<i style="background:linear-gradient(90deg,#7100a8,#6e00a8,#6700a8,#6400a7,#6600a7,#6900a8,#6c00a8,#6f00a8,#7501a8,#8707a6,#9511a1,#8606a6,#7701a8,#7401a8,#7201a8,#7201a8,#7501a8,#7a02a8,#7e03a8,#8405a7,#8a09a5,#8d0ba5,#8b0aa5,#8808a6,#8606a6,#8305a7,#8606a6,#910ea3,#920fa3,#8405a7,#7b02a8,#7801a8,#7701a8,#7801a8,#7d03a8,#8606a6,#8305a7,#7801a8,#6f00a8,#6a00a8,#6700a8,#6400a7,#6300a7)"></i>
<i style="background:linear-gradient(90deg,#7100a8,#6e00a8,#6700a8,#6400a7,#6600a7,#6900a8,#6c00a8,#6f00a8,#7501a8,#8707a6,#9511a1,#8606a6,#7701a8,#7401a8,#7201a8,#7401a8,#7501a8,#7a02a8,#8004a8,#8606a6,#8b0aa5,#8f0da4,#8e0ca4,#8a09a5,#8707a6,#8405a7,#8606a6,#920fa3,#920fa3,#8405a7,#7b02a8,#7801a8,#7701a8,#7701a8,#7d03a8,#8405a7,#8104a7,#7701a8,#6f00a8,#6a00a8,#6700a8,#6400a7,#6300a7)"></i>
<i style="background:linear-gradient(90deg,#7100a8,#6e00a8,#6700a8,#6400a7,#6600a7,#6900a8,#6c00a8,#6f00a8,#7501a8,#8707a6,#9511a1,#8606a6,#7701a8,#7401a8,#7201a8,#7401a8,#7501a8,#7b02a8,#8104a7,#8707a6,#8e0ca4,#910ea3,#8f0da4,#8b0aa5,#8808a6,#8606a6,#8707a6,#920fa3,#9410a2,#8405a7,#7b02a8,#7801a8,#7701a8,#7701a8,#7b02a8,#8104a7,#8004a8,#7501a8,#6e00a8,#6900a8,#6600a7,#6400a7,#6300a7)"></i>
<i style="background:linear-gradient(90deg,#7100a8,#6e00a8,#6700a8,#6400a7,#6600a7,#6900a8,#6c00a8,#6f00a8,#7501a8,#8707a6,#9511a1,#8606a6,#7701a8,#7401a8,#7201a8,#7401a8,#7701a8,#7d03a8,#8305a7,#8808a6,#8f0da4,#9410a2,#910ea3,#8e0ca4,#8a09a5,#8606a6,#8707a6,#920fa3,#9410a2,#8405a7,#7b02a8,#7801a8,#7701a8,#7701a8,#7a02a8,#8004a8,#7d03a8,#7401a8,#6e00a8,#6900a8,#6600a7,#6400a7,#6300a7)"></i>
<i style="background:linear-gradient(90deg,#7100a8,#6e00a8,#6700a8,#6400a7,#6600a7,#6900a8,#6c00a8,#6f00a8,#7501a8,#8707a6,#9511a1,#8606a6,#7701a8,#7401a8,#7201a8,#7401a8,#7701a8,#7d03a8,#8405a7,#8b0aa5,#910ea3,#9511a1,#9410a2,#8f0da4,#8b0aa5,#8707a6,#8808a6,#920fa3,#9410a2,#8606a6,#7b02a8,#7801a8,#7501a8,#7701a8,#7801a8,#7e03a8,#7b02a8,#7201a8,#6c00a8,#6900a8,#6600a7,#6400a7,#6300a7)"></i>
<i style="background:linear-gradient(90deg,#7100a8,#6e00a8,#6700a8,#6400a7,#6600a7,#6900a8,#6c00a8,#6f00a8,#7501a8,#8707a6,#9511a1,#8606a6,#7701a8,#7401a8,#7201a8,#7401a8,#7701a8,#7e03a8,#8606a6,#8d0ba5,#9410a2,#9814a0,#9511a1,#910ea3,#8d0ba5,#8808a6,#8808a6,#9410a2,#9410a2,#8606a6,#7b02a8,#7801a8,#7501a8,#7501a8,#7801a8,#7b02a8,#7801a8,#7100a8,#6c00a8,#6900a8,#6600a7,#6400a7,#6300a7)"></i>
<i style="background:linear-gradient(90deg,#7100a8,#6e00a8,#6700a8,#6400a7,#6600a7,#6900a8,#6c00a8,#6f00a8,#7501a8,#8707a6,#9511a1,#8606a6,#7701a8,#7401a8,#7201a8,#7401a8,#7701a8,#7e03a8,#8707a6,#8e0ca4,#9511a1,#99159f,#9814a0,#920fa3,#8e0ca4,#8a09a5,#8808a6,#9410a2,#9511a1,#8606a6,#7d03a8,#7801a8,#7501a8,#7501a8,#7701a8,#7a02a8,#7701a8,#7100a8,#6a00a8,#6700a8,#6600a7,#6400a7,#6300a7)"></i>
<i style="background:linear-gradient(90deg,#7100a8,#6e00a8,#6700a8,#6400a7,#6600a7,#6900a8,#6c00a8,#6f00a8,#7501a8,#8707a6,#9511a1,#8606a6,#7701a8,#7401a8,#7201a8,#7401a8,#7801a8,#8004a8,#8707a6,#8f0da4,#9613a1,#9c179e,#99159f,#9511a1,#8f0da4,#8a09a5,#8a09a5,#9410a2,#9511a1,#8606a6,#7d03a8,#7801a8,#7501a8,#7501a8,#7501a8,#7801a8,#7501a8,#6f00a8,#6a00a8,#6700a8,#6600a7,#6400a7,#6300a7)"></i>
<i style="background:linear-gradient(90deg,#7100a8,#6e00a8,#6700a8,#6400a7,#6600a7,#6900a8,#6c00a8,#6f00a8,#7501a8,#8707a6,#9511a1,#8606a6,#7701a8,#7401a8,#7401a8,#7401a8,#7801a8,#8004a8,#8808a6,#910ea3,#9814a0,#9d189d,#9a169f,#9613a1,#910ea3,#8b0aa5,#8a09a5,#9511a1,#9511a1,#8606a6,#7d03a8,#7801a8,#7501a8,#7501a8,#7501a8,#7501a8,#7401a8,#6e00a8,#6a00a8,#6700a8,#6600a7,#6400a7,#6300a7)"></i>
<i style="background:linear-gradient(90deg,#7100a8,#6e00a8,#6700a8,#6400a7,#6600a7,#6900a8,#6c00a8,#6f00a8,#7501a8,#8707a6,#9511a1,#8606a6,#7701a8,#7401a8,#7401a8,#7501a8,#7801a8,#8104a7,#8a09a5,#920fa3,#99159f,#9e199d,#9c179e,#9814a0,#920fa3,#8d0ba5,#8b0aa5,#9511a1,#9511a1,#8606a6,#7d03a8,#7801a8,#7501a8,#7401a8,#7401a8,#7401a8,#7201a8,#6c00a8,#6900a8,#6700a8,#6600a7,#6400a7,#6300a7)"></i>
<i style="background:linear-gradient(90deg,#7100a8,#6e00a8,#6700a8,#6400a7,#6600a7,#6900a8,#6c00a8,#6f00a8,#7501a8,#8707a6,#9511a1,#8606a6,#7701a8,#7401a8,#7401a8,#7501a8,#7801a8,#8104a7,#8b0aa5,#9410a2,#9a169f,#a01a9c,#9d189d,#99159f,#920fa3,#8d0ba5,#8b0aa5,#9511a1,#9511a1,#8606a6,#7d03a8,#7801a8,#7501a8,#7401a8,#7401a8,#7401a8,#7100a8,#6c00a8,#6900a8,#6700a8,#6600a7,#6300a7,#6300a7)"></i>
<i style="background:linear-gradient(90deg,#7100a8,#6e00a8,#6700a8,#6400a7,#6600a7,#6900a8,#6c00a8,#6f00a8,#7501a8,#8707a6,#9511a1,#8606a6,#7701a8,#7401a8,#7401a8,#7501a8,#7801a8,#8104a7,#8b0aa5,#9410a2,#9c179e,#a11b9b,#9e199d,#99159f,#9410a2,#8d0ba5,#8b0aa5,#9511a1,#9511a1,#8606a6,#7d03a8,#7801a8,#7501a8,#7401a8,#7401a8,#7201a8,#6f00a8,#6a00a8,#6900a8,#6700a8,#6400a7,#6300a7,#6300a7)"></i>
</div>
<div class="s" style="left:238px;top:159px;width:166px">
<i style="background:linear-gradient(90deg,#7401a8,#7b02a8,#8707a6,#910ea3,#99159f,#a01a9c,#a11b9b,#a01a9c,#a21d9a,#ad2793,#b42e8d,#ad2793,#a72197,#aa2395,#ad2793,#b02991,#b32c8e,#b42e8d,#b52f8c,#b52f8c,#b52f8c,#b52f8c,#b32c8e,#b12a90,#ab2494,#a01a9c,#9613a1,#9410a2,#8e0ca4,#8606a6,#8104a7,#7e03a8,#7d03a8,#7d03a8,#7d03a8,#7d03a8,#7d03a8,#7e03a8,#8104a7,#8405a7,#8405a7,#8606a6,#8606a6)"></i>
<i style="background:linear-gradient(90deg,#7401a8,#7b02a8,#8707a6,#910ea3,#99159f,#a01a9c,#a11b9b,#a01a9c,#a21d9a,#ad2793,#b42e8d,#ad2793,#a72197,#a82296,#ac2694,#b02991,#b22b8f,#b32c8e,#b42e8d,#b52f8c,#b52f8c,#b42e8d,#b32c8e,#b02991,#aa2395,#a01a9c,#9613a1,#9410a2,#8e0ca4,#8606a6,#8104a7,#7e03a8,#7d03a8,#7d03a8,#7d03a8,#7d03a8,#7d03a8,#7e03a8,#8104a7,#8405a7,#8405a7,#8405a7,#8405a7)"></i>
<i style="background:linear-gradient(90deg,#7401a8,#7b02a8,#8606a6,#8f0da4,#99159f,#a01a9c,#a11b9b,#9e199d,#a21d9a,#ae2892,#b42e8d,#ad2793,#a72197,#a82296,#ab2494,#ae2892,#b12a90,#b22b8f,#b32c8e,#b42e8d,#b42e8d,#b32c8e,#b22b8f,#b02991,#aa2395,#9e199d,#9511a1,#9410a2,#8e0ca4,#8606a6,#8104a7,#7e03a8,#7d03a8,#7d03a8,#7d03a8,#7d03a8,#7d03a8,#7e03a8,#8104a7,#8405a7,#8405a7,#8405a7,#8405a7)"></i>
<i style="background:linear-gradient(90deg,#7201a8,#7a02a8,#8606a6,#8f0da4,#9814a0,#9e199d,#a01a9c,#9e199d,#a21d9a,#ae2892,#b52f8c,#ad2793,#a72197,#a72197,#aa2395,#ad2793,#b02991,#b12a90,#b22b8f,#b32c8e,#b32c8e,#b22b8f,#b12a90,#ad2793,#a72197,#9d189d,#9511a1,#9410a2,#8e0ca4,#8606a6,#8104a7,#7e03a8,#7d03a8,#7b02a8,#7b02a8,#7b02a8,#7b02a8,#7d03a8,#8004a8,#8305a7,#8405a7,#8405a7,#8405a7)"></i>
<i style="background:linear-gradient(90deg,#7201a8,#7a02a8,#8405a7,#8e0ca4,#9613a1,#9e199d,#a01a9c,#9e199d,#a21d9a,#ae2892,#b52f8c,#ae2892,#a62098,#a62098,#a82296,#ac2694,#ae2892,#b02991,#b12a90,#b12a90,#b12a90,#b12a90,#ae2892,#ac2694,#a62098,#9d189d,#9511a1,#9410a2,#8e0ca4,#8606a6,#8004a8,#7d03a8,#7b02a8,#7b02a8,#7b02a8,#7b02a8,#7b02a8,#7d03a8,#8004a8,#8305a7,#8405a7,#8405a7,#8405a7)"></i>
<i style="background:linear-gradient(90deg,#7100a8,#7801a8,#8405a7,#8e0ca4,#9613a1,#9d189d,#a01a9c,#9e199d,#a21d9a,#b02991,#b6308b,#ae2892,#a62098,#a51f99,#a72197,#aa2395,#ac2694,#ad2793,#ae2892,#b02991,#b02991,#ae2892,#ad2793,#ab2494,#a51f99,#9c179e,#9410a2,#9410a2,#8e0ca4,#8405a7,#8004a8,#7d03a8,#7b02a8,#7a02a8,#7a02a8,#7a02a8,#7b02a8,#7d03a8,#8004a8,#8305a7,#8405a7,#8405a7,#8405a7)"></i>
<i style="background:linear-gradient(90deg,#7100a8,#7801a8,#8305a7,#8d0ba5,#9511a1,#9c179e,#9e199d,#9e199d,#a21d9a,#b02991,#b6308b,#ae2892,#a62098,#a31e9a,#a62098,#a82296,#ab2494,#ac2694,#ad2793,#ad2793,#ad2793,#ad2793,#ab2494,#a82296,#a31e9a,#9a169f,#9410a2,#9410a2,#8e0ca4,#8405a7,#8004a8,#7b02a8,#7a02a8,#7a02a8,#7801a8,#7a02a8,#7a02a8,#7b02a8,#8004a8,#8305a7,#8305a7,#8305a7,#8305a7)"></i>
<i style="background:linear-gradient(90deg,#7100a8,#7701a8,#8104a7,#8b0aa5,#9410a2,#9c179e,#9e199d,#9d189d,#a21d9a,#b02991,#b7318a,#b02991,#a51f99,#a21d9a,#a51f99,#a62098,#a82296,#aa2395,#ab2494,#ab2494,#ab2494,#ab2494,#aa2395,#a62098,#a11b9b,#99159f,#920fa3,#9410a2,#8e0ca4,#8405a7,#7e03a8,#7b02a8,#7a02a8,#7801a8,#7801a8,#7801a8,#7a02a8,#7b02a8,#7e03a8,#8104a7,#8305a7,#8305a7,#8305a7)"></i>
<i style="background:linear-gradient(90deg,#6f00a8,#7701a8,#8104a7,#8b0aa5,#9410a2,#9a169f,#9d189d,#9d189d,#a21d9a,#b12a90,#b7318a,#b02991,#a51f99,#a11b9b,#a21d9a,#a51f99,#a62098,#a82296,#a82296,#aa2395,#aa2395,#a82296,#a72197,#a51f99,#a01a9c,#9814a0,#920fa3,#9410a2,#8e0ca4,#8405a7,#7e03a8,#7b02a8,#7801a8,#7701a8,#7701a8,#7701a8,#7801a8,#7a02a8,#7e03a8,#8104a7,#8305a7,#8305a7,#8305a7)"></i>
<i style="background:linear-gradient(90deg,#6f00a8,#7501a8,#8004a8,#8a09a5,#920fa3,#99159f,#9c179e,#9d189d,#a21d9a,#b12a90,#b83289,#b02991,#a51f99,#a01a9c,#a11b9b,#a21d9a,#a51f99,#a62098,#a72197,#a72197,#a72197,#a72197,#a51f99,#a21d9a,#9d189d,#9613a1,#910ea3,#9410a2,#8e0ca4,#8405a7,#7e03a8,#7a02a8,#7801a8,#7701a8,#7501a8,#7701a8,#7801a8,#7a02a8,#7e03a8,#8104a7,#8305a7,#8305a7,#8305a7)"></i>
<i style="background:linear-gradient(90deg,#6e00a8,#7501a8,#8004a8,#8808a6,#910ea3,#99159f,#9c179e,#9d189d,#a21d9a,#b12a90,#b83289,#b02991,#a31e9a,#9e199d,#a01a9c,#a11b9b,#a21d9a,#a31e9a,#a51f99,#a51f99,#a51f99,#a51f99,#a31e9a,#a11b9b,#9c179e,#9511a1,#910ea3,#9410a2,#8e0ca4,#8405a7,#7d03a8,#7a02a8,#7701a8,#7501a8,#7501a8,#7501a8,#7701a8,#7a02a8,#7d03a8,#8104a7,#8305a7,#8305a7,#8305a7)"></i>
<i style="background:linear-gradient(90deg,#6e00a8,#7401a8,#7e03a8,#8808a6,#910ea3,#9814a0,#9a169f,#9c179e,#a21d9a,#b22b8f,#ba3388,#b02991,#a31e9a,#9d189d,#9d189d,#9e199d,#a01a9c,#a11b9b,#a21d9a,#a31e9a,#a31e9a,#a21d9a,#a11b9b,#9e199d,#9a169f,#9410a2,#910ea3,#9410a2,#8e0ca4,#8305a7,#7d03a8,#7801a8,#7701a8,#7501a8,#7401a8,#7501a8,#7701a8,#7801a8,#7d03a8,#8004a8,#8104a7,#8104a7,#8104a7)"></i>
<i style="background:linear-gradient(90deg,#6e00a8,#7401a8,#7e03a8,#8707a6,#8f0da4,#9613a1,#9a169f,#9c179e,#a21d9a,#b22b8f,#ba3388,#b12a90,#a21d9a,#9c179e,#9c179e,#9d189d,#9e199d,#9e199d,#a01a9c,#a11b9b,#a11b9b,#a01a9c,#9e199d,#9c179e,#9814a0,#920fa3,#8f0da4,#9410a2,#8e0ca4,#8305a7,#7d03a8,#7801a8,#7501a8,#7401a8,#7401a8,#7401a8,#7501a8,#7801a8,#7d03a8,#8004a8,#8104a7,#8104a7,#8104a7)"></i>
<i style="background:linear-gradient(90deg,#6c00a8,#7401a8,#7d03a8,#8707a6,#8f0da4,#9613a1,#99159f,#9c179e,#a21d9a,#b22b8f,#ba3388,#b12a90,#a21d9a,#9a169f,#9a169f,#9a169f,#9c179e,#9c179e,#9d189d,#9d189d,#9e199d,#9d189d,#9c179e,#99159f,#9613a1,#910ea3,#8f0da4,#9410a2,#8e0ca4,#8305a7,#7d03a8,#7801a8,#7501a8,#7401a8,#7401a8,#7401a8,#7501a8,#7801a8,#7b02a8,#8004a8,#8104a7,#8104a7,#8104a7)"></i>
<i style="background:linear-gradient(90deg,#6c00a8,#7201a8,#7d03a8,#8606a6,#8e0ca4,#9511a1,#99159f,#9c179e,#a21d9a,#b22b8f,#bb3488,#b02991,#a11b9b,#99159f,#9814a0,#9814a0,#9814a0,#99159f,#9a169f,#9a169f,#9a169f,#9a169f,#99159f,#9613a1,#9410a2,#8f0da4,#8f0da4,#9511a1,#8f0da4,#8405a7,#7d03a8,#7801a8,#7501a8,#7401a8,#7201a8,#7401a8,#7501a8,#7801a8,#7b02a8,#8004a8,#8104a7,#8104a7,#8104a7)"></i>
<i style="background:linear-gradient(90deg,#6c00a8,#7201a8,#7d03a8,#8606a6,#8e0ca4,#9511a1,#9814a0,#9a169f,#a21d9a,#b22b8f,#bb3488,#b02991,#a01a9c,#9814a0,#9613a1,#9511a1,#9511a1,#9613a1,#9613a1,#9613a1,#9814a0,#9814a0,#9613a1,#9511a1,#920fa3,#8f0da4,#8f0da4,#9511a1,#8f0da4,#8405a7,#7d03a8,#7701a8,#7401a8,#7401a8,#7201a8,#7401a8,#7501a8,#7801a8,#7b02a8,#7e03a8,#8004a8,#8004a8,#8004a8)"></i>
<i style="background:linear-gradient(90deg,#6c00a8,#7201a8,#7d03a8,#8606a6,#8d0ba5,#9410a2,#9814a0,#9a169f,#a21d9a,#b22b8f,#bb3488,#b02991,#a01a9c,#9613a1,#9410a2,#920fa3,#920fa3,#920fa3,#9410a2,#9410a2,#9410a2,#9410a2,#9410a2,#920fa3,#8f0da4,#8e0ca4,#8f0da4,#9613a1,#910ea3,#8405a7,#7d03a8,#7701a8,#7401a8,#7401a8,#7201a8,#7401a8,#7501a8,#7701a8,#7b02a8,#7e03a8,#8004a8,#8004a8,#8004a8)"></i>
<i style="background:linear-gradient(90deg,#6c00a8,#7201a8,#7b02a8,#8405a7,#8d0ba5,#920fa3,#9613a1,#9a169f,#a21d9a,#b32c8e,#bb3488,#b02991,#9e199d,#9511a1,#920fa3,#910ea3,#8f0da4,#8f0da4,#8f0da4,#8f0da4,#910ea3,#910ea3,#8f0da4,#8f0da4,#8e0ca4,#8d0ba5,#8f0da4,#9613a1,#910ea3,#8405a7,#7d03a8,#7701a8,#7401a8,#7201a8,#7201a8,#7401a8,#7501a8,#7701a8,#7b02a8,#7e03a8,#8004a8,#8004a8,#8004a8)"></i>
<i style="background:linear-gradient(90deg,#6c00a8,#7201a8,#7b02a8,#8405a7,#8b0aa5,#920fa3,#9613a1,#9a169f,#a21d9a,#b32c8e,#bb3488,#b02991,#9d189d,#9410a2,#8f0da4,#8e0ca4,#8d0ba5,#8b0aa5,#8b0aa5,#8d0ba5,#8d0ba5,#8d0ba5,#8d0ba5,#8d0ba5,#8b0aa5,#8b0aa5,#8f0da4,#9814a0,#920fa3,#8405a7,#7d03a8,#7701a8,#7401a8,#7201a8,#7201a8,#7401a8,#7501a8,#7701a8,#7b02a8,#7e03a8,#8004a8,#8004a8,#8004a8)"></i>
<i style="background:linear-gradient(90deg,#6c00a8,#7201a8,#7b02a8,#8405a7,#8b0aa5,#910ea3,#9511a1,#99159f,#a21d9a,#b32c8e,#bb3488,#ae2892,#9d189d,#920fa3,#8e0ca4,#8b0aa5,#8808a6,#8808a6,#8808a6,#8808a6,#8808a6,#8a09a5,#8a09a5,#8a09a5,#8a09a5,#8b0aa5,#8f0da4,#9814a0,#920fa3,#8606a6,#7d03a8,#7701a8,#7401a8,#7201a8,#7201a8,#7401a8,#7501a8,#7701a8,#7b02a8,#7e03a8,#7e03a8,#8004a8,#8004a8)"></i>
<i style="background:linear-gradient(90deg,#6c00a8,#7201a8,#7b02a8,#8405a7,#8a09a5,#910ea3,#9511a1,#99159f,#a21d9a,#b32c8e,#bb3488,#ae2892,#9c179e,#910ea3,#8b0aa5,#8808a6,#8606a6,#8606a6,#8405a7,#8405a7,#8606a6,#8707a6,#8707a6,#8707a6,#8707a6,#8a09a5,#8f0da4,#99159f,#9410a2,#8606a6,#7d03a8,#7701a8,#7401a8,#7201a8,#7201a8,#7401a8,#7501a8,#7701a8,#7b02a8,#7d03a8,#7e03a8,#7e03a8,#7e03a8)"></i>
<i style="background:linear-gradient(90deg,#6c00a8,#7201a8,#7b02a8,#8405a7,#8a09a5,#8f0da4,#9511a1,#99159f,#a21d9a,#b32c8e,#bb3488,#ae2892,#9c179e,#8f0da4,#8a09a5,#8606a6,#8305a7,#8104a7,#8104a7,#8104a7,#8305a7,#8405a7,#8405a7,#8405a7,#8606a6,#8a09a5,#910ea3,#9a169f,#9410a2,#8606a6,#7d03a8,#7701a8,#7401a8,#7201a8,#7201a8,#7401a8,#7501a8,#7701a8,#7a02a8,#7d03a8,#7e03a8,#7e03a8,#7e03a8)"></i>
<i style="background:linear-gradient(90deg,#6c00a8,#7201a8,#7b02a8,#8405a7,#8a09a5,#8f0da4,#9410a2,#99159f,#a31e9a,#b32c8e,#bb3488,#ae2892,#9a169f,#8f0da4,#8808a6,#8405a7,#8104a7,#8004a8,#7e03a8,#8004a8,#8004a8,#8104a7,#8305a7,#8305a7,#8606a6,#8808a6,#910ea3,#9a169f,#9511a1,#8707a6,#7d03a8,#7701a8,#7401a8,#7201a8,#7201a8,#7401a8,#7501a8,#7801a8,#7b02a8,#7d03a8,#7e03a8,#7e03a8,#7e03a8)"></i>
<i style="background:linear-gradient(90deg,#6e00a8,#7401a8,#7d03a8,#8405a7,#8a09a5,#8f0da4,#9410a2,#99159f,#a31e9a,#b42e8d,#bc3587,#ae2892,#9a169f,#8e0ca4,#8808a6,#8405a7,#8004a8,#7e03a8,#7d03a8,#7e03a8,#7e03a8,#8004a8,#8104a7,#8104a7,#8405a7,#8808a6,#920fa3,#9d189d,#9613a1,#8707a6,#7e03a8,#7701a8,#7401a8,#7401a8,#7401a8,#7401a8,#7501a8,#7801a8,#7b02a8,#7d03a8,#7e03a8,#7e03a8,#7e03a8)"></i>
<i style="background:linear-gradient(90deg,#6e00a8,#7401a8,#7d03a8,#8606a6,#8b0aa5,#910ea3,#9511a1,#99159f,#a31e9a,#b42e8d,#bc3587,#b02991,#9a169f,#8f0da4,#8808a6,#8405a7,#8004a8,#7e03a8,#7d03a8,#7d03a8,#7e03a8,#8004a8,#8104a7,#8305a7,#8405a7,#8a09a5,#9410a2,#9e199d,#9814a0,#8808a6,#8004a8,#7801a8,#7501a8,#7401a8,#7401a8,#7501a8,#7701a8,#7801a8,#7b02a8,#7e03a8,#7e03a8,#7e03a8,#7e03a8)"></i>
<i style="background:linear-gradient(90deg,#6f00a8,#7501a8,#7e03a8,#8707a6,#8d0ba5,#910ea3,#9511a1,#9a169f,#a51f99,#b52f8c,#bd3786,#b02991,#9c179e,#8f0da4,#8a09a5,#8405a7,#8104a7,#8004a8,#7e03a8,#7e03a8,#8004a8,#8104a7,#8104a7,#8305a7,#8606a6,#8b0aa5,#9511a1,#a01a9c,#9a169f,#8a09a5,#8004a8,#7a02a8,#7501a8,#7501a8,#7501a8,#7701a8,#7801a8,#7a02a8,#7d03a8,#7e03a8,#8004a8,#8004a8,#8004a8)"></i>
<i style="background:linear-gradient(90deg,#7100a8,#7701a8,#8004a8,#8808a6,#8e0ca4,#920fa3,#9613a1,#9c179e,#a51f99,#b52f8c,#be3885,#b12a90,#9d189d,#910ea3,#8b0aa5,#8707a6,#8305a7,#8104a7,#8004a8,#8104a7,#8104a7,#8305a7,#8405a7,#8405a7,#8707a6,#8d0ba5,#9613a1,#a21d9a,#9c179e,#8d0ba5,#8305a7,#7b02a8,#7701a8,#7701a8,#7701a8,#7701a8,#7801a8,#7b02a8,#7d03a8,#8004a8,#8004a8,#8004a8,#8004a8)"></i>
<i style="background:linear-gradient(90deg,#7201a8,#7801a8,#8305a7,#8a09a5,#8f0da4,#9410a2,#9814a0,#9c179e,#a62098,#b6308b,#be3885,#b22b8f,#9e199d,#920fa3,#8d0ba5,#8808a6,#8606a6,#8405a7,#8305a7,#8305a7,#8405a7,#8606a6,#8606a6,#8707a6,#8a09a5,#8f0da4,#99159f,#a51f99,#9e199d,#8e0ca4,#8405a7,#7d03a8,#7801a8,#7801a8,#7701a8,#7801a8,#7a02a8,#7b02a8,#7e03a8,#8004a8,#8104a7,#8104a7,#8104a7)"></i>
<i style="background:linear-gradient(90deg,#7401a8,#7b02a8,#8405a7,#8d0ba5,#910ea3,#9511a1,#99159f,#9d189d,#a72197,#b7318a,#bf3984,#b32c8e,#a01a9c,#9410a2,#8f0da4,#8b0aa5,#8808a6,#8707a6,#8606a6,#8606a6,#8707a6,#8808a6,#8808a6,#8a09a5,#8d0ba5,#910ea3,#9c179e,#a72197,#a01a9c,#8f0da4,#8606a6,#7e03a8,#7a02a8,#7a02a8,#7801a8,#7a02a8,#7b02a8,#7d03a8,#8004a8,#8104a7,#8305a7,#8305a7,#8305a7)"></i>
<i style="background:linear-gradient(90deg,#7701a8,#7d03a8,#8707a6,#8e0ca4,#9410a2,#9814a0,#9a169f,#9e199d,#a82296,#b83289,#c03a83,#b42e8d,#a11b9b,#9613a1,#910ea3,#8e0ca4,#8b0aa5,#8a09a5,#8a09a5,#8a09a5,#8a09a5,#8b0aa5,#8b0aa5,#8d0ba5,#8e0ca4,#9410a2,#9d189d,#a82296,#a21d9a,#920fa3,#8707a6,#8004a8,#7b02a8,#7b02a8,#7a02a8,#7b02a8,#7d03a8,#7e03a8,#8104a7,#8305a7,#8305a7,#8305a7,#8305a7)"></i>
<i style="background:linear-gradient(90deg,#7801a8,#7e03a8,#8808a6,#910ea3,#9511a1,#99159f,#9c179e,#a01a9c,#a82296,#ba3388,#c13b82,#b52f8c,#a21d9a,#9814a0,#9410a2,#8f0da4,#8e0ca4,#8d0ba5,#8d0ba5,#8d0ba5,#8d0ba5,#8e0ca4,#8e0ca4,#8f0da4,#910ea3,#9613a1,#a01a9c,#ab2494,#a51f99,#9410a2,#8808a6,#8104a7,#7d03a8,#7d03a8,#7b02a8,#7d03a8,#7e03a8,#8004a8,#8104a7,#8405a7,#8405a7,#8405a7,#8405a7)"></i>
<i style="background:linear-gradient(90deg,#7a02a8,#8104a7,#8a09a5,#920fa3,#9613a1,#9a169f,#9d189d,#a11b9b,#aa2395,#bb3488,#c23c81,#b52f8c,#a31e9a,#99159f,#9511a1,#920fa3,#910ea3,#8f0da4,#8f0da4,#8f0da4,#8f0da4,#910ea3,#910ea3,#910ea3,#9410a2,#9814a0,#a21d9a,#ad2793,#a72197,#9511a1,#8b0aa5,#8305a7,#7e03a8,#7d03a8,#7d03a8,#7e03a8,#8004a8,#8104a7,#8305a7,#8405a7,#8606a6,#8606a6,#8606a6)"></i>
<i style="background:linear-gradient(90deg,#7b02a8,#8305a7,#8d0ba5,#9511a1,#99159f,#9c179e,#9e199d,#a21d9a,#ab2494,#bb3488,#c33d80,#b6308b,#a51f99,#9c179e,#9814a0,#9511a1,#9410a2,#920fa3,#920fa3,#920fa3,#920fa3,#9410a2,#9410a2,#9410a2,#9613a1,#9a169f,#a51f99,#b02991,#a82296,#9814a0,#8d0ba5,#8405a7,#8004a8,#7e03a8,#7e03a8,#8004a8,#8104a7,#8305a7,#8405a7,#8606a6,#8606a6,#8606a6,#8606a6)"></i>
<i style="background:linear-gradient(90deg,#7d03a8,#8405a7,#8e0ca4,#9613a1,#9a169f,#9d189d,#a01a9c,#a21d9a,#ac2694,#bc3587,#c43e7f,#b7318a,#a62098,#9d189d,#99159f,#9613a1,#9511a1,#9511a1,#9511a1,#9511a1,#9511a1,#9511a1,#9511a1,#9613a1,#9814a0,#9c179e,#a62098,#b22b8f,#ab2494,#99159f,#8e0ca4,#8606a6,#8104a7,#8004a8,#8004a8,#8004a8,#8104a7,#8305a7,#8405a7,#8606a6,#8707a6,#8707a6,#8707a6)"></i>
<i style="background:linear-gradient(90deg,#7e03a8,#8606a6,#8f0da4,#9814a0,#9c179e,#9e199d,#a11b9b,#a31e9a,#ac2694,#bd3786,#c5407e,#b83289,#a72197,#9e199d,#9a169f,#99159f,#9814a0,#9613a1,#9613a1,#9613a1,#9613a1,#9814a0,#9814a0,#9814a0,#99159f,#9e199d,#a72197,#b32c8e,#ac2694,#9a169f,#8f0da4,#8707a6,#8305a7,#8104a7,#8004a8,#8104a7,#8305a7,#8405a7,#8606a6,#8707a6,#8707a6,#8707a6,#8707a6)"></i>
<i style="background:linear-gradient(90deg,#7e03a8,#8606a6,#910ea3,#99159f,#9c179e,#9e199d,#a11b9b,#a31e9a,#ad2793,#bd3786,#c5407e,#b83289,#a72197,#9e199d,#9c179e,#9a169f,#99159f,#99159f,#99159f,#99159f,#99159f,#99159f,#99159f,#99159f,#9a169f,#a01a9c,#a82296,#b42e8d,#ad2793,#9c179e,#8f0da4,#8808a6,#8405a7,#8104a7,#8104a7,#8104a7,#8305a7,#8405a7,#8606a6,#8707a6,#8808a6,#8808a6,#8808a6)"></i>
</div>
<div class="s" style="left:238px;top:196px;width:166px">
<i style="background:linear-gradient(90deg,#9613a1,#a51f99,#b6308b,#c13b82,#c33d80,#c23c81,#c13b82,#c23c81,#c5407e,#c9447a,#c7427c,#c13b82,#bc3587,#b83289,#b83289,#ba3388,#bc3587,#be3885,#c03a83,#c03a83,#be3885,#bc3587,#ba3388,#b7318a,#b6308b,#b6308b,#bb3488,#c6417d,#c6417d,#b6308b,#ae2892,#ab2494,#a82296,#a51f99,#a11b9b,#9d189d,#99159f,#9410a2,#8e0ca4,#8606a6,#7d03a8,#7401a8,#6c00a8)"></i>
<i style="background:linear-gradient(90deg,#99159f,#a62098,#b7318a,#c23c81,#c33d80,#c23c81,#c13b82,#c23c81,#c5407e,#c9447a,#c7427c,#c13b82,#bc3587,#b7318a,#b7318a,#ba3388,#bc3587,#be3885,#c03a83,#c03a83,#be3885,#bc3587,#ba3388,#b6308b,#b52f8c,#b52f8c,#ba3388,#c6417d,#c6417d,#b6308b,#ae2892,#ab2494,#a82296,#a51f99,#a11b9b,#9d189d,#99159f,#9410a2,#8d0ba5,#8606a6,#7d03a8,#7401a8,#6c00a8)"></i>
<i style="background:linear-gradient(90deg,#9c179e,#a82296,#b83289,#c23c81,#c33d80,#c23c81,#c13b82,#c23c81,#c5407e,#c9447a,#c7427c,#c13b82,#bc3587,#b7318a,#b7318a,#ba3388,#bc3587,#be3885,#c03a83,#bf3984,#be3885,#bc3587,#b83289,#b52f8c,#b42e8d,#b52f8c,#ba3388,#c5407e,#c5407e,#b6308b,#ae2892,#ab2494,#a72197,#a31e9a,#a01a9c,#9c179e,#9814a0,#9410a2,#8d0ba5,#8606a6,#7d03a8,#7401a8,#6e00a8)"></i>
<i style="background:linear-gradient(90deg,#a01a9c,#ab2494,#ba3388,#c23c81,#c33d80,#c23c81,#c13b82,#c23c81,#c6417d,#ca457a,#c8437b,#c13b82,#bc3587,#b7318a,#b7318a,#ba3388,#bc3587,#be3885,#bf3984,#bf3984,#bd3786,#bb3488,#b7318a,#b42e8d,#b32c8e,#b42e8d,#ba3388,#c5407e,#c5407e,#b6308b,#ad2793,#ab2494,#a72197,#a31e9a,#a01a9c,#9c179e,#9814a0,#920fa3,#8d0ba5,#8606a6,#7d03a8,#7401a8,#6e00a8)"></i>
<i style="background:linear-gradient(90deg,#a51f99,#ae2892,#bb3488,#c33d80,#c33d80,#c23c81,#c23c81,#c23c81,#c6417d,#ca457a,#c8437b,#c23c81,#bc3587,#b7318a,#b7318a,#ba3388,#bb3488,#bd3786,#bf3984,#bf3984,#bd3786,#bb3488,#b7318a,#b32c8e,#b22b8f,#b32c8e,#b83289,#c5407e,#c5407e,#b6308b,#ad2793,#aa2395,#a72197,#a31e9a,#a01a9c,#9a169f,#9613a1,#920fa3,#8b0aa5,#8405a7,#7d03a8,#7401a8,#6e00a8)"></i>
<i style="background:linear-gradient(90deg,#aa2395,#b22b8f,#bd3786,#c33d80,#c33d80,#c23c81,#c23c81,#c33d80,#c6417d,#cb4679,#c9447a,#c23c81,#bc3587,#b7318a,#b6308b,#b83289,#bb3488,#bd3786,#bf3984,#bf3984,#bd3786,#ba3388,#b6308b,#b22b8f,#b02991,#b22b8f,#b7318a,#c43e7f,#c5407e,#b52f8c,#ad2793,#aa2395,#a62098,#a21d9a,#9e199d,#9a169f,#9613a1,#910ea3,#8b0aa5,#8405a7,#7d03a8,#7401a8,#6e00a8)"></i>
<i style="background:linear-gradient(90deg,#b02991,#b52f8c,#bf3984,#c43e7f,#c43e7f,#c23c81,#c23c81,#c33d80,#c7427c,#cc4778,#c9447a,#c23c81,#bb3488,#b6308b,#b6308b,#b83289,#bb3488,#bd3786,#be3885,#be3885,#bc3587,#ba3388,#b52f8c,#b02991,#ae2892,#b12a90,#b7318a,#c43e7f,#c43e7f,#b52f8c,#ac2694,#a82296,#a51f99,#a21d9a,#9e199d,#99159f,#9511a1,#8f0da4,#8a09a5,#8405a7,#7d03a8,#7401a8,#6f00a8)"></i>
<i style="background:linear-gradient(90deg,#b42e8d,#ba3388,#c03a83,#c43e7f,#c43e7f,#c23c81,#c23c81,#c33d80,#c7427c,#cc4778,#ca457a,#c23c81,#bb3488,#b6308b,#b6308b,#b7318a,#ba3388,#bc3587,#be3885,#be3885,#bc3587,#b83289,#b42e8d,#ae2892,#ac2694,#b02991,#b6308b,#c33d80,#c43e7f,#b52f8c,#ac2694,#a82296,#a51f99,#a11b9b,#9d189d,#99159f,#9410a2,#8f0da4,#8a09a5,#8305a7,#7d03a8,#7401a8,#6f00a8)"></i>
<i style="background:linear-gradient(90deg,#ba3388,#bd3786,#c23c81,#c5407e,#c43e7f,#c23c81,#c23c81,#c33d80,#c8437b,#cc4977,#ca457a,#c23c81,#bb3488,#b6308b,#b52f8c,#b7318a,#ba3388,#bc3587,#be3885,#bd3786,#bc3587,#b83289,#b32c8e,#ad2793,#ab2494,#ae2892,#b52f8c,#c33d80,#c43e7f,#b52f8c,#ac2694,#a72197,#a31e9a,#a01a9c,#9c179e,#9814a0,#9410a2,#8e0ca4,#8808a6,#8305a7,#7b02a8,#7401a8,#6f00a8)"></i>
<i style="background:linear-gradient(90deg,#be3885,#c03a83,#c43e7f,#c5407e,#c43e7f,#c23c81,#c23c81,#c33d80,#c8437b,#cd4a76,#cb4679,#c23c81,#bb3488,#b52f8c,#b52f8c,#b7318a,#ba3388,#bc3587,#bd3786,#bd3786,#bb3488,#b7318a,#b22b8f,#ab2494,#a82296,#ac2694,#b52f8c,#c23c81,#c33d80,#b42e8d,#ab2494,#a72197,#a31e9a,#a01a9c,#9c179e,#9613a1,#920fa3,#8d0ba5,#8808a6,#8305a7,#7b02a8,#7501a8,#7100a8)"></i>
<i style="background:linear-gradient(90deg,#c23c81,#c43e7f,#c5407e,#c6417d,#c43e7f,#c23c81,#c23c81,#c33d80,#c8437b,#cd4a76,#cb4679,#c33d80,#bb3488,#b52f8c,#b52f8c,#b6308b,#b83289,#bb3488,#bd3786,#bd3786,#bb3488,#b7318a,#b12a90,#aa2395,#a72197,#ab2494,#b42e8d,#c23c81,#c33d80,#b42e8d,#ab2494,#a62098,#a21d9a,#9e199d,#9a169f,#9613a1,#910ea3,#8d0ba5,#8707a6,#8104a7,#7b02a8,#7501a8,#7100a8)"></i>
<i style="background:linear-gradient(90deg,#c7427c,#c7427c,#c7427c,#c7427c,#c5407e,#c23c81,#c23c81,#c33d80,#c9447a,#ce4b75,#cc4778,#c33d80,#bb3488,#b52f8c,#b42e8d,#b6308b,#b83289,#bb3488,#bd3786,#bc3587,#ba3388,#b6308b,#b02991,#a72197,#a51f99,#aa2395,#b32c8e,#c23c81,#c33d80,#b42e8d,#ab2494,#a62098,#a21d9a,#9e199d,#9a169f,#9511a1,#910ea3,#8b0aa5,#8606a6,#8104a7,#7b02a8,#7501a8,#7100a8)"></i>
<i style="background:linear-gradient(90deg,#cb4679,#ca457a,#c9447a,#c7427c,#c5407e,#c23c81,#c23c81,#c43e7f,#c9447a,#ce4b75,#cc4778,#c33d80,#bb3488,#b52f8c,#b42e8d,#b6308b,#b83289,#bb3488,#bc3587,#bc3587,#ba3388,#b6308b,#ae2892,#a62098,#a21d9a,#a82296,#b22b8f,#c13b82,#c23c81,#b42e8d,#aa2395,#a51f99,#a11b9b,#9d189d,#99159f,#9511a1,#8f0da4,#8a09a5,#8606a6,#8004a8,#7b02a8,#7501a8,#7100a8)"></i>
<i style="background:linear-gradient(90deg,#ce4b75,#cc4977,#ca457a,#c8437b,#c5407e,#c23c81,#c23c81,#c43e7f,#c9447a,#cf4c74,#cc4977,#c33d80,#bb3488,#b42e8d,#b42e8d,#b52f8c,#b7318a,#ba3388,#bc3587,#bc3587,#ba3388,#b52f8c,#ad2793,#a31e9a,#a11b9b,#a72197,#b22b8f,#c13b82,#c23c81,#b32c8e,#aa2395,#a51f99,#a11b9b,#9d189d,#99159f,#9410a2,#8e0ca4,#8a09a5,#8405a7,#8004a8,#7b02a8,#7501a8,#7201a8)"></i>
<i style="background:linear-gradient(90deg,#d24f71,#cf4c74,#cc4778,#c8437b,#c5407e,#c23c81,#c23c81,#c43e7f,#ca457a,#d04d73,#cd4a76,#c33d80,#bb3488,#b42e8d,#b42e8d,#b52f8c,#b7318a,#ba3388,#bc3587,#bb3488,#b83289,#b52f8c,#ac2694,#a21d9a,#9e199d,#a62098,#b12a90,#c03a83,#c23c81,#b32c8e,#aa2395,#a31e9a,#a01a9c,#9c179e,#9814a0,#920fa3,#8e0ca4,#8808a6,#8405a7,#8004a8,#7a02a8,#7501a8,#7201a8)"></i>
<i style="background:linear-gradient(90deg,#d5546e,#d24f71,#cc4977,#c8437b,#c5407e,#c23c81,#c23c81,#c43e7f,#ca457a,#d04d73,#cd4a76,#c43e7f,#bb3488,#b42e8d,#b42e8d,#b6308b,#b83289,#ba3388,#bc3587,#bb3488,#b83289,#b42e8d,#ab2494,#a01a9c,#9d189d,#a51f99,#b02991,#c03a83,#c13b82,#b32c8e,#a82296,#a31e9a,#a01a9c,#9c179e,#9814a0,#920fa3,#8d0ba5,#8707a6,#8305a7,#7e03a8,#7a02a8,#7501a8,#7201a8)"></i>
<i style="background:linear-gradient(90deg,#d8576b,#d45270,#cd4a76,#c8437b,#c5407e,#c23c81,#c13b82,#c43e7f,#cb4679,#d14e72,#ce4b75,#c43e7f,#bb3488,#b52f8c,#b42e8d,#b6308b,#b83289,#ba3388,#bb3488,#bb3488,#b7318a,#b32c8e,#aa2395,#9e199d,#9a169f,#a31e9a,#b02991,#bf3984,#c13b82,#b22b8f,#a82296,#a21d9a,#9e199d,#9a169f,#9613a1,#910ea3,#8b0aa5,#8707a6,#8305a7,#7e03a8,#7a02a8,#7501a8,#7201a8)"></i>
<i style="background:linear-gradient(90deg,#da5b69,#d5546e,#ce4b75,#c8437b,#c43e7f,#c13b82,#c13b82,#c43e7f,#cb4679,#d24f71,#ce4b75,#c43e7f,#bc3587,#b52f8c,#b52f8c,#b7318a,#b83289,#bb3488,#bb3488,#ba3388,#b7318a,#b32c8e,#a82296,#9c179e,#99159f,#a11b9b,#ae2892,#bf3984,#c13b82,#b22b8f,#a72197,#a21d9a,#9e199d,#9a169f,#9613a1,#910ea3,#8b0aa5,#8606a6,#8104a7,#7e03a8,#7a02a8,#7501a8,#7201a8)"></i>
<i style="background:linear-gradient(90deg,#dc5d67,#d7566c,#cf4c74,#c8437b,#c43e7f,#c13b82,#c13b82,#c43e7f,#cb4679,#d24f71,#cf4c74,#c5407e,#bc3587,#b6308b,#b52f8c,#b7318a,#ba3388,#bb3488,#bc3587,#ba3388,#b6308b,#b22b8f,#a72197,#9a169f,#9613a1,#a01a9c,#ae2892,#bf3984,#c03a83,#b22b8f,#a72197,#a11b9b,#9d189d,#99159f,#9511a1,#8f0da4,#8a09a5,#8606a6,#8104a7,#7d03a8,#7a02a8,#7501a8,#7201a8)"></i>
<i style="background:linear-gradient(90deg,#de5f65,#d9586a,#cf4c74,#c8437b,#c43e7f,#c03a83,#c03a83,#c43e7f,#cc4778,#d35171,#cf4c74,#c5407e,#bc3587,#b6308b,#b6308b,#b83289,#bb3488,#bc3587,#bc3587,#ba3388,#b6308b,#b12a90,#a62098,#99159f,#9511a1,#9e199d,#ad2793,#be3885,#c03a83,#b12a90,#a62098,#a11b9b,#9d189d,#99159f,#9511a1,#8f0da4,#8a09a5,#8405a7,#8004a8,#7d03a8,#7801a8,#7501a8,#7201a8)"></i>
<i style="background:linear-gradient(90deg,#df6263,#da5a6a,#d04d73,#c8437b,#c33d80,#c03a83,#c03a83,#c33d80,#cc4778,#d45270,#d04d73,#c5407e,#bd3786,#b7318a,#b7318a,#ba3388,#bc3587,#bc3587,#bc3587,#ba3388,#b52f8c,#b02991,#a31e9a,#9613a1,#9410a2,#9e199d,#ad2793,#be3885,#c03a83,#b12a90,#a62098,#a01a9c,#9c179e,#9814a0,#9410a2,#8e0ca4,#8808a6,#8405a7,#8004a8,#7b02a8,#7801a8,#7501a8,#7201a8)"></i>
<i style="background:linear-gradient(90deg,#e16462,#da5b69,#d14e72,#c8437b,#c33d80,#bf3984,#bf3984,#c33d80,#cc4778,#d45270,#d04d73,#c6417d,#bd3786,#b83289,#b83289,#bb3488,#bd3786,#bd3786,#bc3587,#ba3388,#b52f8c,#ae2892,#a21d9a,#9511a1,#910ea3,#9d189d,#ac2694,#bd3786,#bf3984,#b02991,#a62098,#a01a9c,#9a169f,#9814a0,#9410a2,#8e0ca4,#8808a6,#8305a7,#7e03a8,#7b02a8,#7801a8,#7501a8,#7201a8)"></i>
<i style="background:linear-gradient(90deg,#e26660,#dc5d67,#d14e72,#c8437b,#c23c81,#bf3984,#bf3984,#c33d80,#cc4977,#d5536f,#d14e72,#c6417d,#be3885,#b83289,#b83289,#bc3587,#be3885,#bd3786,#bc3587,#b83289,#b42e8d,#ad2793,#a11b9b,#920fa3,#8f0da4,#9c179e,#ab2494,#bd3786,#bf3984,#b02991,#a51f99,#9e199d,#9a169f,#9613a1,#9410a2,#8e0ca4,#8707a6,#8305a7,#7e03a8,#7b02a8,#7701a8,#7501a8,#7201a8)"></i>
<i style="background:linear-gradient(90deg,#e4695e,#dd5e66,#d24f71,#c8437b,#c23c81,#be3885,#be3885,#c33d80,#cc4977,#d5536f,#d14e72,#c7427c,#be3885,#ba3388,#ba3388,#bd3786,#bf3984,#be3885,#bc3587,#b83289,#b42e8d,#ac2694,#a01a9c,#910ea3,#8d0ba5,#9a169f,#ab2494,#bd3786,#bf3984,#b02991,#a51f99,#9e199d,#99159f,#9613a1,#920fa3,#8d0ba5,#8707a6,#8104a7,#7e03a8,#7a02a8,#7701a8,#7401a8,#7201a8)"></i>
<i style="background:linear-gradient(90deg,#e66c5c,#de6164,#d24f71,#c8437b,#c13b82,#bd3786,#be3885,#c33d80,#cc4977,#d5546e,#d24f71,#c7427c,#bf3984,#bb3488,#bb3488,#be3885,#c03a83,#bf3984,#bd3786,#b83289,#b32c8e,#ab2494,#9e199d,#8e0ca4,#8b0aa5,#99159f,#aa2395,#bc3587,#be3885,#ae2892,#a31e9a,#9d189d,#99159f,#9613a1,#920fa3,#8d0ba5,#8606a6,#8104a7,#7d03a8,#7a02a8,#7701a8,#7401a8,#7201a8)"></i>
<i style="background:linear-gradient(90deg,#e76e5b,#df6263,#d35171,#c8437b,#c13b82,#bd3786,#bd3786,#c33d80,#cd4a76,#d6556d,#d24f71,#c7427c,#bf3984,#bb3488,#bc3587,#bf3984,#c13b82,#bf3984,#bd3786,#b83289,#b22b8f,#aa2395,#9c179e,#8d0ba5,#8a09a5,#9814a0,#aa2395,#bc3587,#be3885,#ae2892,#a31e9a,#9d189d,#9814a0,#9511a1,#910ea3,#8b0aa5,#8606a6,#8004a8,#7d03a8,#7a02a8,#7701a8,#7401a8,#7201a8)"></i>
<i style="background:linear-gradient(90deg,#e87059,#e16462,#d35171,#c7427c,#c13b82,#bc3587,#bd3786,#c33d80,#cd4a76,#d6556d,#d35171,#c8437b,#c03a83,#bc3587,#bd3786,#c03a83,#c23c81,#c03a83,#bd3786,#b83289,#b22b8f,#aa2395,#9a169f,#8a09a5,#8707a6,#9613a1,#a82296,#bc3587,#bd3786,#ae2892,#a21d9a,#9c179e,#9814a0,#9511a1,#910ea3,#8b0aa5,#8405a7,#8004a8,#7b02a8,#7801a8,#7501a8,#7401a8,#7201a8)"></i>
<i style="background:linear-gradient(90deg,#e97257,#e26561,#d45270,#c7427c,#c03a83,#bc3587,#bc3587,#c33d80,#cd4a76,#d7566c,#d35171,#c8437b,#c03a83,#bd3786,#be3885,#c13b82,#c23c81,#c03a83,#bd3786,#b7318a,#b12a90,#a82296,#99159f,#8808a6,#8606a6,#9511a1,#a82296,#bb3488,#bd3786,#ad2793,#a21d9a,#9c179e,#9814a0,#9410a2,#910ea3,#8a09a5,#8405a7,#7e03a8,#7b02a8,#7801a8,#7501a8,#7401a8,#7201a8)"></i>
<i style="background:linear-gradient(90deg,#eb7556,#e26660,#d45270,#c7427c,#c03a83,#bb3488,#bc3587,#c33d80,#cd4a76,#d8576b,#d45270,#c8437b,#c13b82,#bd3786,#be3885,#c23c81,#c33d80,#c13b82,#bd3786,#b7318a,#b12a90,#a72197,#9814a0,#8707a6,#8405a7,#9410a2,#a72197,#bb3488,#bd3786,#ad2793,#a21d9a,#9c179e,#9613a1,#9410a2,#8f0da4,#8a09a5,#8305a7,#7e03a8,#7a02a8,#7801a8,#7501a8,#7401a8,#7201a8)"></i>
<i style="background:linear-gradient(90deg,#eb7655,#e3685f,#d5536f,#c7427c,#c03a83,#bb3488,#bc3587,#c23c81,#ce4b75,#d8576b,#d45270,#c9447a,#c13b82,#bd3786,#bf3984,#c23c81,#c43e7f,#c13b82,#bd3786,#b7318a,#b12a90,#a72197,#9814a0,#8606a6,#8305a7,#9410a2,#a72197,#bb3488,#bd3786,#ad2793,#a11b9b,#9a169f,#9613a1,#9410a2,#8f0da4,#8a09a5,#8305a7,#7e03a8,#7a02a8,#7701a8,#7501a8,#7401a8,#7201a8)"></i>
<i style="background:linear-gradient(90deg,#ec7754,#e3685f,#d5536f,#c7427c,#bf3984,#bb3488,#bb3488,#c23c81,#ce4b75,#d8576b,#d5536f,#c9447a,#c13b82,#be3885,#bf3984,#c33d80,#c43e7f,#c13b82,#bd3786,#b7318a,#b02991,#a62098,#9613a1,#8606a6,#8305a7,#920fa3,#a72197,#bb3488,#bd3786,#ac2694,#a11b9b,#9a169f,#9613a1,#9410a2,#8f0da4,#8a09a5,#8305a7,#7d03a8,#7a02a8,#7701a8,#7501a8,#7401a8,#7201a8)"></i>
</div><div class="s" style="left:452px;top:23px;width:166px">
<i style="background:linear-gradient(90deg,#4e02a2,#4e02a2,#4e02a2,#4e02a2,#4e02a2,#4e02a2,#4e02a2,#4e02a2,#4e02a2,#4e02a2,#4e02a2,#4e02a2,#4e02a2,#4e02a2,#5002a2,#5102a3,#5102a3,#5102a3,#5102a3,#5102a3,#5102a3,#5102a3,#5102a3,#5102a3,#5302a3,#5502a4,#5601a4,#5601a4,#5601a4,#5601a4,#5601a4,#5601a4,#5601a4,#5601a4,#5601a4,#5601a4,#5601a4,#5601a4,#5601a4,#5601a4,#5601a4,#5601a4,#5601a4)"></i>
<i style="background:linear-gradient(90deg,#4e02a2,#4e02a2,#4e02a2,#4e02a2,#4e02a2,#4e02a2,#4e02a2,#4e02a2,#4e02a2,#4e02a2,#4e02a2,#4e02a2,#4e02a2,#4e02a2,#5002a2,#5102a3,#5102a3,#5102a3,#5102a3,#5102a3,#5102a3,#5102a3,#5102a3,#5102a3,#5302a3,#5502a4,#5601a4,#5601a4,#5601a4,#5601a4,#5601a4,#5601a4,#5601a4,#5601a4,#5601a4,#5601a4,#5601a4,#5601a4,#5601a4,#5601a4,#5601a4,#5601a4,#5601a4)"></i>
<i style="background:linear-gradient(90deg,#4e02a2,#4e02a2,#4e02a2,#4e02a2,#4e02a2,#4e02a2,#4e02a2,#4e02a2,#4e02a2,#4e02a2,#4e02a2,#4e02a2,#4e02a2,#4e02a2,#5002a2,#5102a3,#5102a3,#5102a3,#5102a3,#5102a3,#5102a3,#5102a3,#5102a3,#5102a3,#5302a3,#5502a4,#5601a4,#5601a4,#5601a4,#5601a4,#5601a4,#5601a4,#5601a4,#5601a4,#5601a4,#5601a4,#5601a4,#5601a4,#5601a4,#5601a4,#5601a4,#5601a4,#5601a4)"></i>
<i style="background:linear-gradient(90deg,#4e02a2,#4e02a2,#4e02a2,#4e02a2,#4e02a2,#4e02a2,#4e02a2,#4e02a2,#4e02a2,#4e02a2,#4e02a2,#4e02a2,#4e02a2,#4e02a2,#5002a2,#5102a3,#5102a3,#5102a3,#5102a3,#5102a3,#5102a3,#5102a3,#5102a3,#5102a3,#5302a3,#5502a4,#5601a4,#5601a4,#5601a4,#5601a4,#5601a4,#5601a4,#5601a4,#5601a4,#5601a4,#5601a4,#5601a4,#5601a4,#5601a4,#5601a4,#5601a4,#5601a4,#5601a4)"></i>
<i style="background:linear-gradient(90deg,#4e02a2,#4e02a2,#4e02a2,#4e02a2,#4e02a2,#4e02a2,#4e02a2,#4e02a2,#4e02a2,#4e02a2,#4e02a2,#4e02a2,#4e02a2,#4e02a2,#5002a2,#5102a3,#5102a3,#5102a3,#5102a3,#5102a3,#5102a3,#5102a3,#5102a3,#5102a3,#5302a3,#5502a4,#5601a4,#5601a4,#5601a4,#5601a4,#5601a4,#5601a4,#5601a4,#5601a4,#5601a4,#5601a4,#5601a4,#5601a4,#5601a4,#5601a4,#5601a4,#5601a4,#5601a4)"></i>
<i style="background:linear-gradient(90deg,#4e02a2,#4e02a2,#4e02a2,#4e02a2,#4e02a2,#4e02a2,#4e02a2,#4e02a2,#4e02a2,#4e02a2,#4e02a2,#4e02a2,#4e02a2,#4e02a2,#5002a2,#5102a3,#5102a3,#5102a3,#5102a3,#5102a3,#5102a3,#5102a3,#5102a3,#5102a3,#5302a3,#5502a4,#5601a4,#5601a4,#5601a4,#5601a4,#5601a4,#5601a4,#5601a4,#5601a4,#5601a4,#5601a4,#5601a4,#5601a4,#5601a4,#5601a4,#5601a4,#5601a4,#5601a4)"></i>
<i style="background:linear-gradient(90deg,#4e02a2,#4e02a2,#4e02a2,#4e02a2,#4e02a2,#4e02a2,#4e02a2,#4e02a2,#4e02a2,#4e02a2,#4e02a2,#4e02a2,#4e02a2,#4e02a2,#5002a2,#5102a3,#5102a3,#5102a3,#5102a3,#5102a3,#5102a3,#5102a3,#5102a3,#5102a3,#5302a3,#5502a4,#5601a4,#5601a4,#5601a4,#5601a4,#5601a4,#5601a4,#5601a4,#5601a4,#5601a4,#5601a4,#5601a4,#5601a4,#5601a4,#5601a4,#5601a4,#5601a4,#5601a4)"></i>
<i style="background:linear-gradient(90deg,#4e02a2,#4e02a2,#4e02a2,#4e02a2,#4e02a2,#4e02a2,#4e02a2,#4e02a2,#4e02a2,#4e02a2,#4e02a2,#4e02a2,#4e02a2,#4e02a2,#5002a2,#5102a3,#5102a3,#5102a3,#5102a3,#5102a3,#5102a3,#5102a3,#5102a3,#5102a3,#5302a3,#5502a4,#5601a4,#5601a4,#5601a4,#5601a4,#5601a4,#5601a4,#5601a4,#5601a4,#5601a4,#5601a4,#5601a4,#5601a4,#5601a4,#5601a4,#5601a4,#5601a4,#5601a4)"></i>
<i style="background:linear-gradient(90deg,#4e02a2,#4e02a2,#4e02a2,#4e02a2,#4e02a2,#4e02a2,#4e02a2,#4e02a2,#4e02a2,#4e02a2,#4e02a2,#4e02a2,#4e02a2,#4e02a2,#5002a2,#5102a3,#5102a3,#5102a3,#5102a3,#5102a3,#5102a3,#5102a3,#5102a3,#5102a3,#5302a3,#5502a4,#5601a4,#5601a4,#5601a4,#5601a4,#5601a4,#5601a4,#5601a4,#5601a4,#5601a4,#5601a4,#5601a4,#5601a4,#5601a4,#5601a4,#5601a4,#5601a4,#5601a4)"></i>
<i style="background:linear-gradient(90deg,#4e02a2,#4e02a2,#4e02a2,#4e02a2,#4e02a2,#4e02a2,#4e02a2,#4e02a2,#4e02a2,#4e02a2,#4e02a2,#4e02a2,#4e02a2,#4e02a2,#5002a2,#5102a3,#5102a3,#5102a3,#5102a3,#5102a3,#5102a3,#5102a3,#5102a3,#5102a3,#5302a3,#5502a4,#5601a4,#5601a4,#5601a4,#5601a4,#5601a4,#5601a4,#5601a4,#5601a4,#5601a4,#5601a4,#5601a4,#5601a4,#5601a4,#5601a4,#5601a4,#5601a4,#5601a4)"></i>
<i style="background:linear-gradient(90deg,#4e02a2,#4e02a2,#4e02a2,#4e02a2,#4e02a2,#4e02a2,#4e02a2,#4e02a2,#4e02a2,#4e02a2,#4e02a2,#4e02a2,#4e02a2,#4e02a2,#5002a2,#5102a3,#5102a3,#5102a3,#5102a3,#5102a3,#5102a3,#5102a3,#5102a3,#5102a3,#5302a3,#5502a4,#5601a4,#5601a4,#5601a4,#5601a4,#5601a4,#5601a4,#5601a4,#5601a4,#5601a4,#5601a4,#5601a4,#5601a4,#5601a4,#5601a4,#5601a4,#5601a4,#5601a4)"></i>
<i style="background:linear-gradient(90deg,#4e02a2,#4e02a2,#4e02a2,#4e02a2,#4e02a2,#4e02a2,#4e02a2,#4e02a2,#4e02a2,#4e02a2,#4e02a2,#4e02a2,#4e02a2,#4e02a2,#5002a2,#5102a3,#5102a3,#5102a3,#5102a3,#5102a3,#5102a3,#5102a3,#5102a3,#5102a3,#5302a3,#5502a4,#5601a4,#5601a4,#5601a4,#5601a4,#5601a4,#5601a4,#5601a4,#5601a4,#5601a4,#5601a4,#5601a4,#5601a4,#5601a4,#5601a4,#5601a4,#5601a4,#5601a4)"></i>
<i style="background:linear-gradient(90deg,#4e02a2,#4e02a2,#4e02a2,#4e02a2,#4e02a2,#4e02a2,#4e02a2,#4e02a2,#4e02a2,#4e02a2,#4e02a2,#4e02a2,#4e02a2,#4e02a2,#5002a2,#5102a3,#5102a3,#5102a3,#5102a3,#5102a3,#5102a3,#5102a3,#5102a3,#5102a3,#5302a3,#5502a4,#5601a4,#5601a4,#5601a4,#5601a4,#5601a4,#5601a4,#5601a4,#5601a4,#5601a4,#5601a4,#5601a4,#5601a4,#5601a4,#5601a4,#5601a4,#5601a4,#5601a4)"></i>
<i style="background:linear-gradient(90deg,#4e02a2,#4e02a2,#4e02a2,#4e02a2,#4e02a2,#4e02a2,#4e02a2,#4e02a2,#4e02a2,#4e02a2,#4e02a2,#4e02a2,#4e02a2,#4e02a2,#5002a2,#5102a3,#5102a3,#5102a3,#5102a3,#5102a3,#5102a3,#5102a3,#5102a3,#5102a3,#5302a3,#5502a4,#5601a4,#5601a4,#5601a4,#5601a4,#5601a4,#5601a4,#5601a4,#5601a4,#5601a4,#5601a4,#5601a4,#5601a4,#5601a4,#5601a4,#5601a4,#5601a4,#5601a4)"></i>
<i style="background:linear-gradient(90deg,#4e02a2,#4e02a2,#4e02a2,#4e02a2,#4e02a2,#4e02a2,#4e02a2,#4e02a2,#4e02a2,#4e02a2,#4e02a2,#4e02a2,#4e02a2,#4e02a2,#5002a2,#5102a3,#5102a3,#5102a3,#5102a3,#5102a3,#5102a3,#5102a3,#5102a3,#5102a3,#5302a3,#5502a4,#5601a4,#5601a4,#5601a4,#5601a4,#5601a4,#5601a4,#5601a4,#5601a4,#5601a4,#5601a4,#5601a4,#5601a4,#5601a4,#5601a4,#5601a4,#5601a4,#5601a4)"></i>
<i style="background:linear-gradient(90deg,#4e02a2,#4e02a2,#4e02a2,#4e02a2,#4e02a2,#4e02a2,#4e02a2,#4e02a2,#4e02a2,#4e02a2,#4e02a2,#4e02a2,#4e02a2,#4e02a2,#5002a2,#5102a3,#5102a3,#5302a3,#5302a3,#5302a3,#5102a3,#5102a3,#5102a3,#5102a3,#5302a3,#5502a4,#5601a4,#5601a4,#5601a4,#5601a4,#5601a4,#5601a4,#5601a4,#5601a4,#5601a4,#5601a4,#5601a4,#5601a4,#5601a4,#5601a4,#5601a4,#5601a4,#5601a4)"></i>
<i style="background:linear-gradient(90deg,#4e02a2,#4e02a2,#4e02a2,#4e02a2,#4e02a2,#4e02a2,#4e02a2,#4e02a2,#4e02a2,#4e02a2,#4e02a2,#4e02a2,#4e02a2,#4e02a2,#5002a2,#5102a3,#5302a3,#5302a3,#5302a3,#5302a3,#5102a3,#5102a3,#5102a3,#5102a3,#5302a3,#5502a4,#5601a4,#5601a4,#5601a4,#5601a4,#5601a4,#5601a4,#5601a4,#5601a4,#5601a4,#5601a4,#5601a4,#5601a4,#5601a4,#5601a4,#5601a4,#5601a4,#5601a4)"></i>
<i style="background:linear-gradient(90deg,#4e02a2,#4e02a2,#4e02a2,#4e02a2,#4e02a2,#4e02a2,#4e02a2,#4e02a2,#4e02a2,#4e02a2,#4e02a2,#4e02a2,#4e02a2,#4e02a2,#5002a2,#5102a3,#5302a3,#5302a3,#5302a3,#5302a3,#5302a3,#5102a3,#5102a3,#5102a3,#5302a3,#5502a4,#5601a4,#5601a4,#5601a4,#5601a4,#5601a4,#5601a4,#5601a4,#5601a4,#5601a4,#5601a4,#5601a4,#5601a4,#5601a4,#5601a4,#5601a4,#5601a4,#5601a4)"></i>
<i style="background:linear-gradient(90deg,#4e02a2,#4e02a2,#4e02a2,#4e02a2,#4e02a2,#4e02a2,#4e02a2,#4e02a2,#4e02a2,#4e02a2,#4e02a2,#4e02a2,#4e02a2,#5002a2,#5102a3,#5302a3,#5302a3,#5302a3,#5302a3,#5302a3,#5302a3,#5102a3,#5102a3,#5102a3,#5302a3,#5502a4,#5601a4,#5601a4,#5601a4,#5601a4,#5601a4,#5601a4,#5601a4,#5601a4,#5601a4,#5601a4,#5601a4,#5601a4,#5601a4,#5601a4,#5601a4,#5601a4,#5601a4)"></i>
<i style="background:linear-gradient(90deg,#4e02a2,#4e02a2,#4e02a2,#4e02a2,#4e02a2,#4e02a2,#4e02a2,#4e02a2,#4e02a2,#4e02a2,#4e02a2,#4e02a2,#4e02a2,#5002a2,#5102a3,#5302a3,#5502a4,#5502a4,#5502a4,#5302a3,#5302a3,#5102a3,#5102a3,#5102a3,#5302a3,#5502a4,#5601a4,#5601a4,#5601a4,#5601a4,#5601a4,#5601a4,#5601a4,#5601a4,#5601a4,#5601a4,#5601a4,#5601a4,#5601a4,#5601a4,#5601a4,#5601a4,#5601a4)"></i>
<i style="background:linear-gradient(90deg,#4e02a2,#4e02a2,#4e02a2,#4e02a2,#4e02a2,#4e02a2,#4e02a2,#4e02a2,#4e02a2,#4e02a2,#4e02a2,#4e02a2,#5002a2,#5002a2,#5102a3,#5502a4,#5502a4,#5502a4,#5502a4,#5502a4,#5302a3,#5302a3,#5102a3,#5102a3,#5302a3,#5502a4,#5601a4,#5601a4,#5601a4,#5601a4,#5601a4,#5601a4,#5601a4,#5601a4,#5601a4,#5601a4,#5601a4,#5601a4,#5601a4,#5601a4,#5601a4,#5601a4,#5601a4)"></i>
<i style="background:linear-gradient(90deg,#4e02a2,#4e02a2,#4e02a2,#4e02a2,#4e02a2,#4e02a2,#4e02a2,#4e02a2,#4e02a2,#4e02a2,#4e02a2,#4e02a2,#5002a2,#5102a3,#5302a3,#5601a4,#5601a4,#5601a4,#5601a4,#5502a4,#5302a3,#5302a3,#5102a3,#5102a3,#5302a3,#5502a4,#5601a4,#5601a4,#5601a4,#5601a4,#5601a4,#5601a4,#5601a4,#5601a4,#5601a4,#5601a4,#5601a4,#5601a4,#5601a4,#5601a4,#5601a4,#5601a4,#5601a4)"></i>
<i style="background:linear-gradient(90deg,#4e02a2,#4e02a2,#4e02a2,#4e02a2,#4e02a2,#4e02a2,#4e02a2,#4e02a2,#4e02a2,#4e02a2,#4e02a2,#4e02a2,#5002a2,#5302a3,#5502a4,#5801a4,#5901a5,#5901a5,#5801a4,#5601a4,#5502a4,#5302a3,#5102a3,#5102a3,#5302a3,#5502a4,#5601a4,#5601a4,#5601a4,#5601a4,#5601a4,#5601a4,#5601a4,#5601a4,#5601a4,#5601a4,#5601a4,#5601a4,#5601a4,#5601a4,#5601a4,#5601a4,#5601a4)"></i>
<i style="background:linear-gradient(90deg,#4e02a2,#4e02a2,#4e02a2,#4e02a2,#4e02a2,#4e02a2,#4e02a2,#4e02a2,#4e02a2,#4e02a2,#4e02a2,#5002a2,#5102a3,#5502a4,#5801a4,#5b01a5,#5c01a6,#5c01a6,#5901a5,#5801a4,#5502a4,#5302a3,#5102a3,#5102a3,#5302a3,#5502a4,#5601a4,#5601a4,#5601a4,#5601a4,#5601a4,#5601a4,#5601a4,#5601a4,#5601a4,#5601a4,#5601a4,#5601a4,#5601a4,#5601a4,#5601a4,#5601a4,#5601a4)"></i>
<i style="background:linear-gradient(90deg,#4e02a2,#4e02a2,#4e02a2,#4e02a2,#4e02a2,#4e02a2,#4e02a2,#4e02a2,#4e02a2,#4e02a2,#4e02a2,#5002a2,#5302a3,#5601a4,#5b01a5,#6001a6,#6100a7,#6001a6,#5c01a6,#5901a5,#5601a4,#5302a3,#5302a3,#5102a3,#5302a3,#5502a4,#5601a4,#5601a4,#5601a4,#5601a4,#5601a4,#5601a4,#5601a4,#5601a4,#5601a4,#5601a4,#5601a4,#5601a4,#5601a4,#5601a4,#5601a4,#5601a4,#5601a4)"></i>
<i style="background:linear-gradient(90deg,#4e02a2,#4e02a2,#4e02a2,#4e02a2,#4e02a2,#4e02a2,#4e02a2,#4e02a2,#4e02a2,#4e02a2,#4e02a2,#5002a2,#5302a3,#5901a5,#5e01a6,#6400a7,#6600a7,#6400a7,#6100a7,#5b01a5,#5601a4,#5302a3,#5302a3,#5102a3,#5302a3,#5502a4,#5601a4,#5601a4,#5601a4,#5601a4,#5601a4,#5601a4,#5601a4,#5601a4,#5601a4,#5601a4,#5601a4,#5601a4,#5601a4,#5601a4,#5601a4,#5601a4,#5601a4)"></i>
<i style="background:linear-gradient(90deg,#4e02a2,#4e02a2,#4e02a2,#4e02a2,#4e02a2,#4e02a2,#4e02a2,#4e02a2,#4e02a2,#4e02a2,#4e02a2,#5102a3,#5502a4,#5b01a5,#6300a7,#6900a8,#6a00a8,#6900a8,#6400a7,#5e01a6,#5801a4,#5502a4,#5302a3,#5302a3,#5302a3,#5502a4,#5601a4,#5601a4,#5601a4,#5601a4,#5601a4,#5601a4,#5601a4,#5601a4,#5601a4,#5601a4,#5601a4,#5601a4,#5601a4,#5601a4,#5601a4,#5601a4,#5601a4)"></i>
<i style="background:linear-gradient(90deg,#4e02a2,#4e02a2,#4e02a2,#4e02a2,#4e02a2,#4e02a2,#4e02a2,#4e02a2,#4e02a2,#4e02a2,#4e02a2,#5102a3,#5601a4,#5c01a6,#6400a7,#6c00a8,#6f00a8,#6c00a8,#6600a7,#6001a6,#5901a5,#5502a4,#5302a3,#5302a3,#5302a3,#5502a4,#5601a4,#5601a4,#5601a4,#5601a4,#5601a4,#5601a4,#5601a4,#5601a4,#5601a4,#5601a4,#5601a4,#5601a4,#5601a4,#5601a4,#5601a4,#5601a4,#5601a4)"></i>
<i style="background:linear-gradient(90deg,#4e02a2,#4e02a2,#4e02a2,#4e02a2,#4e02a2,#4e02a2,#4e02a2,#4e02a2,#4e02a2,#4e02a2,#4e02a2,#5102a3,#5601a4,#5e01a6,#6600a7,#6e00a8,#7100a8,#6f00a8,#6700a8,#6001a6,#5901a5,#5502a4,#5302a3,#5302a3,#5302a3,#5502a4,#5601a4,#5601a4,#5601a4,#5601a4,#5601a4,#5601a4,#5601a4,#5601a4,#5601a4,#5601a4,#5601a4,#5601a4,#5601a4,#5601a4,#5601a4,#5601a4,#5601a4)"></i>
<i style="background:linear-gradient(90deg,#4e02a2,#4e02a2,#4e02a2,#4e02a2,#4e02a2,#4e02a2,#4e02a2,#4e02a2,#4e02a2,#4e02a2,#4e02a2,#5102a3,#5601a4,#5e01a6,#6700a8,#6e00a8,#7100a8,#6f00a8,#6900a8,#6001a6,#5901a5,#5502a4,#5302a3,#5302a3,#5302a3,#5502a4,#5601a4,#5601a4,#5601a4,#5601a4,#5601a4,#5601a4,#5601a4,#5601a4,#5601a4,#5601a4,#5601a4,#5601a4,#5601a4,#5601a4,#5601a4,#5601a4,#5601a4)"></i>
</div>
<div class="s" style="left:452px;top:54px;width:166px">
<i style="background:linear-gradient(90deg,#5801a4,#5901a5,#5901a5,#5b01a5,#5e01a6,#6001a6,#6100a7,#6100a7,#6300a7,#6600a7,#6a00a8,#7701a8,#8707a6,#9613a1,#a01a9c,#a72197,#ad2793,#b02991,#b12a90,#ae2892,#a82296,#a21d9a,#9c179e,#9511a1,#920fa3,#910ea3,#910ea3,#8d0ba5,#8707a6,#8104a7,#7b02a8,#7501a8,#7100a8,#6e00a8,#6a00a8,#6700a8,#6400a7,#6100a7,#6001a6,#5e01a6,#5c01a6,#5b01a5,#5b01a5)"></i>
<i style="background:linear-gradient(90deg,#5b01a5,#5b01a5,#5c01a6,#5e01a6,#6100a7,#6300a7,#6400a7,#6400a7,#6600a7,#6900a8,#6e00a8,#7801a8,#8808a6,#9814a0,#a21d9a,#aa2395,#b02991,#b22b8f,#b32c8e,#b12a90,#aa2395,#a31e9a,#9d189d,#9613a1,#9410a2,#920fa3,#910ea3,#8e0ca4,#8707a6,#8104a7,#7b02a8,#7501a8,#7100a8,#6e00a8,#6a00a8,#6700a8,#6400a7,#6300a7,#6100a7,#5e01a6,#5c01a6,#5c01a6,#5b01a5)"></i>
<i style="background:linear-gradient(90deg,#5e01a6,#6001a6,#6300a7,#6400a7,#6600a7,#6600a7,#6700a8,#6a00a8,#6c00a8,#6e00a8,#7100a8,#7a02a8,#8a09a5,#9a169f,#a51f99,#ad2793,#b32c8e,#b52f8c,#b6308b,#b32c8e,#ad2793,#a62098,#a01a9c,#99159f,#9511a1,#9511a1,#9410a2,#8f0da4,#8808a6,#8305a7,#7d03a8,#7701a8,#7201a8,#6f00a8,#6a00a8,#6700a8,#6400a7,#6300a7,#6100a7,#6001a6,#5e01a6,#5c01a6,#5b01a5)"></i>
<i style="background:linear-gradient(90deg,#6300a7,#6600a7,#6900a8,#6a00a8,#6c00a8,#6c00a8,#6e00a8,#7100a8,#7201a8,#7401a8,#7501a8,#7e03a8,#8e0ca4,#9d189d,#a82296,#b22b8f,#b7318a,#ba3388,#bb3488,#b6308b,#b02991,#a82296,#a21d9a,#9c179e,#9814a0,#9613a1,#9613a1,#910ea3,#8b0aa5,#8405a7,#7e03a8,#7801a8,#7201a8,#6f00a8,#6c00a8,#6900a8,#6600a7,#6300a7,#6100a7,#6001a6,#5e01a6,#5c01a6,#5b01a5)"></i>
<i style="background:linear-gradient(90deg,#6900a8,#6c00a8,#7100a8,#7401a8,#7201a8,#7201a8,#7501a8,#7801a8,#7a02a8,#7a02a8,#7a02a8,#8305a7,#910ea3,#a11b9b,#ad2793,#b6308b,#bd3786,#bf3984,#bf3984,#bb3488,#b42e8d,#ac2694,#a51f99,#9e199d,#9a169f,#9a169f,#99159f,#9410a2,#8d0ba5,#8606a6,#8004a8,#7a02a8,#7401a8,#7100a8,#6c00a8,#6900a8,#6600a7,#6400a7,#6100a7,#6001a6,#5e01a6,#5c01a6,#5b01a5)"></i>
<i style="background:linear-gradient(90deg,#6f00a8,#7401a8,#7a02a8,#7d03a8,#7b02a8,#7a02a8,#7b02a8,#8004a8,#8305a7,#8104a7,#8004a8,#8606a6,#9410a2,#a51f99,#b22b8f,#bc3587,#c23c81,#c43e7f,#c43e7f,#bf3984,#b7318a,#b02991,#a82296,#a21d9a,#9e199d,#9d189d,#9c179e,#9613a1,#8f0da4,#8808a6,#8104a7,#7b02a8,#7501a8,#7100a8,#6e00a8,#6a00a8,#6700a8,#6400a7,#6300a7,#6001a6,#5e01a6,#5c01a6,#5c01a6)"></i>
<i style="background:linear-gradient(90deg,#7501a8,#7b02a8,#8305a7,#8606a6,#8305a7,#8104a7,#8405a7,#8808a6,#8b0aa5,#8a09a5,#8606a6,#8a09a5,#9814a0,#a82296,#b6308b,#c13b82,#c8437b,#c9447a,#c9447a,#c43e7f,#bc3587,#b42e8d,#ac2694,#a62098,#a11b9b,#a11b9b,#9e199d,#99159f,#920fa3,#8a09a5,#8305a7,#7d03a8,#7701a8,#7201a8,#6e00a8,#6a00a8,#6700a8,#6400a7,#6300a7,#6100a7,#5e01a6,#5e01a6,#5c01a6)"></i>
<i style="background:linear-gradient(90deg,#7b02a8,#8305a7,#8b0aa5,#8f0da4,#8b0aa5,#8808a6,#8b0aa5,#910ea3,#9511a1,#910ea3,#8b0aa5,#8e0ca4,#9a169f,#ac2694,#bb3488,#c7427c,#cd4a76,#ce4b75,#cd4a76,#c8437b,#c03a83,#b7318a,#b02991,#aa2395,#a51f99,#a31e9a,#a21d9a,#9c179e,#9410a2,#8d0ba5,#8606a6,#7e03a8,#7801a8,#7401a8,#6f00a8,#6c00a8,#6900a8,#6600a7,#6300a7,#6100a7,#6001a6,#5e01a6,#5c01a6)"></i>
<i style="background:linear-gradient(90deg,#8104a7,#8a09a5,#9410a2,#9814a0,#9410a2,#8f0da4,#920fa3,#99159f,#9d189d,#9814a0,#910ea3,#920fa3,#9d189d,#b02991,#c03a83,#cc4778,#d24f71,#d35171,#d24f71,#cc4977,#c43e7f,#bb3488,#b32c8e,#ac2694,#a82296,#a72197,#a51f99,#a01a9c,#9613a1,#8e0ca4,#8707a6,#8004a8,#7a02a8,#7401a8,#6f00a8,#6c00a8,#6900a8,#6600a7,#6400a7,#6100a7,#6001a6,#5e01a6,#5c01a6)"></i>
<i style="background:linear-gradient(90deg,#8707a6,#910ea3,#9c179e,#a01a9c,#9a169f,#9613a1,#99159f,#a11b9b,#a51f99,#9e199d,#9613a1,#9511a1,#9e199d,#b22b8f,#c33d80,#d04d73,#d7566c,#d7566c,#d5546e,#d04d73,#c7427c,#be3885,#b6308b,#b02991,#ab2494,#aa2395,#a72197,#a21d9a,#99159f,#8f0da4,#8808a6,#8104a7,#7a02a8,#7501a8,#7100a8,#6e00a8,#6a00a8,#6700a8,#6400a7,#6100a7,#6001a6,#5e01a6,#5e01a6)"></i>
<i style="background:linear-gradient(90deg,#8d0ba5,#9613a1,#a31e9a,#a72197,#a21d9a,#9c179e,#a01a9c,#a82296,#ac2694,#a51f99,#9c179e,#9814a0,#9e199d,#b42e8d,#c7427c,#d45270,#da5b69,#db5c68,#d9586a,#d35171,#ca457a,#c13b82,#ba3388,#b22b8f,#ad2793,#ac2694,#aa2395,#a31e9a,#9a169f,#920fa3,#8a09a5,#8104a7,#7b02a8,#7501a8,#7100a8,#6e00a8,#6a00a8,#6700a8,#6400a7,#6300a7,#6001a6,#5e01a6,#5e01a6)"></i>
<i style="background:linear-gradient(90deg,#920fa3,#9d189d,#aa2395,#ae2892,#a72197,#a11b9b,#a51f99,#ae2892,#b22b8f,#ab2494,#a01a9c,#99159f,#9e199d,#b52f8c,#c9447a,#d6556d,#de5f65,#de5f65,#dc5d67,#d5546e,#cc4977,#c33d80,#bc3587,#b42e8d,#b02991,#ae2892,#ac2694,#a51f99,#9c179e,#920fa3,#8b0aa5,#8305a7,#7b02a8,#7701a8,#7100a8,#6e00a8,#6a00a8,#6700a8,#6400a7,#6300a7,#6001a6,#5e01a6,#5e01a6)"></i>
<i style="background:linear-gradient(90deg,#9814a0,#a21d9a,#b02991,#b32c8e,#ad2793,#a62098,#aa2395,#b32c8e,#b6308b,#b02991,#a31e9a,#9a169f,#9d189d,#b52f8c,#cb4679,#d9586a,#df6263,#df6263,#de5f65,#d7566c,#ce4b75,#c5407e,#bd3786,#b6308b,#b12a90,#b02991,#ad2793,#a62098,#9d189d,#9410a2,#8b0aa5,#8305a7,#7d03a8,#7701a8,#7100a8,#6e00a8,#6a00a8,#6700a8,#6400a7,#6300a7,#6001a6,#5e01a6,#5e01a6)"></i>
<i style="background:linear-gradient(90deg,#9c179e,#a62098,#b32c8e,#b7318a,#b12a90,#ab2494,#ae2892,#b7318a,#bb3488,#b32c8e,#a72197,#9c179e,#9c179e,#b52f8c,#cc4778,#da5a6a,#e16462,#e16462,#de6164,#d8576b,#cf4c74,#c6417d,#be3885,#b6308b,#b22b8f,#b02991,#ad2793,#a72197,#9d189d,#9410a2,#8b0aa5,#8305a7,#7d03a8,#7701a8,#7100a8,#6e00a8,#6a00a8,#6700a8,#6400a7,#6300a7,#6001a6,#5e01a6,#5e01a6)"></i>
<i style="background:linear-gradient(90deg,#a01a9c,#ab2494,#b7318a,#bc3587,#b52f8c,#ae2892,#b22b8f,#bc3587,#bf3984,#b6308b,#aa2395,#9c179e,#9a169f,#b42e8d,#cc4778,#da5b69,#e16462,#e16462,#de6164,#d9586a,#cf4c74,#c6417d,#be3885,#b7318a,#b22b8f,#b12a90,#ad2793,#a72197,#9d189d,#9410a2,#8b0aa5,#8305a7,#7b02a8,#7501a8,#7100a8,#6c00a8,#6900a8,#6700a8,#6400a7,#6100a7,#6001a6,#5e01a6,#5e01a6)"></i>
<i style="background:linear-gradient(90deg,#a51f99,#ae2892,#bb3488,#bf3984,#b83289,#b22b8f,#b6308b,#bf3984,#c23c81,#ba3388,#ac2694,#9d189d,#99159f,#b32c8e,#cc4778,#da5a6a,#e16462,#e16462,#de6164,#d9586a,#cf4c74,#c6417d,#bf3984,#b7318a,#b22b8f,#b02991,#ad2793,#a62098,#9d189d,#920fa3,#8a09a5,#8305a7,#7b02a8,#7501a8,#6f00a8,#6c00a8,#6900a8,#6600a7,#6400a7,#6100a7,#6001a6,#5e01a6,#5c01a6)"></i>
<i style="background:linear-gradient(90deg,#a82296,#b22b8f,#be3885,#c23c81,#bc3587,#b52f8c,#b83289,#c23c81,#c5407e,#bd3786,#ae2892,#9e199d,#9814a0,#b22b8f,#cb4679,#da5a6a,#e16462,#e16462,#de5f65,#d8576b,#cf4c74,#c6417d,#bf3984,#b7318a,#b22b8f,#b02991,#ad2793,#a62098,#9c179e,#920fa3,#8a09a5,#8104a7,#7a02a8,#7401a8,#6f00a8,#6c00a8,#6900a8,#6600a7,#6300a7,#6100a7,#6001a6,#5e01a6,#5c01a6)"></i>
<i style="background:linear-gradient(90deg,#ac2694,#b52f8c,#c13b82,#c5407e,#be3885,#b83289,#bc3587,#c5407e,#c8437b,#bf3984,#b12a90,#a01a9c,#9814a0,#b22b8f,#cb4679,#da5a6a,#e16462,#e06363,#de5f65,#d8576b,#cf4c74,#c6417d,#be3885,#b6308b,#b22b8f,#b02991,#ac2694,#a51f99,#9c179e,#920fa3,#8808a6,#8104a7,#7a02a8,#7401a8,#6e00a8,#6a00a8,#6700a8,#6400a7,#6300a7,#6100a7,#5e01a6,#5c01a6,#5c01a6)"></i>
<i style="background:linear-gradient(90deg,#b02991,#b83289,#c43e7f,#c7427c,#c13b82,#bb3488,#bf3984,#c8437b,#cb4679,#c23c81,#b42e8d,#a21d9a,#99159f,#b12a90,#ca457a,#d9586a,#e06363,#df6263,#dd5e66,#d7566c,#ce4b75,#c6417d,#be3885,#b6308b,#b12a90,#ae2892,#ac2694,#a51f99,#9a169f,#910ea3,#8808a6,#8004a8,#7801a8,#7201a8,#6e00a8,#6a00a8,#6700a8,#6400a7,#6300a7,#6001a6,#5e01a6,#5c01a6,#5c01a6)"></i>
<i style="background:linear-gradient(90deg,#b22b8f,#bb3488,#c6417d,#ca457a,#c33d80,#be3885,#c13b82,#ca457a,#cc4977,#c43e7f,#b52f8c,#a31e9a,#9a169f,#b12a90,#ca457a,#d8576b,#df6263,#de6164,#dc5d67,#d6556d,#ce4b75,#c6417d,#be3885,#b6308b,#b12a90,#ae2892,#ab2494,#a31e9a,#99159f,#8f0da4,#8707a6,#7e03a8,#7801a8,#7201a8,#6c00a8,#6900a8,#6600a7,#6300a7,#6100a7,#6001a6,#5e01a6,#5c01a6,#5b01a5)"></i>
<i style="background:linear-gradient(90deg,#b42e8d,#bd3786,#c8437b,#cb4679,#c5407e,#c03a83,#c33d80,#cc4778,#ce4b75,#c6417d,#b7318a,#a62098,#9d189d,#b22b8f,#c9447a,#d7566c,#de6164,#de5f65,#db5c68,#d5546e,#cd4a76,#c5407e,#bd3786,#b52f8c,#b02991,#ad2793,#aa2395,#a21d9a,#99159f,#8e0ca4,#8606a6,#7e03a8,#7701a8,#7100a8,#6c00a8,#6700a8,#6400a7,#6300a7,#6100a7,#5e01a6,#5c01a6,#5b01a5,#5b01a5)"></i>
<i style="background:linear-gradient(90deg,#b6308b,#bf3984,#c9447a,#cc4977,#c7427c,#c13b82,#c5407e,#cc4977,#cf4c74,#c7427c,#b83289,#a82296,#a01a9c,#b22b8f,#c7427c,#d5546e,#dd5e66,#dc5d67,#da5a6a,#d5536f,#cc4977,#c43e7f,#bc3587,#b42e8d,#ae2892,#ac2694,#a82296,#a11b9b,#9613a1,#8d0ba5,#8405a7,#7d03a8,#7501a8,#6f00a8,#6a00a8,#6700a8,#6400a7,#6100a7,#6001a6,#5e01a6,#5c01a6,#5b01a5,#5901a5)"></i>
<i style="background:linear-gradient(90deg,#b7318a,#c03a83,#ca457a,#cc4977,#c7427c,#c23c81,#c5407e,#cd4a76,#cf4c74,#c7427c,#b83289,#aa2395,#a21d9a,#b22b8f,#c6417d,#d45270,#db5c68,#da5b69,#d8576b,#d35171,#cb4679,#c23c81,#bb3488,#b22b8f,#ac2694,#aa2395,#a62098,#9e199d,#9511a1,#8b0aa5,#8305a7,#7b02a8,#7401a8,#6e00a8,#6900a8,#6600a7,#6300a7,#6001a6,#5e01a6,#5c01a6,#5b01a5,#5901a5,#5901a5)"></i>
<i style="background:linear-gradient(90deg,#b83289,#c03a83,#c9447a,#cc4778,#c7427c,#c23c81,#c5407e,#cc4977,#ce4b75,#c6417d,#b83289,#ab2494,#a51f99,#b12a90,#c43e7f,#d14e72,#d9586a,#d8576b,#d6556d,#d14e72,#c9447a,#c03a83,#b83289,#b02991,#ab2494,#a72197,#a31e9a,#9c179e,#920fa3,#8808a6,#8004a8,#7801a8,#7201a8,#6c00a8,#6700a8,#6400a7,#6100a7,#5e01a6,#5c01a6,#5b01a5,#5b01a5,#5901a5,#5801a4)"></i>
<i style="background:linear-gradient(90deg,#b83289,#bf3984,#c8437b,#cb4679,#c6417d,#c13b82,#c43e7f,#cb4679,#cd4a76,#c5407e,#b7318a,#ab2494,#a62098,#b12a90,#c13b82,#ce4b75,#d5546e,#d5546e,#d45270,#ce4b75,#c6417d,#be3885,#b52f8c,#ad2793,#a72197,#a51f99,#a11b9b,#99159f,#8f0da4,#8606a6,#7e03a8,#7501a8,#6f00a8,#6a00a8,#6600a7,#6300a7,#6001a6,#5e01a6,#5c01a6,#5b01a5,#5901a5,#5801a4,#5801a4)"></i>
<i style="background:linear-gradient(90deg,#b7318a,#be3885,#c7427c,#c9447a,#c43e7f,#c03a83,#c33d80,#ca457a,#cc4778,#c33d80,#b6308b,#ab2494,#a62098,#ae2892,#be3885,#cc4778,#d24f71,#d35171,#d14e72,#cc4778,#c33d80,#bb3488,#b32c8e,#ab2494,#a51f99,#a11b9b,#9d189d,#9613a1,#8d0ba5,#8305a7,#7b02a8,#7401a8,#6e00a8,#6700a8,#6300a7,#6100a7,#5e01a6,#5c01a6,#5b01a5,#5901a5,#5801a4,#5601a4,#5601a4)"></i>
<i style="background:linear-gradient(90deg,#b7318a,#bd3786,#c5407e,#c8437b,#c33d80,#be3885,#c13b82,#c7427c,#c9447a,#c13b82,#b42e8d,#ab2494,#a62098,#ad2793,#bb3488,#c8437b,#ce4b75,#cf4c74,#ce4b75,#c9447a,#c03a83,#b7318a,#b02991,#a72197,#a11b9b,#9e199d,#9a169f,#920fa3,#8808a6,#8004a8,#7801a8,#7100a8,#6a00a8,#6600a7,#6100a7,#5e01a6,#5c01a6,#5b01a5,#5901a5,#5801a4,#5601a4,#5502a4,#5502a4)"></i>
<i style="background:linear-gradient(90deg,#b6308b,#bc3587,#c33d80,#c6417d,#c13b82,#bd3786,#bf3984,#c5407e,#c7427c,#be3885,#b32c8e,#aa2395,#a62098,#ac2694,#b7318a,#c43e7f,#cb4679,#cc4778,#cb4679,#c6417d,#bd3786,#b42e8d,#ac2694,#a51f99,#9e199d,#9a169f,#9613a1,#8e0ca4,#8606a6,#7d03a8,#7501a8,#6e00a8,#6700a8,#6300a7,#6001a6,#5c01a6,#5b01a5,#5901a5,#5801a4,#5601a4,#5502a4,#5502a4,#5302a3)"></i>
<i style="background:linear-gradient(90deg,#b52f8c,#bb3488,#c23c81,#c43e7f,#bf3984,#bc3587,#be3885,#c33d80,#c43e7f,#bc3587,#b12a90,#a82296,#a62098,#aa2395,#b42e8d,#c03a83,#c8437b,#c9447a,#c8437b,#c33d80,#bb3488,#b12a90,#a82296,#a11b9b,#9a169f,#9613a1,#920fa3,#8b0aa5,#8104a7,#7a02a8,#7201a8,#6a00a8,#6600a7,#6100a7,#5e01a6,#5b01a5,#5901a5,#5801a4,#5601a4,#5502a4,#5302a3,#5302a3,#5302a3)"></i>
<i style="background:linear-gradient(90deg,#b42e8d,#ba3388,#c03a83,#c23c81,#be3885,#ba3388,#bc3587,#c13b82,#c23c81,#ba3388,#b02991,#a72197,#a51f99,#a72197,#b22b8f,#bd3786,#c43e7f,#c6417d,#c5407e,#c03a83,#b7318a,#ae2892,#a62098,#9e199d,#9814a0,#9410a2,#8f0da4,#8707a6,#7e03a8,#7501a8,#6f00a8,#6900a8,#6300a7,#6001a6,#5b01a5,#5901a5,#5801a4,#5601a4,#5502a4,#5302a3,#5102a3,#5102a3,#5102a3)"></i>
<i style="background:linear-gradient(90deg,#b42e8d,#b83289,#bf3984,#c03a83,#bc3587,#b83289,#bb3488,#bf3984,#c03a83,#b7318a,#ad2793,#a62098,#a31e9a,#a51f99,#ae2892,#ba3388,#c13b82,#c33d80,#c33d80,#be3885,#b42e8d,#ab2494,#a21d9a,#9a169f,#9511a1,#910ea3,#8d0ba5,#8405a7,#7b02a8,#7401a8,#6c00a8,#6600a7,#6100a7,#5e01a6,#5901a5,#5801a4,#5601a4,#5502a4,#5302a3,#5102a3,#5002a2,#5002a2,#5002a2)"></i>
<i style="background:linear-gradient(90deg,#b32c8e,#b7318a,#bd3786,#bf3984,#bb3488,#b7318a,#ba3388,#be3885,#be3885,#b6308b,#ac2694,#a51f99,#a21d9a,#a31e9a,#ac2694,#b6308b,#be3885,#c03a83,#c13b82,#bc3587,#b22b8f,#a82296,#a11b9b,#99159f,#920fa3,#8e0ca4,#8a09a5,#8305a7,#7a02a8,#7100a8,#6a00a8,#6400a7,#6001a6,#5c01a6,#5901a5,#5601a4,#5502a4,#5302a3,#5102a3,#5002a2,#5002a2,#5002a2,#5002a2)"></i>
<i style="background:linear-gradient(90deg,#b32c8e,#b7318a,#bc3587,#be3885,#ba3388,#b6308b,#b83289,#bd3786,#bd3786,#b52f8c,#ab2494,#a51f99,#a11b9b,#a21d9a,#ab2494,#b52f8c,#bc3587,#be3885,#bf3984,#ba3388,#b12a90,#a72197,#9e199d,#9613a1,#910ea3,#8d0ba5,#8707a6,#8004a8,#7701a8,#6f00a8,#6900a8,#6300a7,#5e01a6,#5b01a5,#5801a4,#5601a4,#5502a4,#5302a3,#5102a3,#5002a2,#4e02a2,#4e02a2,#4e02a2)"></i>
</div>
<div class="s" style="left:452px;top:89px;width:166px">
<i style="background:linear-gradient(90deg,#6e00a8,#7701a8,#8305a7,#8808a6,#8808a6,#8606a6,#7e03a8,#7201a8,#6a00a8,#6c00a8,#6e00a8,#6f00a8,#6e00a8,#6c00a8,#6a00a8,#6900a8,#6e00a8,#7701a8,#8104a7,#8405a7,#8104a7,#7e03a8,#7801a8,#7201a8,#6c00a8,#6300a7,#5c01a6,#5801a4,#5601a4,#5601a4,#5601a4,#5601a4,#5601a4,#5601a4,#5601a4,#5601a4,#5601a4,#5502a4,#5502a4,#5302a3,#5102a3,#5102a3,#5102a3)"></i>
<i style="background:linear-gradient(90deg,#6c00a8,#7501a8,#8104a7,#8707a6,#8606a6,#8405a7,#7b02a8,#7100a8,#6900a8,#6a00a8,#6c00a8,#6e00a8,#6c00a8,#6a00a8,#6900a8,#6700a8,#6c00a8,#7501a8,#7e03a8,#8104a7,#8004a8,#7b02a8,#7701a8,#7100a8,#6a00a8,#6300a7,#5b01a5,#5801a4,#5601a4,#5601a4,#5601a4,#5601a4,#5601a4,#5601a4,#5601a4,#5601a4,#5601a4,#5502a4,#5502a4,#5302a3,#5102a3,#5102a3,#5102a3)"></i>
<i style="background:linear-gradient(90deg,#6a00a8,#7401a8,#7e03a8,#8405a7,#8405a7,#8104a7,#7a02a8,#6f00a8,#6700a8,#6700a8,#6a00a8,#6a00a8,#6900a8,#6700a8,#6700a8,#6600a7,#6900a8,#7201a8,#7b02a8,#7e03a8,#7b02a8,#7801a8,#7401a8,#6f00a8,#6700a8,#6001a6,#5901a5,#5601a4,#5601a4,#5502a4,#5601a4,#5601a4,#5601a4,#5601a4,#5601a4,#5601a4,#5601a4,#5502a4,#5502a4,#5302a3,#5102a3,#5102a3,#5102a3)"></i>
<i style="background:linear-gradient(90deg,#6900a8,#7100a8,#7b02a8,#8104a7,#8004a8,#7d03a8,#7501a8,#6c00a8,#6400a7,#6600a7,#6700a8,#6700a8,#6600a7,#6600a7,#6400a7,#6300a7,#6600a7,#6f00a8,#7801a8,#7a02a8,#7801a8,#7501a8,#7100a8,#6a00a8,#6600a7,#5e01a6,#5801a4,#5502a4,#5502a4,#5502a4,#5502a4,#5601a4,#5601a4,#5601a4,#5601a4,#5601a4,#5601a4,#5502a4,#5502a4,#5302a3,#5102a3,#5102a3,#5102a3)"></i>
<i style="background:linear-gradient(90deg,#6700a8,#6e00a8,#7801a8,#7d03a8,#7b02a8,#7a02a8,#7201a8,#6900a8,#6100a7,#6100a7,#6400a7,#6400a7,#6300a7,#6100a7,#6001a6,#6001a6,#6100a7,#6a00a8,#7201a8,#7501a8,#7401a8,#7100a8,#6c00a8,#6700a8,#6100a7,#5b01a5,#5601a4,#5502a4,#5502a4,#5502a4,#5502a4,#5601a4,#5601a4,#5601a4,#5601a4,#5601a4,#5601a4,#5502a4,#5502a4,#5302a3,#5102a3,#5102a3,#5102a3)"></i>
<i style="background:linear-gradient(90deg,#6600a7,#6c00a8,#7401a8,#7801a8,#7701a8,#7501a8,#6e00a8,#6400a7,#5e01a6,#5e01a6,#6001a6,#6001a6,#6001a6,#5e01a6,#5c01a6,#5b01a5,#5e01a6,#6600a7,#6e00a8,#6f00a8,#6e00a8,#6c00a8,#6700a8,#6300a7,#5e01a6,#5901a5,#5502a4,#5302a3,#5302a3,#5502a4,#5502a4,#5601a4,#5601a4,#5601a4,#5601a4,#5601a4,#5601a4,#5502a4,#5502a4,#5302a3,#5102a3,#5102a3,#5102a3)"></i>
<i style="background:linear-gradient(90deg,#6300a7,#6900a8,#7100a8,#7401a8,#7201a8,#6f00a8,#6900a8,#6100a7,#5b01a5,#5b01a5,#5c01a6,#5c01a6,#5b01a5,#5901a5,#5901a5,#5801a4,#5901a5,#6100a7,#6900a8,#6a00a8,#6900a8,#6600a7,#6300a7,#5e01a6,#5b01a5,#5601a4,#5102a3,#5102a3,#5102a3,#5302a3,#5502a4,#5601a4,#5601a4,#5601a4,#5601a4,#5601a4,#5601a4,#5502a4,#5502a4,#5302a3,#5102a3,#5102a3,#5102a3)"></i>
<i style="background:linear-gradient(90deg,#6100a7,#6600a7,#6c00a8,#6f00a8,#6e00a8,#6a00a8,#6400a7,#5c01a6,#5801a4,#5601a4,#5801a4,#5801a4,#5801a4,#5601a4,#5502a4,#5302a3,#5601a4,#5c01a6,#6300a7,#6400a7,#6300a7,#6100a7,#5e01a6,#5b01a5,#5601a4,#5302a3,#5002a2,#5002a2,#5102a3,#5302a3,#5502a4,#5502a4,#5601a4,#5601a4,#5601a4,#5601a4,#5601a4,#5502a4,#5502a4,#5302a3,#5102a3,#5102a3,#5002a2)"></i>
<i style="background:linear-gradient(90deg,#5e01a6,#6300a7,#6700a8,#6a00a8,#6900a8,#6600a7,#6001a6,#5901a5,#5302a3,#5302a3,#5302a3,#5302a3,#5302a3,#5102a3,#5102a3,#5002a2,#5102a3,#5801a4,#5e01a6,#6001a6,#5e01a6,#5c01a6,#5901a5,#5601a4,#5302a3,#5002a2,#4c02a1,#4e02a2,#5002a2,#5102a3,#5502a4,#5502a4,#5601a4,#5601a4,#5601a4,#5601a4,#5601a4,#5502a4,#5502a4,#5302a3,#5102a3,#5102a3,#5002a2)"></i>
<i style="background:linear-gradient(90deg,#5c01a6,#6001a6,#6400a7,#6600a7,#6400a7,#6100a7,#5c01a6,#5502a4,#5002a2,#5002a2,#5002a2,#5002a2,#4e02a2,#4e02a2,#4c02a1,#4b03a1,#4c02a1,#5302a3,#5801a4,#5901a5,#5801a4,#5601a4,#5502a4,#5102a3,#4e02a2,#4c02a1,#4b03a1,#4c02a1,#5002a2,#5102a3,#5302a3,#5502a4,#5601a4,#5601a4,#5601a4,#5601a4,#5601a4,#5502a4,#5502a4,#5302a3,#5102a3,#5002a2,#5002a2)"></i>
<i style="background:linear-gradient(90deg,#5901a5,#5c01a6,#6001a6,#6100a7,#6001a6,#5c01a6,#5801a4,#5102a3,#4c02a1,#4b03a1,#4b03a1,#4b03a1,#4b03a1,#4903a0,#4903a0,#48039f,#48039f,#4c02a1,#5102a3,#5302a3,#5302a3,#5102a3,#5002a2,#4c02a1,#4b03a1,#4903a0,#4903a0,#4b03a1,#4e02a2,#5102a3,#5302a3,#5502a4,#5601a4,#5601a4,#5601a4,#5601a4,#5601a4,#5502a4,#5502a4,#5302a3,#5102a3,#5002a2,#5002a2)"></i>
<i style="background:linear-gradient(90deg,#5801a4,#5901a5,#5c01a6,#5c01a6,#5b01a5,#5801a4,#5302a3,#4c02a1,#4903a0,#48039f,#48039f,#48039f,#46039f,#46039f,#44039e,#43039e,#44039e,#48039f,#4c02a1,#4e02a2,#4c02a1,#4c02a1,#4b03a1,#48039f,#48039f,#46039f,#46039f,#4903a0,#4c02a1,#5002a2,#5302a3,#5502a4,#5601a4,#5601a4,#5601a4,#5601a4,#5601a4,#5502a4,#5502a4,#5302a3,#5102a3,#5002a2,#5002a2)"></i>
<i style="background:linear-gradient(90deg,#5502a4,#5601a4,#5801a4,#5801a4,#5601a4,#5302a3,#4e02a2,#4903a0,#44039e,#44039e,#43039e,#43039e,#43039e,#41049d,#41049d,#3f049c,#3f049c,#43039e,#48039f,#48039f,#48039f,#46039f,#46039f,#44039e,#43039e,#43039e,#44039e,#48039f,#4c02a1,#5002a2,#5302a3,#5502a4,#5601a4,#5601a4,#5601a4,#5601a4,#5601a4,#5502a4,#5502a4,#5302a3,#5102a3,#5002a2,#5002a2)"></i>
<i style="background:linear-gradient(90deg,#5302a3,#5302a3,#5502a4,#5502a4,#5102a3,#4e02a2,#4903a0,#46039f,#41049d,#41049d,#3f049c,#3f049c,#3f049c,#3e049c,#3c049b,#3c049b,#3c049b,#3f049c,#41049d,#43039e,#43039e,#41049d,#41049d,#3f049c,#3f049c,#41049d,#43039e,#46039f,#4b03a1,#5002a2,#5302a3,#5502a4,#5601a4,#5601a4,#5601a4,#5601a4,#5601a4,#5502a4,#5502a4,#5302a3,#5102a3,#5002a2,#4e02a2)"></i>
<i style="background:linear-gradient(90deg,#5102a3,#5102a3,#5102a3,#5002a2,#4c02a1,#4b03a1,#46039f,#43039e,#3f049c,#3e049c,#3c049b,#3c049b,#3c049b,#3a049a,#3a049a,#38049a,#38049a,#3a049a,#3e049c,#3e049c,#3e049c,#3e049c,#3c049b,#3c049b,#3c049b,#3e049c,#41049d,#44039e,#4b03a1,#5002a2,#5102a3,#5502a4,#5601a4,#5601a4,#5601a4,#5601a4,#5601a4,#5502a4,#5502a4,#5302a3,#5102a3,#5002a2,#4e02a2)"></i>
<i style="background:linear-gradient(90deg,#5002a2,#5002a2,#4e02a2,#4c02a1,#4903a0,#46039f,#43039e,#3f049c,#3c049b,#3a049a,#3a049a,#38049a,#38049a,#38049a,#370499,#350498,#350498,#370499,#38049a,#3a049a,#3a049a,#3a049a,#38049a,#38049a,#3a049a,#3c049b,#3f049c,#44039e,#4903a0,#4e02a2,#5102a3,#5502a4,#5601a4,#5601a4,#5601a4,#5601a4,#5601a4,#5502a4,#5502a4,#5302a3,#5102a3,#5002a2,#4e02a2)"></i>
<i style="background:linear-gradient(90deg,#4e02a2,#4e02a2,#4c02a1,#4b03a1,#48039f,#44039e,#41049d,#3e049c,#3a049a,#38049a,#370499,#370499,#370499,#370499,#350498,#330597,#330597,#350498,#370499,#370499,#370499,#370499,#370499,#370499,#38049a,#3a049a,#3e049c,#43039e,#4903a0,#4e02a2,#5102a3,#5502a4,#5601a4,#5601a4,#5601a4,#5601a4,#5601a4,#5502a4,#5502a4,#5302a3,#5102a3,#5002a2,#4e02a2)"></i>
<i style="background:linear-gradient(90deg,#4e02a2,#4c02a1,#4b03a1,#4903a0,#46039f,#43039e,#3f049c,#3c049b,#3a049a,#38049a,#370499,#350498,#350498,#350498,#330597,#310597,#310597,#330597,#350498,#350498,#350498,#350498,#350498,#350498,#370499,#3a049a,#3e049c,#43039e,#4903a0,#4e02a2,#5102a3,#5502a4,#5601a4,#5601a4,#5601a4,#5601a4,#5601a4,#5502a4,#5502a4,#5302a3,#5102a3,#5002a2,#4e02a2)"></i>
<i style="background:linear-gradient(90deg,#4c02a1,#4c02a1,#4903a0,#48039f,#44039e,#41049d,#3f049c,#3c049b,#38049a,#370499,#370499,#350498,#350498,#350498,#330597,#310597,#310597,#310597,#330597,#330597,#350498,#350498,#350498,#350498,#370499,#38049a,#3e049c,#43039e,#4903a0,#4e02a2,#5102a3,#5502a4,#5601a4,#5601a4,#5601a4,#5601a4,#5601a4,#5502a4,#5502a4,#5302a3,#5102a3,#5002a2,#4e02a2)"></i>
<i style="background:linear-gradient(90deg,#4c02a1,#4b03a1,#4903a0,#46039f,#44039e,#41049d,#3e049c,#3c049b,#38049a,#370499,#370499,#350498,#350498,#330597,#330597,#310597,#2f0596,#310597,#330597,#330597,#330597,#330597,#350498,#350498,#370499,#38049a,#3e049c,#43039e,#4903a0,#5002a2,#5302a3,#5502a4,#5601a4,#5601a4,#5601a4,#5601a4,#5601a4,#5502a4,#5502a4,#5302a3,#5102a3,#5002a2,#4e02a2)"></i>
<i style="background:linear-gradient(90deg,#4c02a1,#4b03a1,#4903a0,#46039f,#43039e,#41049d,#3e049c,#3a049a,#38049a,#370499,#370499,#350498,#350498,#330597,#330597,#310597,#2f0596,#310597,#310597,#330597,#330597,#330597,#330597,#350498,#350498,#38049a,#3e049c,#43039e,#4903a0,#5002a2,#5302a3,#5502a4,#5601a4,#5601a4,#5601a4,#5601a4,#5601a4,#5502a4,#5502a4,#5302a3,#5102a3,#5002a2,#4e02a2)"></i>
<i style="background:linear-gradient(90deg,#4c02a1,#4b03a1,#48039f,#46039f,#43039e,#3f049c,#3e049c,#3a049a,#38049a,#370499,#370499,#350498,#350498,#330597,#330597,#310597,#2f0596,#310597,#310597,#330597,#330597,#330597,#330597,#350498,#350498,#38049a,#3e049c,#43039e,#4903a0,#5002a2,#5302a3,#5502a4,#5601a4,#5601a4,#5601a4,#5601a4,#5601a4,#5502a4,#5502a4,#5302a3,#5102a3,#5002a2,#4e02a2)"></i>
<i style="background:linear-gradient(90deg,#4c02a1,#4b03a1,#48039f,#44039e,#43039e,#3f049c,#3e049c,#3a049a,#38049a,#370499,#370499,#350498,#350498,#330597,#330597,#310597,#2f0596,#310597,#310597,#330597,#330597,#330597,#330597,#350498,#350498,#38049a,#3e049c,#43039e,#4903a0,#5002a2,#5302a3,#5502a4,#5601a4,#5601a4,#5601a4,#5601a4,#5601a4,#5502a4,#5502a4,#5302a3,#5102a3,#5002a2,#4e02a2)"></i>
<i style="background:linear-gradient(90deg,#4c02a1,#4b03a1,#48039f,#44039e,#41049d,#3f049c,#3e049c,#3a049a,#38049a,#370499,#370499,#370499,#350498,#330597,#330597,#310597,#2f0596,#2f0596,#310597,#310597,#330597,#330597,#330597,#350498,#350498,#38049a,#3e049c,#43039e,#4b03a1,#5002a2,#5302a3,#5502a4,#5601a4,#5601a4,#5601a4,#5601a4,#5601a4,#5502a4,#5502a4,#5302a3,#5102a3,#5002a2,#4e02a2)"></i>
<i style="background:linear-gradient(90deg,#4c02a1,#4b03a1,#46039f,#44039e,#41049d,#3f049c,#3c049b,#3a049a,#38049a,#38049a,#370499,#370499,#350498,#330597,#330597,#310597,#2f0596,#2f0596,#310597,#310597,#330597,#330597,#330597,#350498,#350498,#38049a,#3e049c,#43039e,#4b03a1,#5002a2,#5302a3,#5502a4,#5601a4,#5601a4,#5601a4,#5601a4,#5601a4,#5502a4,#5502a4,#5302a3,#5102a3,#5002a2,#4e02a2)"></i>
<i style="background:linear-gradient(90deg,#4c02a1,#4903a0,#46039f,#43039e,#41049d,#3f049c,#3c049b,#3a049a,#38049a,#38049a,#370499,#370499,#350498,#330597,#330597,#310597,#2f0596,#2f0596,#310597,#310597,#330597,#330597,#330597,#350498,#350498,#38049a,#3e049c,#43039e,#4b03a1,#5002a2,#5302a3,#5502a4,#5601a4,#5601a4,#5601a4,#5601a4,#5601a4,#5502a4,#5502a4,#5302a3,#5102a3,#5002a2,#4e02a2)"></i>
<i style="background:linear-gradient(90deg,#4c02a1,#4903a0,#46039f,#43039e,#41049d,#3e049c,#3c049b,#3a049a,#38049a,#38049a,#370499,#370499,#350498,#330597,#330597,#310597,#2f0596,#2f0596,#2f0596,#310597,#330597,#330597,#330597,#350498,#350498,#38049a,#3e049c,#43039e,#4b03a1,#5102a3,#5302a3,#5502a4,#5601a4,#5601a4,#5601a4,#5601a4,#5601a4,#5502a4,#5502a4,#5302a3,#5102a3,#5002a2,#4e02a2)"></i>
<i style="background:linear-gradient(90deg,#4c02a1,#4903a0,#46039f,#43039e,#3f049c,#3e049c,#3c049b,#3a049a,#38049a,#38049a,#38049a,#370499,#350498,#330597,#330597,#310597,#2f0596,#2f0596,#2f0596,#310597,#330597,#330597,#330597,#350498,#350498,#38049a,#3e049c,#43039e,#4b03a1,#5102a3,#5302a3,#5502a4,#5601a4,#5601a4,#5601a4,#5601a4,#5601a4,#5502a4,#5502a4,#5302a3,#5102a3,#5002a2,#4e02a2)"></i>
<i style="background:linear-gradient(90deg,#4c02a1,#4903a0,#44039e,#41049d,#3f049c,#3e049c,#3c049b,#3a049a,#38049a,#38049a,#38049a,#370499,#350498,#330597,#330597,#310597,#2f0596,#2f0596,#2f0596,#310597,#330597,#330597,#330597,#350498,#350498,#38049a,#3e049c,#44039e,#4b03a1,#5102a3,#5302a3,#5502a4,#5601a4,#5601a4,#5601a4,#5601a4,#5601a4,#5502a4,#5502a4,#5302a3,#5102a3,#5002a2,#4e02a2)"></i>
<i style="background:linear-gradient(90deg,#4c02a1,#4903a0,#44039e,#41049d,#3f049c,#3e049c,#3c049b,#3a049a,#38049a,#38049a,#38049a,#370499,#350498,#330597,#330597,#310597,#2f0596,#2f0596,#2f0596,#310597,#330597,#330597,#330597,#350498,#350498,#38049a,#3e049c,#44039e,#4b03a1,#5102a3,#5302a3,#5502a4,#5601a4,#5601a4,#5601a4,#5601a4,#5601a4,#5502a4,#5502a4,#5302a3,#5102a3,#5002a2,#4e02a2)"></i>
<i style="background:linear-gradient(90deg,#4c02a1,#4903a0,#44039e,#41049d,#3f049c,#3e049c,#3c049b,#3a049a,#38049a,#38049a,#38049a,#370499,#350498,#330597,#330597,#310597,#2f0596,#2f0596,#2f0596,#310597,#330597,#330597,#330597,#350498,#350498,#38049a,#3e049c,#44039e,#4b03a1,#5102a3,#5302a3,#5502a4,#5601a4,#5601a4,#5601a4,#5601a4,#5601a4,#5502a4,#5502a4,#5302a3,#5102a3,#5002a2,#4e02a2)"></i>
</div>
<div class="s" style="left:452px;top:141px;width:166px">
<i style="background:linear-gradient(90deg,#5002a2,#5901a5,#6900a8,#7401a8,#7d03a8,#8305a7,#8606a6,#8606a6,#8606a6,#8707a6,#8808a6,#8a09a5,#8d0ba5,#8e0ca4,#8d0ba5,#8b0aa5,#8808a6,#8707a6,#8606a6,#8405a7,#8305a7,#8104a7,#8305a7,#8405a7,#8606a6,#8808a6,#8b0aa5,#8e0ca4,#910ea3,#920fa3,#8e0ca4,#8a09a5,#8606a6,#8104a7,#8004a8,#8305a7,#8808a6,#8a09a5,#8a09a5,#8808a6,#8606a6,#8405a7,#8104a7)"></i>
<i style="background:linear-gradient(90deg,#5002a2,#5901a5,#6900a8,#7401a8,#7d03a8,#8305a7,#8606a6,#8606a6,#8606a6,#8707a6,#8808a6,#8a09a5,#8d0ba5,#8e0ca4,#8d0ba5,#8b0aa5,#8808a6,#8707a6,#8606a6,#8405a7,#8305a7,#8104a7,#8305a7,#8405a7,#8606a6,#8808a6,#8b0aa5,#8e0ca4,#910ea3,#920fa3,#8e0ca4,#8a09a5,#8606a6,#8104a7,#7e03a8,#8305a7,#8707a6,#8a09a5,#8a09a5,#8808a6,#8606a6,#8305a7,#8104a7)"></i>
<i style="background:linear-gradient(90deg,#5002a2,#5901a5,#6900a8,#7401a8,#7d03a8,#8305a7,#8606a6,#8606a6,#8606a6,#8707a6,#8808a6,#8a09a5,#8d0ba5,#8e0ca4,#8d0ba5,#8b0aa5,#8808a6,#8707a6,#8606a6,#8405a7,#8305a7,#8104a7,#8305a7,#8405a7,#8606a6,#8808a6,#8b0aa5,#8e0ca4,#910ea3,#910ea3,#8e0ca4,#8a09a5,#8606a6,#8104a7,#7e03a8,#8104a7,#8707a6,#8808a6,#8808a6,#8707a6,#8606a6,#8305a7,#8104a7)"></i>
<i style="background:linear-gradient(90deg,#5002a2,#5901a5,#6900a8,#7401a8,#7d03a8,#8305a7,#8606a6,#8606a6,#8606a6,#8707a6,#8808a6,#8a09a5,#8d0ba5,#8e0ca4,#8d0ba5,#8b0aa5,#8808a6,#8707a6,#8606a6,#8405a7,#8305a7,#8104a7,#8305a7,#8405a7,#8606a6,#8808a6,#8b0aa5,#8e0ca4,#910ea3,#910ea3,#8e0ca4,#8a09a5,#8405a7,#8004a8,#7d03a8,#8004a8,#8606a6,#8808a6,#8808a6,#8707a6,#8606a6,#8305a7,#8104a7)"></i>
<i style="background:linear-gradient(90deg,#5002a2,#5901a5,#6900a8,#7401a8,#7d03a8,#8305a7,#8606a6,#8606a6,#8606a6,#8707a6,#8808a6,#8a09a5,#8d0ba5,#8e0ca4,#8d0ba5,#8b0aa5,#8808a6,#8707a6,#8405a7,#8305a7,#8104a7,#8104a7,#8305a7,#8405a7,#8606a6,#8808a6,#8b0aa5,#8e0ca4,#910ea3,#910ea3,#8e0ca4,#8808a6,#8405a7,#8004a8,#7d03a8,#8004a8,#8405a7,#8707a6,#8707a6,#8606a6,#8405a7,#8305a7,#8104a7)"></i>
<i style="background:linear-gradient(90deg,#5002a2,#5901a5,#6900a8,#7401a8,#7d03a8,#8305a7,#8606a6,#8606a6,#8606a6,#8707a6,#8808a6,#8a09a5,#8d0ba5,#8e0ca4,#8d0ba5,#8b0aa5,#8808a6,#8707a6,#8405a7,#8305a7,#8104a7,#8104a7,#8104a7,#8305a7,#8606a6,#8808a6,#8b0aa5,#8e0ca4,#910ea3,#910ea3,#8e0ca4,#8808a6,#8405a7,#7e03a8,#7b02a8,#7e03a8,#8305a7,#8606a6,#8606a6,#8606a6,#8405a7,#8104a7,#8104a7)"></i>
<i style="background:linear-gradient(90deg,#5002a2,#5901a5,#6900a8,#7401a8,#7d03a8,#8305a7,#8606a6,#8606a6,#8606a6,#8707a6,#8808a6,#8a09a5,#8d0ba5,#8e0ca4,#8d0ba5,#8b0aa5,#8808a6,#8606a6,#8405a7,#8305a7,#8104a7,#8104a7,#8104a7,#8305a7,#8606a6,#8808a6,#8b0aa5,#8e0ca4,#910ea3,#910ea3,#8d0ba5,#8808a6,#8305a7,#7e03a8,#7a02a8,#7d03a8,#8305a7,#8606a6,#8606a6,#8405a7,#8305a7,#8104a7,#8004a8)"></i>
<i style="background:linear-gradient(90deg,#5002a2,#5901a5,#6900a8,#7401a8,#7d03a8,#8305a7,#8606a6,#8606a6,#8606a6,#8707a6,#8808a6,#8a09a5,#8d0ba5,#8e0ca4,#8d0ba5,#8b0aa5,#8808a6,#8606a6,#8405a7,#8305a7,#8104a7,#8004a8,#8104a7,#8305a7,#8405a7,#8707a6,#8a09a5,#8e0ca4,#910ea3,#910ea3,#8d0ba5,#8707a6,#8305a7,#7d03a8,#7a02a8,#7d03a8,#8104a7,#8405a7,#8405a7,#8405a7,#8305a7,#8104a7,#8004a8)"></i>
<i style="background:linear-gradient(90deg,#5002a2,#5901a5,#6900a8,#7401a8,#7d03a8,#8305a7,#8606a6,#8606a6,#8606a6,#8707a6,#8808a6,#8a09a5,#8d0ba5,#8e0ca4,#8d0ba5,#8b0aa5,#8808a6,#8606a6,#8405a7,#8305a7,#8104a7,#8004a8,#8104a7,#8305a7,#8405a7,#8707a6,#8a09a5,#8d0ba5,#910ea3,#910ea3,#8d0ba5,#8707a6,#8104a7,#7b02a8,#7801a8,#7b02a8,#8004a8,#8305a7,#8305a7,#8305a7,#8305a7,#8104a7,#8004a8)"></i>
<i style="background:linear-gradient(90deg,#5002a2,#5901a5,#6900a8,#7401a8,#7d03a8,#8305a7,#8606a6,#8606a6,#8606a6,#8707a6,#8808a6,#8a09a5,#8d0ba5,#8e0ca4,#8d0ba5,#8b0aa5,#8808a6,#8606a6,#8405a7,#8305a7,#8104a7,#8004a8,#8104a7,#8305a7,#8405a7,#8707a6,#8a09a5,#8d0ba5,#910ea3,#910ea3,#8d0ba5,#8707a6,#8104a7,#7b02a8,#7701a8,#7a02a8,#7e03a8,#8104a7,#8305a7,#8305a7,#8104a7,#8004a8,#8004a8)"></i>
<i style="background:linear-gradient(90deg,#5002a2,#5901a5,#6900a8,#7401a8,#7d03a8,#8305a7,#8606a6,#8606a6,#8606a6,#8707a6,#8808a6,#8a09a5,#8d0ba5,#8e0ca4,#8d0ba5,#8b0aa5,#8808a6,#8606a6,#8405a7,#8104a7,#8004a8,#8004a8,#8004a8,#8104a7,#8405a7,#8707a6,#8a09a5,#8d0ba5,#910ea3,#910ea3,#8d0ba5,#8707a6,#8004a8,#7a02a8,#7701a8,#7801a8,#7d03a8,#8004a8,#8104a7,#8104a7,#8104a7,#8004a8,#8004a8)"></i>
<i style="background:linear-gradient(90deg,#5002a2,#5901a5,#6900a8,#7401a8,#7d03a8,#8305a7,#8606a6,#8606a6,#8606a6,#8707a6,#8808a6,#8a09a5,#8d0ba5,#8e0ca4,#8d0ba5,#8b0aa5,#8808a6,#8606a6,#8305a7,#8104a7,#8004a8,#8004a8,#8004a8,#8104a7,#8405a7,#8707a6,#8a09a5,#8d0ba5,#910ea3,#910ea3,#8d0ba5,#8606a6,#8004a8,#7a02a8,#7501a8,#7801a8,#7d03a8,#8004a8,#8004a8,#8104a7,#8004a8,#8004a8,#7e03a8)"></i>
<i style="background:linear-gradient(90deg,#5002a2,#5901a5,#6900a8,#7401a8,#7d03a8,#8305a7,#8606a6,#8606a6,#8606a6,#8707a6,#8808a6,#8a09a5,#8d0ba5,#8e0ca4,#8d0ba5,#8b0aa5,#8808a6,#8606a6,#8305a7,#8104a7,#8004a8,#8004a8,#8004a8,#8104a7,#8405a7,#8606a6,#8a09a5,#8d0ba5,#910ea3,#910ea3,#8b0aa5,#8606a6,#8004a8,#7801a8,#7401a8,#7701a8,#7b02a8,#7e03a8,#8004a8,#8004a8,#8004a8,#7e03a8,#7e03a8)"></i>
<i style="background:linear-gradient(90deg,#5002a2,#5901a5,#6900a8,#7401a8,#7d03a8,#8305a7,#8606a6,#8606a6,#8606a6,#8707a6,#8808a6,#8a09a5,#8d0ba5,#8e0ca4,#8d0ba5,#8b0aa5,#8808a6,#8606a6,#8305a7,#8104a7,#8004a8,#7e03a8,#8004a8,#8104a7,#8305a7,#8606a6,#8808a6,#8d0ba5,#910ea3,#910ea3,#8b0aa5,#8606a6,#7e03a8,#7801a8,#7401a8,#7501a8,#7a02a8,#7d03a8,#7e03a8,#8004a8,#8004a8,#7e03a8,#7e03a8)"></i>
<i style="background:linear-gradient(90deg,#5002a2,#5901a5,#6900a8,#7401a8,#7d03a8,#8305a7,#8606a6,#8606a6,#8606a6,#8707a6,#8808a6,#8a09a5,#8d0ba5,#8e0ca4,#8d0ba5,#8b0aa5,#8808a6,#8606a6,#8305a7,#8104a7,#8004a8,#7e03a8,#8004a8,#8104a7,#8305a7,#8606a6,#8808a6,#8d0ba5,#8f0da4,#910ea3,#8b0aa5,#8606a6,#7e03a8,#7701a8,#7201a8,#7501a8,#7801a8,#7d03a8,#7d03a8,#7e03a8,#7e03a8,#7e03a8,#7e03a8)"></i>
<i style="background:linear-gradient(90deg,#5002a2,#5901a5,#6900a8,#7401a8,#7d03a8,#8305a7,#8606a6,#8606a6,#8606a6,#8707a6,#8808a6,#8a09a5,#8d0ba5,#8e0ca4,#8d0ba5,#8b0aa5,#8808a6,#8606a6,#8305a7,#8104a7,#8004a8,#7e03a8,#8004a8,#8104a7,#8305a7,#8606a6,#8808a6,#8d0ba5,#8f0da4,#910ea3,#8b0aa5,#8405a7,#7e03a8,#7701a8,#7201a8,#7401a8,#7801a8,#7b02a8,#7d03a8,#7e03a8,#7e03a8,#7e03a8,#7e03a8)"></i>
<i style="background:linear-gradient(90deg,#5002a2,#5901a5,#6900a8,#7401a8,#7d03a8,#8305a7,#8606a6,#8606a6,#8606a6,#8707a6,#8808a6,#8a09a5,#8d0ba5,#8e0ca4,#8d0ba5,#8b0aa5,#8808a6,#8606a6,#8305a7,#8104a7,#8004a8,#7e03a8,#8004a8,#8104a7,#8305a7,#8606a6,#8808a6,#8d0ba5,#8f0da4,#910ea3,#8b0aa5,#8405a7,#7d03a8,#7701a8,#7100a8,#7401a8,#7701a8,#7b02a8,#7d03a8,#7d03a8,#7e03a8,#7e03a8,#7e03a8)"></i>
</div>
<div class="s" style="left:452px;top:160px;width:166px">
<i style="background:linear-gradient(90deg,#5302a3,#5901a5,#6400a7,#6e00a8,#7701a8,#7e03a8,#8104a7,#8405a7,#8606a6,#8808a6,#8a09a5,#8b0aa5,#8a09a5,#8808a6,#8707a6,#8606a6,#8405a7,#8305a7,#8104a7,#8104a7,#8104a7,#8104a7,#8305a7,#8405a7,#8606a6,#8808a6,#8b0aa5,#8e0ca4,#910ea3,#910ea3,#8f0da4,#8d0ba5,#8a09a5,#8707a6,#8606a6,#8305a7,#8104a7,#8004a8,#7e03a8,#7e03a8,#7d03a8,#7d03a8,#7d03a8)"></i>
<i style="background:linear-gradient(90deg,#5302a3,#5b01a5,#6400a7,#6e00a8,#7701a8,#7e03a8,#8104a7,#8305a7,#8606a6,#8707a6,#8a09a5,#8a09a5,#8a09a5,#8808a6,#8707a6,#8606a6,#8405a7,#8305a7,#8104a7,#8104a7,#8104a7,#8104a7,#8305a7,#8405a7,#8606a6,#8808a6,#8b0aa5,#8e0ca4,#8f0da4,#910ea3,#8f0da4,#8d0ba5,#8a09a5,#8707a6,#8405a7,#8305a7,#8104a7,#8004a8,#7e03a8,#7d03a8,#7d03a8,#7d03a8,#7d03a8)"></i>
<i style="background:linear-gradient(90deg,#5502a4,#5b01a5,#6400a7,#6e00a8,#7701a8,#7e03a8,#8104a7,#8305a7,#8405a7,#8707a6,#8a09a5,#8a09a5,#8808a6,#8707a6,#8606a6,#8405a7,#8405a7,#8305a7,#8104a7,#8104a7,#8004a8,#8104a7,#8104a7,#8305a7,#8606a6,#8707a6,#8a09a5,#8d0ba5,#8f0da4,#910ea3,#8e0ca4,#8b0aa5,#8808a6,#8707a6,#8405a7,#8305a7,#8104a7,#8004a8,#7e03a8,#7d03a8,#7d03a8,#7d03a8,#7d03a8)"></i>
<i style="background:linear-gradient(90deg,#5502a4,#5c01a6,#6600a7,#6e00a8,#7701a8,#7d03a8,#8104a7,#8305a7,#8405a7,#8606a6,#8808a6,#8a09a5,#8808a6,#8707a6,#8606a6,#8405a7,#8305a7,#8104a7,#8104a7,#8004a8,#8004a8,#8004a8,#8104a7,#8305a7,#8405a7,#8707a6,#8a09a5,#8d0ba5,#8e0ca4,#8f0da4,#8e0ca4,#8b0aa5,#8808a6,#8606a6,#8405a7,#8104a7,#8004a8,#8004a8,#7e03a8,#7d03a8,#7d03a8,#7d03a8,#7d03a8)"></i>
<i style="background:linear-gradient(90deg,#5601a4,#5c01a6,#6600a7,#6f00a8,#7701a8,#7d03a8,#8004a8,#8104a7,#8305a7,#8606a6,#8808a6,#8808a6,#8707a6,#8707a6,#8606a6,#8405a7,#8305a7,#8104a7,#8004a8,#8004a8,#8004a8,#8004a8,#8104a7,#8305a7,#8405a7,#8606a6,#8808a6,#8b0aa5,#8e0ca4,#8e0ca4,#8d0ba5,#8a09a5,#8707a6,#8606a6,#8305a7,#8104a7,#8004a8,#7e03a8,#7d03a8,#7d03a8,#7b02a8,#7b02a8,#7b02a8)"></i>
<i style="background:linear-gradient(90deg,#5801a4,#5e01a6,#6700a8,#6f00a8,#7701a8,#7d03a8,#8004a8,#8104a7,#8305a7,#8405a7,#8707a6,#8707a6,#8707a6,#8606a6,#8405a7,#8305a7,#8104a7,#8104a7,#8004a8,#8004a8,#8004a8,#8004a8,#8004a8,#8104a7,#8305a7,#8606a6,#8808a6,#8a09a5,#8d0ba5,#8e0ca4,#8b0aa5,#8a09a5,#8707a6,#8405a7,#8305a7,#8104a7,#8004a8,#7e03a8,#7d03a8,#7b02a8,#7b02a8,#7b02a8,#7b02a8)"></i>
<i style="background:linear-gradient(90deg,#5901a5,#6001a6,#6700a8,#6f00a8,#7701a8,#7d03a8,#8004a8,#8004a8,#8104a7,#8405a7,#8606a6,#8707a6,#8606a6,#8606a6,#8405a7,#8305a7,#8104a7,#8004a8,#8004a8,#7e03a8,#7e03a8,#8004a8,#8004a8,#8104a7,#8305a7,#8405a7,#8707a6,#8a09a5,#8b0aa5,#8d0ba5,#8b0aa5,#8808a6,#8606a6,#8405a7,#8104a7,#8004a8,#7e03a8,#7d03a8,#7d03a8,#7b02a8,#7b02a8,#7b02a8,#7b02a8)"></i>
<i style="background:linear-gradient(90deg,#5b01a5,#6001a6,#6700a8,#6f00a8,#7701a8,#7d03a8,#7e03a8,#8004a8,#8104a7,#8305a7,#8606a6,#8606a6,#8606a6,#8405a7,#8305a7,#8104a7,#8004a8,#8004a8,#7e03a8,#7e03a8,#7e03a8,#7e03a8,#8004a8,#8004a8,#8104a7,#8405a7,#8606a6,#8808a6,#8a09a5,#8b0aa5,#8a09a5,#8707a6,#8606a6,#8305a7,#8104a7,#8004a8,#7e03a8,#7d03a8,#7b02a8,#7b02a8,#7a02a8,#7a02a8,#7a02a8)"></i>
<i style="background:linear-gradient(90deg,#5c01a6,#6100a7,#6900a8,#7100a8,#7701a8,#7b02a8,#7e03a8,#8004a8,#8004a8,#8305a7,#8405a7,#8606a6,#8405a7,#8405a7,#8305a7,#8104a7,#8004a8,#7e03a8,#7e03a8,#7e03a8,#7e03a8,#7e03a8,#7e03a8,#8004a8,#8104a7,#8305a7,#8606a6,#8707a6,#8a09a5,#8a09a5,#8808a6,#8707a6,#8405a7,#8305a7,#8004a8,#7e03a8,#7d03a8,#7b02a8,#7b02a8,#7a02a8,#7a02a8,#7a02a8,#7a02a8)"></i>
<i style="background:linear-gradient(90deg,#5c01a6,#6300a7,#6900a8,#7100a8,#7701a8,#7b02a8,#7e03a8,#7e03a8,#8004a8,#8104a7,#8405a7,#8405a7,#8405a7,#8305a7,#8104a7,#8004a8,#8004a8,#7e03a8,#7e03a8,#7d03a8,#7d03a8,#7e03a8,#7e03a8,#7e03a8,#8004a8,#8305a7,#8405a7,#8707a6,#8808a6,#8a09a5,#8707a6,#8606a6,#8405a7,#8104a7,#8004a8,#7e03a8,#7d03a8,#7b02a8,#7a02a8,#7a02a8,#7a02a8,#7a02a8,#7a02a8)"></i>
<i style="background:linear-gradient(90deg,#5e01a6,#6300a7,#6a00a8,#7100a8,#7701a8,#7b02a8,#7d03a8,#7e03a8,#8004a8,#8104a7,#8305a7,#8305a7,#8305a7,#8305a7,#8104a7,#8004a8,#7e03a8,#7e03a8,#7d03a8,#7d03a8,#7d03a8,#7d03a8,#7e03a8,#7e03a8,#8004a8,#8104a7,#8405a7,#8606a6,#8707a6,#8808a6,#8707a6,#8405a7,#8305a7,#8104a7,#7e03a8,#7d03a8,#7b02a8,#7b02a8,#7a02a8,#7a02a8,#7a02a8,#7a02a8,#7a02a8)"></i>
<i style="background:linear-gradient(90deg,#6001a6,#6400a7,#6a00a8,#7100a8,#7701a8,#7b02a8,#7d03a8,#7d03a8,#7e03a8,#8004a8,#8104a7,#8305a7,#8305a7,#8104a7,#8004a8,#7e03a8,#7e03a8,#7d03a8,#7d03a8,#7d03a8,#7d03a8,#7d03a8,#7d03a8,#7e03a8,#7e03a8,#8104a7,#8305a7,#8405a7,#8707a6,#8707a6,#8606a6,#8405a7,#8104a7,#8004a8,#7e03a8,#7d03a8,#7b02a8,#7a02a8,#7a02a8,#7801a8,#7801a8,#7801a8,#7801a8)"></i>
<i style="background:linear-gradient(90deg,#6100a7,#6600a7,#6c00a8,#7100a8,#7701a8,#7a02a8,#7d03a8,#7d03a8,#7e03a8,#8004a8,#8104a7,#8104a7,#8104a7,#8104a7,#8004a8,#7e03a8,#7d03a8,#7d03a8,#7d03a8,#7b02a8,#7b02a8,#7d03a8,#7d03a8,#7d03a8,#7e03a8,#8004a8,#8104a7,#8405a7,#8606a6,#8606a6,#8405a7,#8305a7,#8104a7,#8004a8,#7d03a8,#7b02a8,#7a02a8,#7a02a8,#7801a8,#7801a8,#7801a8,#7801a8,#7801a8)"></i>
<i style="background:linear-gradient(90deg,#6300a7,#6600a7,#6c00a8,#7201a8,#7701a8,#7a02a8,#7b02a8,#7d03a8,#7d03a8,#7e03a8,#8004a8,#8104a7,#8104a7,#8004a8,#7e03a8,#7d03a8,#7d03a8,#7b02a8,#7b02a8,#7b02a8,#7b02a8,#7b02a8,#7b02a8,#7d03a8,#7d03a8,#7e03a8,#8104a7,#8305a7,#8405a7,#8405a7,#8405a7,#8104a7,#8004a8,#7e03a8,#7d03a8,#7b02a8,#7a02a8,#7801a8,#7801a8,#7801a8,#7801a8,#7801a8,#7801a8)"></i>
<i style="background:linear-gradient(90deg,#6400a7,#6700a8,#6e00a8,#7201a8,#7701a8,#7a02a8,#7b02a8,#7b02a8,#7d03a8,#7e03a8,#8004a8,#8004a8,#8004a8,#8004a8,#7e03a8,#7d03a8,#7b02a8,#7b02a8,#7b02a8,#7b02a8,#7b02a8,#7b02a8,#7b02a8,#7b02a8,#7d03a8,#7e03a8,#8004a8,#8104a7,#8305a7,#8405a7,#8305a7,#8104a7,#8004a8,#7d03a8,#7b02a8,#7a02a8,#7801a8,#7801a8,#7701a8,#7701a8,#7701a8,#7701a8,#7701a8)"></i>
<i style="background:linear-gradient(90deg,#6400a7,#6900a8,#6e00a8,#7201a8,#7501a8,#7a02a8,#7a02a8,#7b02a8,#7b02a8,#7d03a8,#7e03a8,#7e03a8,#7e03a8,#7e03a8,#7d03a8,#7b02a8,#7b02a8,#7b02a8,#7a02a8,#7a02a8,#7a02a8,#7a02a8,#7b02a8,#7b02a8,#7b02a8,#7d03a8,#7e03a8,#8104a7,#8305a7,#8305a7,#8104a7,#8004a8,#7e03a8,#7d03a8,#7b02a8,#7a02a8,#7801a8,#7701a8,#7701a8,#7701a8,#7701a8,#7701a8,#7701a8)"></i>
<i style="background:linear-gradient(90deg,#6600a7,#6900a8,#6e00a8,#7201a8,#7501a8,#7801a8,#7a02a8,#7a02a8,#7a02a8,#7b02a8,#7d03a8,#7e03a8,#7e03a8,#7e03a8,#7d03a8,#7b02a8,#7a02a8,#7a02a8,#7a02a8,#7a02a8,#7a02a8,#7a02a8,#7a02a8,#7a02a8,#7b02a8,#7d03a8,#7e03a8,#8004a8,#8104a7,#8104a7,#8004a8,#7e03a8,#7d03a8,#7b02a8,#7a02a8,#7801a8,#7701a8,#7701a8,#7501a8,#7501a8,#7501a8,#7501a8,#7501a8)"></i>
<i style="background:linear-gradient(90deg,#6700a8,#6a00a8,#6e00a8,#7201a8,#7501a8,#7801a8,#7801a8,#7801a8,#7a02a8,#7b02a8,#7d03a8,#7d03a8,#7d03a8,#7d03a8,#7b02a8,#7a02a8,#7a02a8,#7a02a8,#7a02a8,#7a02a8,#7a02a8,#7a02a8,#7a02a8,#7a02a8,#7a02a8,#7b02a8,#7d03a8,#7e03a8,#8004a8,#8004a8,#8004a8,#7e03a8,#7d03a8,#7b02a8,#7a02a8,#7801a8,#7701a8,#7501a8,#7501a8,#7501a8,#7501a8,#7501a8,#7501a8)"></i>
<i style="background:linear-gradient(90deg,#6700a8,#6a00a8,#6f00a8,#7201a8,#7501a8,#7701a8,#7801a8,#7801a8,#7801a8,#7a02a8,#7b02a8,#7b02a8,#7b02a8,#7b02a8,#7b02a8,#7a02a8,#7801a8,#7801a8,#7801a8,#7801a8,#7801a8,#7801a8,#7801a8,#7801a8,#7a02a8,#7a02a8,#7b02a8,#7d03a8,#7e03a8,#8004a8,#7e03a8,#7d03a8,#7b02a8,#7a02a8,#7801a8,#7701a8,#7501a8,#7401a8,#7401a8,#7401a8,#7401a8,#7401a8,#7401a8)"></i>
<i style="background:linear-gradient(90deg,#6900a8,#6a00a8,#6f00a8,#7201a8,#7401a8,#7701a8,#7701a8,#7701a8,#7701a8,#7801a8,#7a02a8,#7a02a8,#7b02a8,#7b02a8,#7a02a8,#7801a8,#7801a8,#7801a8,#7801a8,#7801a8,#7801a8,#7801a8,#7801a8,#7801a8,#7801a8,#7a02a8,#7b02a8,#7d03a8,#7e03a8,#7e03a8,#7d03a8,#7b02a8,#7a02a8,#7801a8,#7701a8,#7501a8,#7401a8,#7201a8,#7201a8,#7201a8,#7201a8,#7201a8,#7201a8)"></i>
<i style="background:linear-gradient(90deg,#6900a8,#6c00a8,#6f00a8,#7100a8,#7401a8,#7501a8,#7501a8,#7501a8,#7501a8,#7701a8,#7801a8,#7a02a8,#7a02a8,#7a02a8,#7801a8,#7801a8,#7701a8,#7701a8,#7701a8,#7701a8,#7701a8,#7701a8,#7701a8,#7701a8,#7701a8,#7801a8,#7a02a8,#7b02a8,#7d03a8,#7d03a8,#7b02a8,#7a02a8,#7801a8,#7701a8,#7501a8,#7401a8,#7201a8,#7100a8,#7100a8,#7100a8,#7100a8,#7100a8,#7100a8)"></i>
<i style="background:linear-gradient(90deg,#6a00a8,#6c00a8,#6e00a8,#7100a8,#7201a8,#7401a8,#7401a8,#7401a8,#7401a8,#7501a8,#7701a8,#7801a8,#7801a8,#7801a8,#7801a8,#7701a8,#7501a8,#7501a8,#7501a8,#7501a8,#7501a8,#7501a8,#7501a8,#7501a8,#7701a8,#7701a8,#7801a8,#7a02a8,#7b02a8,#7b02a8,#7b02a8,#7a02a8,#7801a8,#7701a8,#7501a8,#7201a8,#7100a8,#6f00a8,#6f00a8,#6f00a8,#6f00a8,#6f00a8,#6f00a8)"></i>
<i style="background:linear-gradient(90deg,#6a00a8,#6c00a8,#6e00a8,#7100a8,#7201a8,#7201a8,#7201a8,#7201a8,#7201a8,#7401a8,#7501a8,#7701a8,#7701a8,#7701a8,#7701a8,#7501a8,#7501a8,#7501a8,#7501a8,#7501a8,#7501a8,#7501a8,#7501a8,#7501a8,#7501a8,#7701a8,#7701a8,#7801a8,#7a02a8,#7b02a8,#7a02a8,#7801a8,#7701a8,#7501a8,#7401a8,#7201a8,#6f00a8,#6f00a8,#6e00a8,#6e00a8,#6e00a8,#6e00a8,#6e00a8)"></i>
<i style="background:linear-gradient(90deg,#6a00a8,#6c00a8,#6e00a8,#6f00a8,#7100a8,#7201a8,#7201a8,#7100a8,#7100a8,#7201a8,#7401a8,#7501a8,#7501a8,#7501a8,#7501a8,#7501a8,#7401a8,#7401a8,#7401a8,#7401a8,#7401a8,#7401a8,#7401a8,#7401a8,#7401a8,#7501a8,#7701a8,#7801a8,#7801a8,#7a02a8,#7801a8,#7701a8,#7501a8,#7401a8,#7201a8,#7100a8,#6e00a8,#6e00a8,#6c00a8,#6c00a8,#6c00a8,#6c00a8,#6e00a8)"></i>
<i style="background:linear-gradient(90deg,#6c00a8,#6c00a8,#6e00a8,#6f00a8,#7100a8,#7100a8,#7100a8,#6f00a8,#6f00a8,#7100a8,#7201a8,#7401a8,#7401a8,#7501a8,#7401a8,#7401a8,#7401a8,#7201a8,#7201a8,#7201a8,#7201a8,#7201a8,#7201a8,#7201a8,#7401a8,#7401a8,#7501a8,#7701a8,#7801a8,#7801a8,#7701a8,#7501a8,#7401a8,#7201a8,#7100a8,#6f00a8,#6e00a8,#6c00a8,#6a00a8,#6a00a8,#6a00a8,#6a00a8,#6c00a8)"></i>
<i style="background:linear-gradient(90deg,#6c00a8,#6c00a8,#6e00a8,#6e00a8,#6f00a8,#6f00a8,#6f00a8,#6e00a8,#6e00a8,#6f00a8,#7100a8,#7201a8,#7401a8,#7401a8,#7401a8,#7201a8,#7201a8,#7201a8,#7201a8,#7201a8,#7201a8,#7201a8,#7201a8,#7201a8,#7201a8,#7401a8,#7401a8,#7501a8,#7701a8,#7701a8,#7501a8,#7501a8,#7401a8,#7201a8,#6f00a8,#6e00a8,#6c00a8,#6a00a8,#6900a8,#6900a8,#6900a8,#6900a8,#6a00a8)"></i>
<i style="background:linear-gradient(90deg,#6e00a8,#6e00a8,#6e00a8,#6e00a8,#6e00a8,#6f00a8,#6e00a8,#6c00a8,#6c00a8,#6e00a8,#6f00a8,#7100a8,#7201a8,#7201a8,#7201a8,#7201a8,#7100a8,#7100a8,#7100a8,#7100a8,#7100a8,#7100a8,#7100a8,#7100a8,#7100a8,#7201a8,#7201a8,#7401a8,#7501a8,#7501a8,#7501a8,#7401a8,#7201a8,#7100a8,#6f00a8,#6c00a8,#6a00a8,#6900a8,#6700a8,#6700a8,#6700a8,#6700a8,#6900a8)"></i>
<i style="background:linear-gradient(90deg,#6e00a8,#6e00a8,#6e00a8,#6e00a8,#6e00a8,#6e00a8,#6c00a8,#6a00a8,#6900a8,#6c00a8,#6e00a8,#6f00a8,#7100a8,#7100a8,#7100a8,#7100a8,#7100a8,#7100a8,#7100a8,#7100a8,#7100a8,#7100a8,#7100a8,#7100a8,#7100a8,#7100a8,#7201a8,#7201a8,#7401a8,#7501a8,#7401a8,#7201a8,#7100a8,#6f00a8,#6e00a8,#6a00a8,#6900a8,#6700a8,#6600a7,#6600a7,#6600a7,#6600a7,#6700a8)"></i>
<i style="background:linear-gradient(90deg,#6e00a8,#6e00a8,#6e00a8,#6c00a8,#6c00a8,#6c00a8,#6a00a8,#6900a8,#6700a8,#6a00a8,#6c00a8,#6e00a8,#6f00a8,#7100a8,#6f00a8,#6f00a8,#6f00a8,#6f00a8,#6f00a8,#6f00a8,#6f00a8,#6f00a8,#6f00a8,#6f00a8,#6f00a8,#6f00a8,#7100a8,#7201a8,#7401a8,#7401a8,#7201a8,#7100a8,#6f00a8,#6e00a8,#6c00a8,#6a00a8,#6700a8,#6600a7,#6400a7,#6400a7,#6400a7,#6400a7,#6600a7)"></i>
<i style="background:linear-gradient(90deg,#6f00a8,#6e00a8,#6c00a8,#6c00a8,#6c00a8,#6a00a8,#6900a8,#6700a8,#6600a7,#6900a8,#6a00a8,#6c00a8,#6e00a8,#6f00a8,#6f00a8,#6f00a8,#6e00a8,#6e00a8,#6e00a8,#6e00a8,#6e00a8,#6e00a8,#6e00a8,#6e00a8,#6e00a8,#6f00a8,#6f00a8,#7100a8,#7201a8,#7201a8,#7100a8,#6f00a8,#6e00a8,#6c00a8,#6a00a8,#6900a8,#6600a7,#6400a7,#6300a7,#6100a7,#6300a7,#6300a7,#6400a7)"></i>
<i style="background:linear-gradient(90deg,#6f00a8,#6e00a8,#6c00a8,#6c00a8,#6a00a8,#6a00a8,#6700a8,#6600a7,#6400a7,#6700a8,#6900a8,#6c00a8,#6c00a8,#6e00a8,#6e00a8,#6e00a8,#6e00a8,#6e00a8,#6e00a8,#6e00a8,#6e00a8,#6e00a8,#6e00a8,#6e00a8,#6e00a8,#6e00a8,#6e00a8,#6f00a8,#7100a8,#7100a8,#7100a8,#6f00a8,#6e00a8,#6c00a8,#6a00a8,#6700a8,#6400a7,#6300a7,#6100a7,#6001a6,#6100a7,#6100a7,#6300a7)"></i>
<i style="background:linear-gradient(90deg,#6f00a8,#6e00a8,#6c00a8,#6a00a8,#6a00a8,#6900a8,#6700a8,#6400a7,#6300a7,#6600a7,#6700a8,#6a00a8,#6c00a8,#6c00a8,#6c00a8,#6c00a8,#6c00a8,#6c00a8,#6c00a8,#6c00a8,#6c00a8,#6c00a8,#6c00a8,#6c00a8,#6c00a8,#6c00a8,#6e00a8,#6e00a8,#6f00a8,#7100a8,#6f00a8,#6e00a8,#6c00a8,#6a00a8,#6900a8,#6600a7,#6300a7,#6100a7,#6001a6,#5e01a6,#6001a6,#6100a7,#6100a7)"></i>
<i style="background:linear-gradient(90deg,#7100a8,#6f00a8,#6c00a8,#6a00a8,#6900a8,#6700a8,#6600a7,#6300a7,#6300a7,#6400a7,#6700a8,#6900a8,#6a00a8,#6c00a8,#6c00a8,#6c00a8,#6c00a8,#6c00a8,#6c00a8,#6c00a8,#6c00a8,#6c00a8,#6c00a8,#6c00a8,#6c00a8,#6c00a8,#6c00a8,#6e00a8,#6f00a8,#6f00a8,#6e00a8,#6c00a8,#6a00a8,#6900a8,#6700a8,#6600a7,#6300a7,#6001a6,#5e01a6,#5e01a6,#5e01a6,#6001a6,#6001a6)"></i>
<i style="background:linear-gradient(90deg,#7100a8,#6f00a8,#6c00a8,#6a00a8,#6900a8,#6700a8,#6400a7,#6300a7,#6100a7,#6300a7,#6600a7,#6900a8,#6900a8,#6a00a8,#6a00a8,#6a00a8,#6a00a8,#6a00a8,#6a00a8,#6a00a8,#6a00a8,#6a00a8,#6a00a8,#6a00a8,#6a00a8,#6a00a8,#6c00a8,#6c00a8,#6e00a8,#6f00a8,#6e00a8,#6c00a8,#6a00a8,#6900a8,#6700a8,#6400a7,#6100a7,#6001a6,#5e01a6,#5c01a6,#5c01a6,#5e01a6,#6001a6)"></i>
<i style="background:linear-gradient(90deg,#7100a8,#6f00a8,#6c00a8,#6a00a8,#6900a8,#6700a8,#6400a7,#6100a7,#6100a7,#6300a7,#6600a7,#6700a8,#6900a8,#6a00a8,#6a00a8,#6a00a8,#6a00a8,#6a00a8,#6a00a8,#6a00a8,#6a00a8,#6a00a8,#6a00a8,#6a00a8,#6a00a8,#6a00a8,#6a00a8,#6c00a8,#6e00a8,#6e00a8,#6c00a8,#6c00a8,#6a00a8,#6900a8,#6600a7,#6400a7,#6100a7,#5e01a6,#5c01a6,#5c01a6,#5c01a6,#5e01a6,#5e01a6)"></i>
</div>
<div class="s" style="left:452px;top:196px;width:166px">
<i style="background:linear-gradient(90deg,#6900a8,#6900a8,#6700a8,#6600a7,#6400a7,#6300a7,#6300a7,#6300a7,#6300a7,#6300a7,#6300a7,#6300a7,#6300a7,#6300a7,#6300a7,#6300a7,#6300a7,#6300a7,#6300a7,#6100a7,#6100a7,#6100a7,#6001a6,#6001a6,#5e01a6,#5e01a6,#5e01a6,#5e01a6,#5e01a6,#5c01a6,#5b01a5,#5901a5,#5801a4,#5801a4,#5601a4,#5601a4,#5601a4,#5502a4,#5302a3,#5102a3,#5002a2,#4c02a1,#4b03a1)"></i>
<i style="background:linear-gradient(90deg,#6900a8,#6900a8,#6700a8,#6600a7,#6400a7,#6300a7,#6100a7,#6100a7,#6100a7,#6100a7,#6100a7,#6100a7,#6100a7,#6100a7,#6100a7,#6100a7,#6100a7,#6100a7,#6100a7,#6100a7,#6100a7,#6100a7,#6001a6,#5e01a6,#5e01a6,#5e01a6,#5e01a6,#5e01a6,#5c01a6,#5c01a6,#5b01a5,#5901a5,#5801a4,#5601a4,#5502a4,#5502a4,#5502a4,#5502a4,#5302a3,#5102a3,#5002a2,#4c02a1,#4903a0)"></i>
<i style="background:linear-gradient(90deg,#6900a8,#6700a8,#6700a8,#6600a7,#6400a7,#6300a7,#6100a7,#6100a7,#6100a7,#6100a7,#6100a7,#6100a7,#6100a7,#6100a7,#6100a7,#6100a7,#6100a7,#6100a7,#6100a7,#6100a7,#6100a7,#6100a7,#6001a6,#5e01a6,#5e01a6,#5e01a6,#5e01a6,#5c01a6,#5c01a6,#5b01a5,#5b01a5,#5801a4,#5801a4,#5601a4,#5502a4,#5502a4,#5502a4,#5502a4,#5302a3,#5102a3,#5002a2,#4c02a1,#4903a0)"></i>
<i style="background:linear-gradient(90deg,#6900a8,#6700a8,#6600a7,#6400a7,#6300a7,#6300a7,#6100a7,#6100a7,#6100a7,#6100a7,#6100a7,#6100a7,#6100a7,#6100a7,#6100a7,#6100a7,#6100a7,#6100a7,#6100a7,#6100a7,#6100a7,#6100a7,#6001a6,#5e01a6,#5e01a6,#5c01a6,#5c01a6,#5c01a6,#5b01a5,#5b01a5,#5901a5,#5801a4,#5601a4,#5502a4,#5302a3,#5302a3,#5302a3,#5302a3,#5302a3,#5102a3,#4e02a2,#4b03a1,#4903a0)"></i>
<i style="background:linear-gradient(90deg,#6900a8,#6700a8,#6600a7,#6400a7,#6300a7,#6100a7,#6100a7,#6100a7,#6100a7,#6100a7,#6100a7,#6100a7,#6100a7,#6100a7,#6100a7,#6100a7,#6100a7,#6100a7,#6100a7,#6100a7,#6100a7,#6001a6,#6001a6,#5e01a6,#5c01a6,#5c01a6,#5c01a6,#5b01a5,#5b01a5,#5901a5,#5801a4,#5601a4,#5502a4,#5302a3,#5102a3,#5102a3,#5302a3,#5302a3,#5102a3,#5102a3,#4e02a2,#4b03a1,#4903a0)"></i>
<i style="background:linear-gradient(90deg,#6900a8,#6700a8,#6600a7,#6400a7,#6300a7,#6100a7,#6100a7,#6100a7,#6100a7,#6100a7,#6100a7,#6100a7,#6100a7,#6100a7,#6100a7,#6100a7,#6100a7,#6100a7,#6100a7,#6100a7,#6001a6,#6001a6,#5e01a6,#5e01a6,#5c01a6,#5c01a6,#5c01a6,#5b01a5,#5901a5,#5801a4,#5601a4,#5502a4,#5302a3,#5102a3,#5102a3,#5102a3,#5102a3,#5102a3,#5102a3,#5002a2,#4e02a2,#4b03a1,#48039f)"></i>
<i style="background:linear-gradient(90deg,#6700a8,#6700a8,#6600a7,#6400a7,#6300a7,#6100a7,#6100a7,#6100a7,#6100a7,#6100a7,#6100a7,#6100a7,#6100a7,#6100a7,#6100a7,#6100a7,#6100a7,#6100a7,#6100a7,#6001a6,#6001a6,#6001a6,#5e01a6,#5e01a6,#5c01a6,#5c01a6,#5b01a5,#5901a5,#5801a4,#5601a4,#5502a4,#5302a3,#5102a3,#5002a2,#5002a2,#5002a2,#5002a2,#5002a2,#5002a2,#5002a2,#4e02a2,#4903a0,#48039f)"></i>
<i style="background:linear-gradient(90deg,#6700a8,#6700a8,#6600a7,#6400a7,#6300a7,#6100a7,#6100a7,#6100a7,#6100a7,#6100a7,#6100a7,#6100a7,#6100a7,#6100a7,#6100a7,#6100a7,#6100a7,#6100a7,#6001a6,#6001a6,#6001a6,#5e01a6,#5e01a6,#5c01a6,#5c01a6,#5b01a5,#5b01a5,#5901a5,#5801a4,#5502a4,#5302a3,#5102a3,#5002a2,#4e02a2,#4e02a2,#4e02a2,#4e02a2,#5002a2,#5002a2,#5002a2,#4c02a1,#4903a0,#48039f)"></i>
<i style="background:linear-gradient(90deg,#6700a8,#6600a7,#6400a7,#6400a7,#6300a7,#6100a7,#6001a6,#6001a6,#6001a6,#6001a6,#6001a6,#6001a6,#6001a6,#6001a6,#6001a6,#6001a6,#6001a6,#6001a6,#6001a6,#6001a6,#6001a6,#5e01a6,#5e01a6,#5c01a6,#5c01a6,#5b01a5,#5901a5,#5801a4,#5601a4,#5302a3,#5102a3,#5002a2,#4e02a2,#4c02a1,#4c02a1,#4c02a1,#4e02a2,#4e02a2,#5002a2,#5002a2,#4c02a1,#4903a0,#46039f)"></i>
<i style="background:linear-gradient(90deg,#6700a8,#6600a7,#6400a7,#6300a7,#6100a7,#6100a7,#6001a6,#6001a6,#6001a6,#6001a6,#6001a6,#6001a6,#6001a6,#6001a6,#6001a6,#6001a6,#6001a6,#6001a6,#6001a6,#6001a6,#5e01a6,#5e01a6,#5c01a6,#5c01a6,#5b01a5,#5b01a5,#5901a5,#5801a4,#5502a4,#5302a3,#5002a2,#4e02a2,#4c02a1,#4b03a1,#4b03a1,#4b03a1,#4c02a1,#4c02a1,#4e02a2,#4e02a2,#4c02a1,#4903a0,#46039f)"></i>
<i style="background:linear-gradient(90deg,#6700a8,#6600a7,#6400a7,#6300a7,#6100a7,#6001a6,#6001a6,#6001a6,#6001a6,#6001a6,#6001a6,#6001a6,#6001a6,#6001a6,#6001a6,#6001a6,#6001a6,#6001a6,#6001a6,#6001a6,#5e01a6,#5c01a6,#5c01a6,#5c01a6,#5b01a5,#5b01a5,#5901a5,#5601a4,#5302a3,#5102a3,#4e02a2,#4b03a1,#4b03a1,#4903a0,#4903a0,#4903a0,#4b03a1,#4c02a1,#4e02a2,#4e02a2,#4c02a1,#48039f,#46039f)"></i>
<i style="background:linear-gradient(90deg,#6700a8,#6600a7,#6400a7,#6300a7,#6100a7,#6001a6,#6001a6,#6001a6,#6001a6,#6001a6,#6001a6,#6001a6,#6001a6,#6001a6,#6001a6,#6001a6,#6001a6,#6001a6,#6001a6,#5e01a6,#5e01a6,#5c01a6,#5c01a6,#5b01a5,#5b01a5,#5901a5,#5801a4,#5601a4,#5302a3,#5002a2,#4c02a1,#4903a0,#4903a0,#48039f,#48039f,#4903a0,#4903a0,#4b03a1,#4c02a1,#4e02a2,#4b03a1,#48039f,#44039e)"></i>
<i style="background:linear-gradient(90deg,#6600a7,#6600a7,#6400a7,#6300a7,#6100a7,#6001a6,#6001a6,#6001a6,#6001a6,#6001a6,#6001a6,#6001a6,#6001a6,#6001a6,#6001a6,#6001a6,#6001a6,#6001a6,#6001a6,#5e01a6,#5c01a6,#5c01a6,#5b01a5,#5b01a5,#5b01a5,#5901a5,#5801a4,#5502a4,#5102a3,#4e02a2,#4b03a1,#48039f,#48039f,#46039f,#46039f,#48039f,#4903a0,#4b03a1,#4c02a1,#4e02a2,#4b03a1,#48039f,#44039e)"></i>
<i style="background:linear-gradient(90deg,#6600a7,#6600a7,#6400a7,#6300a7,#6100a7,#6001a6,#5e01a6,#5e01a6,#5e01a6,#5e01a6,#5e01a6,#5e01a6,#5e01a6,#5e01a6,#5e01a6,#5e01a6,#5e01a6,#5e01a6,#5e01a6,#5e01a6,#5c01a6,#5b01a5,#5b01a5,#5b01a5,#5b01a5,#5901a5,#5801a4,#5502a4,#5002a2,#4c02a1,#4903a0,#46039f,#46039f,#44039e,#44039e,#46039f,#48039f,#4903a0,#4b03a1,#4c02a1,#4b03a1,#46039f,#44039e)"></i>
<i style="background:linear-gradient(90deg,#6600a7,#6400a7,#6300a7,#6100a7,#6001a6,#6001a6,#5e01a6,#5e01a6,#5e01a6,#5e01a6,#5e01a6,#5e01a6,#5e01a6,#5e01a6,#5e01a6,#5e01a6,#5e01a6,#5e01a6,#5e01a6,#5e01a6,#5c01a6,#5b01a5,#5b01a5,#5b01a5,#5b01a5,#5901a5,#5601a4,#5302a3,#5002a2,#4b03a1,#48039f,#46039f,#44039e,#44039e,#44039e,#44039e,#46039f,#4903a0,#4b03a1,#4c02a1,#4b03a1,#46039f,#43039e)"></i>
<i style="background:linear-gradient(90deg,#6600a7,#6400a7,#6300a7,#6100a7,#6001a6,#5e01a6,#5e01a6,#5e01a6,#5e01a6,#5e01a6,#5e01a6,#5e01a6,#5e01a6,#5e01a6,#5e01a6,#5e01a6,#5e01a6,#5e01a6,#5e01a6,#5c01a6,#5c01a6,#5b01a5,#5b01a5,#5b01a5,#5b01a5,#5901a5,#5601a4,#5302a3,#4e02a2,#4b03a1,#48039f,#44039e,#43039e,#43039e,#43039e,#44039e,#46039f,#48039f,#4b03a1,#4e02a2,#4b03a1,#46039f,#43039e)"></i>
<i style="background:linear-gradient(90deg,#6600a7,#6400a7,#6300a7,#6100a7,#6001a6,#5e01a6,#5e01a6,#5e01a6,#5e01a6,#5e01a6,#5e01a6,#5e01a6,#5e01a6,#5e01a6,#5e01a6,#5e01a6,#5e01a6,#5e01a6,#5e01a6,#5c01a6,#5c01a6,#5b01a5,#5b01a5,#5c01a6,#5b01a5,#5901a5,#5601a4,#5302a3,#4e02a2,#4903a0,#46039f,#44039e,#43039e,#43039e,#43039e,#44039e,#46039f,#48039f,#4b03a1,#4e02a2,#4c02a1,#46039f,#43039e)"></i>
<i style="background:linear-gradient(90deg,#6400a7,#6400a7,#6300a7,#6100a7,#6001a6,#5e01a6,#5e01a6,#5e01a6,#5e01a6,#5e01a6,#5e01a6,#5e01a6,#5e01a6,#5e01a6,#5e01a6,#5e01a6,#5e01a6,#5e01a6,#5e01a6,#5c01a6,#5c01a6,#5b01a5,#5c01a6,#5c01a6,#5c01a6,#5901a5,#5601a4,#5302a3,#4e02a2,#4903a0,#46039f,#43039e,#41049d,#41049d,#43039e,#43039e,#46039f,#48039f,#4c02a1,#5002a2,#4c02a1,#48039f,#43039e)"></i>
<i style="background:linear-gradient(90deg,#6400a7,#6300a7,#6100a7,#6001a6,#5e01a6,#5e01a6,#5c01a6,#5c01a6,#5c01a6,#5c01a6,#5c01a6,#5c01a6,#5c01a6,#5c01a6,#5c01a6,#5c01a6,#5c01a6,#5c01a6,#5c01a6,#5c01a6,#5c01a6,#5b01a5,#5c01a6,#5e01a6,#5c01a6,#5b01a5,#5801a4,#5302a3,#4c02a1,#4903a0,#46039f,#43039e,#41049d,#41049d,#41049d,#43039e,#46039f,#4903a0,#4c02a1,#5102a3,#4e02a2,#48039f,#43039e)"></i>
<i style="background:linear-gradient(90deg,#6400a7,#6300a7,#6100a7,#6001a6,#5e01a6,#5e01a6,#5c01a6,#5c01a6,#5c01a6,#5c01a6,#5c01a6,#5c01a6,#5c01a6,#5c01a6,#5c01a6,#5c01a6,#5c01a6,#5c01a6,#5c01a6,#5c01a6,#5c01a6,#5c01a6,#5c01a6,#5e01a6,#5e01a6,#5b01a5,#5801a4,#5302a3,#4c02a1,#48039f,#44039e,#43039e,#41049d,#41049d,#41049d,#43039e,#46039f,#4903a0,#4e02a2,#5102a3,#5002a2,#48039f,#43039e)"></i>
<i style="background:linear-gradient(90deg,#6400a7,#6300a7,#6100a7,#6001a6,#5e01a6,#5c01a6,#5c01a6,#5c01a6,#5c01a6,#5c01a6,#5c01a6,#5c01a6,#5c01a6,#5c01a6,#5c01a6,#5c01a6,#5c01a6,#5c01a6,#5c01a6,#5c01a6,#5c01a6,#5c01a6,#5e01a6,#6001a6,#6001a6,#5c01a6,#5801a4,#5302a3,#4c02a1,#48039f,#44039e,#43039e,#41049d,#41049d,#41049d,#43039e,#46039f,#4903a0,#5002a2,#5302a3,#5002a2,#4903a0,#43039e)"></i>
<i style="background:linear-gradient(90deg,#6400a7,#6300a7,#6001a6,#5e01a6,#5e01a6,#5c01a6,#5c01a6,#5c01a6,#5c01a6,#5c01a6,#5c01a6,#5c01a6,#5c01a6,#5c01a6,#5c01a6,#5c01a6,#5c01a6,#5c01a6,#5c01a6,#5c01a6,#5c01a6,#5c01a6,#5e01a6,#6100a7,#6001a6,#5c01a6,#5801a4,#5302a3,#4c02a1,#48039f,#44039e,#43039e,#41049d,#41049d,#41049d,#43039e,#46039f,#4903a0,#5002a2,#5502a4,#5102a3,#4903a0,#43039e)"></i>
<i style="background:linear-gradient(90deg,#6300a7,#6100a7,#6001a6,#5e01a6,#5c01a6,#5c01a6,#5c01a6,#5c01a6,#5c01a6,#5c01a6,#5c01a6,#5c01a6,#5c01a6,#5c01a6,#5c01a6,#5c01a6,#5c01a6,#5c01a6,#5c01a6,#5c01a6,#5c01a6,#5c01a6,#6001a6,#6300a7,#6100a7,#5e01a6,#5901a5,#5302a3,#4c02a1,#48039f,#44039e,#43039e,#41049d,#41049d,#41049d,#44039e,#46039f,#4b03a1,#5102a3,#5601a4,#5302a3,#4903a0,#43039e)"></i>
<i style="background:linear-gradient(90deg,#6300a7,#6100a7,#6001a6,#5e01a6,#5c01a6,#5c01a6,#5c01a6,#5c01a6,#5c01a6,#5c01a6,#5c01a6,#5c01a6,#5c01a6,#5c01a6,#5c01a6,#5c01a6,#5c01a6,#5c01a6,#5c01a6,#5c01a6,#5c01a6,#5e01a6,#6001a6,#6300a7,#6300a7,#5e01a6,#5901a5,#5302a3,#4c02a1,#48039f,#44039e,#43039e,#41049d,#41049d,#41049d,#44039e,#46039f,#4b03a1,#5302a3,#5801a4,#5502a4,#4b03a1,#43039e)"></i>
<i style="background:linear-gradient(90deg,#6300a7,#6100a7,#5e01a6,#5c01a6,#5c01a6,#5b01a5,#5b01a5,#5b01a5,#5b01a5,#5b01a5,#5b01a5,#5b01a5,#5b01a5,#5b01a5,#5b01a5,#5b01a5,#5b01a5,#5b01a5,#5b01a5,#5c01a6,#5c01a6,#5e01a6,#6100a7,#6400a7,#6400a7,#6001a6,#5901a5,#5302a3,#4c02a1,#48039f,#44039e,#43039e,#41049d,#41049d,#41049d,#44039e,#46039f,#4b03a1,#5302a3,#5901a5,#5502a4,#4b03a1,#44039e)"></i>
<i style="background:linear-gradient(90deg,#6300a7,#6100a7,#5e01a6,#5c01a6,#5c01a6,#5b01a5,#5b01a5,#5b01a5,#5b01a5,#5b01a5,#5b01a5,#5b01a5,#5b01a5,#5b01a5,#5b01a5,#5b01a5,#5b01a5,#5b01a5,#5b01a5,#5b01a5,#5c01a6,#5e01a6,#6100a7,#6600a7,#6600a7,#6001a6,#5901a5,#5302a3,#4c02a1,#48039f,#44039e,#43039e,#41049d,#41049d,#41049d,#44039e,#48039f,#4c02a1,#5502a4,#5b01a5,#5601a4,#4b03a1,#44039e)"></i>
<i style="background:linear-gradient(90deg,#6300a7,#6001a6,#5e01a6,#5c01a6,#5b01a5,#5b01a5,#5b01a5,#5b01a5,#5b01a5,#5b01a5,#5b01a5,#5b01a5,#5b01a5,#5b01a5,#5b01a5,#5b01a5,#5b01a5,#5b01a5,#5b01a5,#5b01a5,#5c01a6,#5e01a6,#6300a7,#6600a7,#6600a7,#6100a7,#5b01a5,#5302a3,#4c02a1,#46039f,#44039e,#43039e,#41049d,#41049d,#41049d,#44039e,#48039f,#4c02a1,#5601a4,#5c01a6,#5801a4,#4c02a1,#44039e)"></i>
<i style="background:linear-gradient(90deg,#6100a7,#6001a6,#5c01a6,#5b01a5,#5b01a5,#5b01a5,#5b01a5,#5b01a5,#5b01a5,#5b01a5,#5b01a5,#5b01a5,#5b01a5,#5b01a5,#5b01a5,#5b01a5,#5b01a5,#5b01a5,#5b01a5,#5b01a5,#5c01a6,#5e01a6,#6300a7,#6700a8,#6700a8,#6100a7,#5b01a5,#5302a3,#4c02a1,#46039f,#44039e,#43039e,#41049d,#41049d,#41049d,#44039e,#48039f,#4c02a1,#5601a4,#5e01a6,#5901a5,#4c02a1,#44039e)"></i>
<i style="background:linear-gradient(90deg,#6100a7,#6001a6,#5c01a6,#5b01a5,#5b01a5,#5b01a5,#5b01a5,#5b01a5,#5b01a5,#5b01a5,#5b01a5,#5b01a5,#5b01a5,#5b01a5,#5b01a5,#5b01a5,#5b01a5,#5b01a5,#5b01a5,#5b01a5,#5c01a6,#6001a6,#6400a7,#6900a8,#6700a8,#6100a7,#5b01a5,#5302a3,#4c02a1,#46039f,#44039e,#43039e,#41049d,#41049d,#41049d,#44039e,#48039f,#4e02a2,#5801a4,#5e01a6,#5901a5,#4c02a1,#44039e)"></i>
<i style="background:linear-gradient(90deg,#6100a7,#6001a6,#5c01a6,#5b01a5,#5b01a5,#5b01a5,#5b01a5,#5b01a5,#5b01a5,#5b01a5,#5b01a5,#5b01a5,#5b01a5,#5b01a5,#5b01a5,#5b01a5,#5b01a5,#5b01a5,#5b01a5,#5b01a5,#5c01a6,#6001a6,#6400a7,#6900a8,#6900a8,#6300a7,#5b01a5,#5302a3,#4c02a1,#46039f,#44039e,#43039e,#41049d,#41049d,#41049d,#44039e,#48039f,#4e02a2,#5801a4,#6001a6,#5b01a5,#4e02a2,#44039e)"></i>
<i style="background:linear-gradient(90deg,#6100a7,#6001a6,#5c01a6,#5b01a5,#5b01a5,#5b01a5,#5b01a5,#5b01a5,#5b01a5,#5b01a5,#5b01a5,#5b01a5,#5b01a5,#5b01a5,#5b01a5,#5b01a5,#5b01a5,#5b01a5,#5b01a5,#5b01a5,#5c01a6,#6001a6,#6400a7,#6900a8,#6900a8,#6300a7,#5b01a5,#5302a3,#4c02a1,#46039f,#44039e,#43039e,#41049d,#41049d,#43039e,#44039e,#48039f,#4e02a2,#5801a4,#6001a6,#5b01a5,#4e02a2,#44039e)"></i>
</div><svg width="685" height="252" viewBox="0 0 685 252" style="position:absolute;left:0;top:0;will-change:transform">
<line x1="149.2" y1="28.3" x2="149.2" y2="116.3" stroke="#f00" stroke-width="2" stroke-dasharray="5.8 2.4"/>
<rect x="28" y="23.1" width="166" height="3" fill="#fff"/>
<rect x="28" y="50.65" width="166" height="5.4" fill="#fff" opacity=".3"/>
<rect x="28" y="51.2" width="166" height="4.3" fill="#fff" opacity=".5"/>
<rect x="28" y="51.75" width="166" height="3.2" fill="#fff"/>
<rect x="28" y="85.45" width="166" height="5.3" fill="#fff" opacity=".3"/>
<rect x="28" y="86" width="166" height="4.2" fill="#fff" opacity=".5"/>
<rect x="28" y="86.55" width="166" height="3.1" fill="#fff"/>
<rect x="28" y="119.25" width="166" height="23.5" fill="#fff" opacity=".3"/>
<rect x="28" y="119.8" width="166" height="22.4" fill="#fff" opacity=".5"/>
<rect x="28" y="120.35" width="166" height="21.3" fill="#fff"/>
<rect x="28" y="156.15" width="166" height="5.4" fill="#fff" opacity=".3"/>
<rect x="28" y="156.7" width="166" height="4.3" fill="#fff" opacity=".5"/>
<rect x="28" y="157.25" width="166" height="3.2" fill="#fff"/>
<rect x="28" y="192.95" width="166" height="5.6" fill="#fff" opacity=".3"/>
<rect x="28" y="193.5" width="166" height="4.5" fill="#fff" opacity=".5"/>
<rect x="28" y="194.05" width="166" height="3.4" fill="#fff"/>
<rect x="28" y="224.7" width="166" height="3" fill="#fff"/>
<rect x="27" y="23.1" width="2.2" height="204.6" fill="#fff"/>
<rect x="192.9" y="23.1" width="2.1" height="204.6" fill="#fff"/>
<rect x="237" y="21.2" width="168" height="3" fill="#fff"/>
<rect x="237" y="50.25" width="168" height="6.2" fill="#fff" opacity=".3"/>
<rect x="237" y="50.8" width="168" height="5.1" fill="#fff" opacity=".5"/>
<rect x="237" y="51.35" width="168" height="4" fill="#fff"/>
<rect x="237" y="85.25" width="168" height="6.2" fill="#fff" opacity=".3"/>
<rect x="237" y="85.8" width="168" height="5.1" fill="#fff" opacity=".5"/>
<rect x="237" y="86.35" width="168" height="4" fill="#fff"/>
<rect x="237" y="118.45" width="168" height="24" fill="#fff" opacity=".3"/>
<rect x="237" y="119" width="168" height="22.9" fill="#fff" opacity=".5"/>
<rect x="237" y="119.55" width="168" height="21.8" fill="#fff"/>
<rect x="237" y="156.15" width="168" height="5" fill="#fff" opacity=".3"/>
<rect x="237" y="156.7" width="168" height="3.9" fill="#fff" opacity=".5"/>
<rect x="237" y="157.25" width="168" height="2.8" fill="#fff"/>
<rect x="237" y="193.45" width="168" height="4.9" fill="#fff" opacity=".3"/>
<rect x="237" y="194" width="168" height="3.8" fill="#fff" opacity=".5"/>
<rect x="237" y="194.55" width="168" height="2.7" fill="#fff"/>
<rect x="237" y="225.5" width="168" height="3" fill="#fff"/>
<rect x="236" y="21.2" width="2.7" height="207.3" fill="#fff"/>
<rect x="403.4" y="21.2" width="2.6" height="207.3" fill="#fff"/>
<rect x="451" y="21.2" width="168" height="3" fill="#fff"/>
<rect x="451" y="50.65" width="168" height="5.8" fill="#fff" opacity=".3"/>
<rect x="451" y="51.2" width="168" height="4.7" fill="#fff" opacity=".5"/>
<rect x="451" y="51.75" width="168" height="3.6" fill="#fff"/>
<rect x="451" y="85.35" width="168" height="5.6" fill="#fff" opacity=".3"/>
<rect x="451" y="85.9" width="168" height="4.5" fill="#fff" opacity=".5"/>
<rect x="451" y="86.45" width="168" height="3.4" fill="#fff"/>
<rect x="451" y="118.45" width="168" height="24.1" fill="#fff" opacity=".3"/>
<rect x="451" y="119" width="168" height="23" fill="#fff" opacity=".5"/>
<rect x="451" y="119.55" width="168" height="21.9" fill="#fff"/>
<rect x="451" y="156.35" width="168" height="5.2" fill="#fff" opacity=".3"/>
<rect x="451" y="156.9" width="168" height="4.1" fill="#fff" opacity=".5"/>
<rect x="451" y="157.45" width="168" height="3" fill="#fff"/>
<rect x="451" y="193.15" width="168" height="5.2" fill="#fff" opacity=".3"/>
<rect x="451" y="193.7" width="168" height="4.1" fill="#fff" opacity=".5"/>
<rect x="451" y="194.25" width="168" height="3" fill="#fff"/>
<rect x="451" y="225.3" width="168" height="3" fill="#fff"/>
<rect x="450" y="21.2" width="2" height="207.1" fill="#fff"/>
<rect x="617.5" y="21.2" width="2.5" height="207.1" fill="#fff"/>
<rect x="29.2" y="26.1" width="163.7" height="198.6" fill="none" stroke="#1a1a1a" stroke-width="0.85"/>
<path d="M29.2 42.4h-2.6M29.2 67.01h-2.6M29.2 91.63h-2.6M29.2 116.24h-2.6M29.2 140.86h-2.6M29.2 165.47h-2.6M29.2 190.08h-2.6M29.2 214.7h-2.6M40.3 224.7v2.6M64.98 224.7v2.6M89.66 224.7v2.6M114.34 224.7v2.6M139.02 224.7v2.6M163.7 224.7v2.6M188.38 224.7v2.6" stroke="#1a1a1a" stroke-width="0.85" fill="none"/>
<rect x="238.7" y="24.2" width="164.7" height="201.3" fill="none" stroke="#1a1a1a" stroke-width="0.85"/>
<path d="M238.7 40.6h-2.6M238.7 65.53h-2.6M238.7 90.46h-2.6M238.7 115.39h-2.6M238.7 140.32h-2.6M238.7 165.25h-2.6M238.7 190.18h-2.6M238.7 215.11h-2.6M249.6 225.5v2.6M274.57 225.5v2.6M299.54 225.5v2.6M324.51 225.5v2.6M349.48 225.5v2.6M374.45 225.5v2.6M399.42 225.5v2.6" stroke="#1a1a1a" stroke-width="0.85" fill="none"/>
<rect x="452" y="24.2" width="165.5" height="201.1" fill="none" stroke="#1a1a1a" stroke-width="0.85"/>
<path d="M452 40.65h-2.6M452 65.56h-2.6M452 90.47h-2.6M452 115.38h-2.6M452 140.29h-2.6M452 165.2h-2.6M452 190.11h-2.6M452 215.02h-2.6M462.8 225.3v2.6M487.88 225.3v2.6M512.96 225.3v2.6M538.04 225.3v2.6M563.12 225.3v2.6M588.2 225.3v2.6M613.28 225.3v2.6" stroke="#1a1a1a" stroke-width="0.85" fill="none"/>
<g font-family="Liberation Sans, sans-serif" fill="#111" stroke="#111" stroke-width=".2" style="text-rendering:geometricPrecision">
<text transform="translate(23.2 45.5) scale(0.95 1)" font-size="8.3" text-anchor="end">10</text>
<text transform="translate(23.2 70.11) scale(0.95 1)" font-size="8.3" text-anchor="end">20</text>
<text transform="translate(23.2 94.73) scale(0.95 1)" font-size="8.3" text-anchor="end">30</text>
<text transform="translate(23.2 119.34) scale(0.95 1)" font-size="8.3" text-anchor="end">40</text>
<text transform="translate(23.2 143.96) scale(0.95 1)" font-size="8.3" text-anchor="end">50</text>
<text transform="translate(23.2 168.57) scale(0.95 1)" font-size="8.3" text-anchor="end">60</text>
<text transform="translate(23.2 193.18) scale(0.95 1)" font-size="8.3" text-anchor="end">70</text>
<text transform="translate(23.2 217.8) scale(0.95 1)" font-size="8.3" text-anchor="end">80</text>
<text transform="translate(40.3 236.3) scale(0.95 1)" font-size="8.3" text-anchor="middle">90</text>
<text transform="translate(64.98 236.3) scale(0.95 1)" font-size="8.3" text-anchor="middle">80</text>
<text transform="translate(89.66 236.3) scale(0.95 1)" font-size="8.3" text-anchor="middle">70</text>
<text transform="translate(114.34 236.3) scale(0.95 1)" font-size="8.3" text-anchor="middle">60</text>
<text transform="translate(139.02 236.3) scale(0.95 1)" font-size="8.3" text-anchor="middle">50</text>
<text transform="translate(163.7 236.3) scale(0.95 1)" font-size="8.3" text-anchor="middle">40</text>
<text transform="translate(188.38 236.3) scale(0.95 1)" font-size="8.3" text-anchor="middle">30</text>
<text transform="translate(110.4 248.3) scale(1.053 1)" font-size="9.7" text-anchor="middle">X position (mm)</text>
<text transform="translate(9 125.2) rotate(-90) scale(1.053 1)" font-size="9.7" text-anchor="middle">Y position (mm)</text>
<text transform="translate(112.9 134.4) scale(1.035 1)" font-size="9.8" text-anchor="middle">Ni standard on glass slide</text>
<text transform="translate(110.5 13.1) scale(0.968 1)" font-size="15.8" text-anchor="middle" fill="#111" stroke="none">Cu<tspan font-size="11" dy="4.1">2</tspan><tspan dy="-4.1">Mg (2 2 2)/CuMg</tspan><tspan font-size="11" dy="4.1">2</tspan><tspan dy="-4.1"> (4 4 0)</tspan></text>
<text transform="translate(232.2 43.7) scale(0.95 1)" font-size="8.3" text-anchor="end">10</text>
<text transform="translate(232.2 68.63) scale(0.95 1)" font-size="8.3" text-anchor="end">20</text>
<text transform="translate(232.2 93.56) scale(0.95 1)" font-size="8.3" text-anchor="end">30</text>
<text transform="translate(232.2 118.49) scale(0.95 1)" font-size="8.3" text-anchor="end">40</text>
<text transform="translate(232.2 143.42) scale(0.95 1)" font-size="8.3" text-anchor="end">50</text>
<text transform="translate(232.2 168.35) scale(0.95 1)" font-size="8.3" text-anchor="end">60</text>
<text transform="translate(232.2 193.28) scale(0.95 1)" font-size="8.3" text-anchor="end">70</text>
<text transform="translate(232.2 218.21) scale(0.95 1)" font-size="8.3" text-anchor="end">80</text>
<text transform="translate(249.6 236.9) scale(0.95 1)" font-size="8.3" text-anchor="middle">90</text>
<text transform="translate(274.57 236.9) scale(0.95 1)" font-size="8.3" text-anchor="middle">80</text>
<text transform="translate(299.54 236.9) scale(0.95 1)" font-size="8.3" text-anchor="middle">70</text>
<text transform="translate(324.51 236.9) scale(0.95 1)" font-size="8.3" text-anchor="middle">60</text>
<text transform="translate(349.48 236.9) scale(0.95 1)" font-size="8.3" text-anchor="middle">50</text>
<text transform="translate(374.45 236.9) scale(0.95 1)" font-size="8.3" text-anchor="middle">40</text>
<text transform="translate(399.42 236.9) scale(0.95 1)" font-size="8.3" text-anchor="middle">30</text>
<text transform="translate(320.5 248.4) scale(1.053 1)" font-size="9.7" text-anchor="middle">X position (mm)</text>
<text transform="translate(217.4 125.1) rotate(-90) scale(1.053 1)" font-size="9.7" text-anchor="middle">Y position (mm)</text>
<text transform="translate(322.8 133.8) scale(1.035 1)" font-size="9.8" text-anchor="middle">Ni standard on glass slide</text>
<text transform="translate(320.8 13.1) scale(0.95 1)" font-size="15.8" text-anchor="middle" fill="#111" stroke="none">Cu<tspan font-size="11" dy="4.1">2</tspan><tspan dy="-4.1">Mg (1 1 1)</tspan></text>
<text transform="translate(445.9 43.75) scale(0.95 1)" font-size="8.3" text-anchor="end">10</text>
<text transform="translate(445.9 68.66) scale(0.95 1)" font-size="8.3" text-anchor="end">20</text>
<text transform="translate(445.9 93.57) scale(0.95 1)" font-size="8.3" text-anchor="end">30</text>
<text transform="translate(445.9 118.48) scale(0.95 1)" font-size="8.3" text-anchor="end">40</text>
<text transform="translate(445.9 143.39) scale(0.95 1)" font-size="8.3" text-anchor="end">50</text>
<text transform="translate(445.9 168.3) scale(0.95 1)" font-size="8.3" text-anchor="end">60</text>
<text transform="translate(445.9 193.21) scale(0.95 1)" font-size="8.3" text-anchor="end">70</text>
<text transform="translate(445.9 218.12) scale(0.95 1)" font-size="8.3" text-anchor="end">80</text>
<text transform="translate(462.8 236.8) scale(0.95 1)" font-size="8.3" text-anchor="middle">90</text>
<text transform="translate(487.88 236.8) scale(0.95 1)" font-size="8.3" text-anchor="middle">80</text>
<text transform="translate(512.96 236.8) scale(0.95 1)" font-size="8.3" text-anchor="middle">70</text>
<text transform="translate(538.04 236.8) scale(0.95 1)" font-size="8.3" text-anchor="middle">60</text>
<text transform="translate(563.12 236.8) scale(0.95 1)" font-size="8.3" text-anchor="middle">50</text>
<text transform="translate(588.2 236.8) scale(0.95 1)" font-size="8.3" text-anchor="middle">40</text>
<text transform="translate(613.28 236.8) scale(0.95 1)" font-size="8.3" text-anchor="middle">30</text>
<text transform="translate(533.9 248.4) scale(1.053 1)" font-size="9.7" text-anchor="middle">X position (mm)</text>
<text transform="translate(431 124.8) rotate(-90) scale(1.053 1)" font-size="9.7" text-anchor="middle">Y position (mm)</text>
<text transform="translate(536.6 133.8) scale(1.035 1)" font-size="9.8" text-anchor="middle">Ni standard on glass slide</text>
<text transform="translate(540.8 13.1) scale(0.95 1)" font-size="15.8" text-anchor="middle" fill="#111" stroke="none">CuMg<tspan font-size="11" dy="4.1">2</tspan><tspan dy="-4.1"> (0 8 0)</tspan></text>
</g>
<defs><linearGradient id="cb" x1="0" y1="1" x2="0" y2="0">
<stop offset="0" stop-color="#0d0887"/>
<stop offset="0.03" stop-color="#220690"/>
<stop offset="0.06" stop-color="#310597"/>
<stop offset="0.09" stop-color="#3f049c"/>
<stop offset="0.12" stop-color="#4c02a1"/>
<stop offset="0.16" stop-color="#5901a5"/>
<stop offset="0.19" stop-color="#6600a7"/>
<stop offset="0.22" stop-color="#7201a8"/>
<stop offset="0.25" stop-color="#7e03a8"/>
<stop offset="0.28" stop-color="#8a09a5"/>
<stop offset="0.31" stop-color="#9511a1"/>
<stop offset="0.34" stop-color="#a01a9c"/>
<stop offset="0.38" stop-color="#aa2395"/>
<stop offset="0.41" stop-color="#b32c8e"/>
<stop offset="0.44" stop-color="#bc3587"/>
<stop offset="0.47" stop-color="#c43e7f"/>
<stop offset="0.5" stop-color="#cc4778"/>
<stop offset="0.53" stop-color="#d35171"/>
<stop offset="0.56" stop-color="#da5a6a"/>
<stop offset="0.59" stop-color="#e06363"/>
<stop offset="0.62" stop-color="#e66c5c"/>
<stop offset="0.66" stop-color="#eb7655"/>
<stop offset="0.69" stop-color="#f0804e"/>
<stop offset="0.72" stop-color="#f58b47"/>
<stop offset="0.75" stop-color="#f89540"/>
<stop offset="0.78" stop-color="#fba139"/>
<stop offset="0.81" stop-color="#fdac33"/>
<stop offset="0.84" stop-color="#feb82c"/>
<stop offset="0.88" stop-color="#fdc527"/>
<stop offset="0.91" stop-color="#fcd225"/>
<stop offset="0.94" stop-color="#f8df25"/>
<stop offset="0.97" stop-color="#f4ed27"/>
<stop offset="1" stop-color="#f0f921"/>
</linearGradient></defs>
<rect x="630.8" y="24.3" width="10.2" height="200.9" fill="url(#cb)" stroke="#1a1a1a" stroke-width="0.85"/>
<g font-family="Liberation Sans, sans-serif" fill="#111" stroke="#111" stroke-width=".2" style="text-rendering:geometricPrecision">
<text transform="translate(646.6 36) scale(0.97 1)" font-size="8.3">0.35</text>
<text transform="translate(646.6 58.88) scale(0.97 1)" font-size="8.3">0.30</text>
<text transform="translate(646.6 81.75) scale(0.97 1)" font-size="8.3">0.25</text>
<text transform="translate(646.6 104.62) scale(0.97 1)" font-size="8.3">0.20</text>
<text transform="translate(646.6 127.5) scale(0.97 1)" font-size="8.3">0.15</text>
<text transform="translate(646.6 150.38) scale(0.97 1)" font-size="8.3">0.10</text>
<text transform="translate(646.6 173.25) scale(0.97 1)" font-size="8.3">0.05</text>
<text transform="translate(646.6 196.12) scale(0.97 1)" font-size="8.3">0.00</text>
<text transform="translate(646.6 219) scale(0.97 1)" font-size="8.3">−0.05</text>
<text transform="translate(681.8 127) rotate(-90) scale(1.093 1)" font-size="9.7" text-anchor="middle">Diffraction peak intensity</text>
</g>
<path d="M641 33.3h2.6M641 56.17h2.6M641 79.05h2.6M641 101.92h2.6M641 124.8h2.6M641 147.68h2.6M641 170.55h2.6M641 193.43h2.6M641 216.3h2.6" stroke="#1a1a1a" stroke-width="0.85" fill="none"/>
</svg>
</body></html>
